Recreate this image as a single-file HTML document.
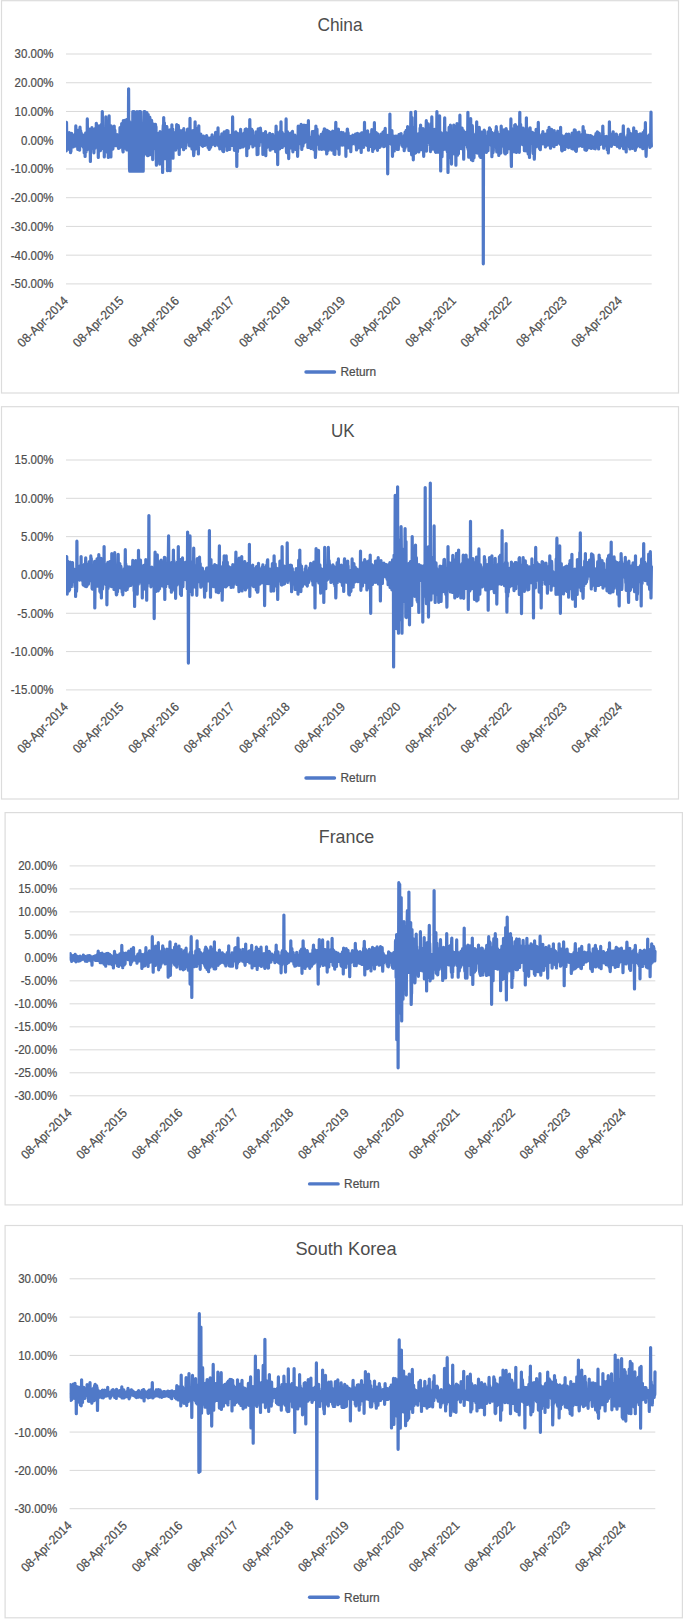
<!DOCTYPE html>
<html lang="en"><head><meta charset="utf-8"><title>Return charts</title>
<style>
html,body{margin:0;padding:0;background:#fff}
body{width:685px;height:1620px;overflow:hidden}
svg{display:block;font-family:"Liberation Sans", sans-serif}
text{stroke:#4d4d4d;stroke-width:0.22px}
</style></head><body>
<svg width="685" height="1620" viewBox="0 0 685 1620">
<rect width="685" height="1620" fill="#fff"/>
<g>
<rect x="1.5" y="0.7" width="677" height="392.3" fill="#fff" stroke="#dcdcdc" stroke-width="1.2"/>
<line x1="66.0" x2="651.7" y1="54.00" y2="54.00" stroke="#d9d9d9" stroke-width="1"/>
<text transform="translate(53.60,58.45) scale(0.9055,1)" text-anchor="end" font-size="12.7" fill="#4d4d4d">30.00%</text>
<line x1="66.0" x2="651.7" y1="82.74" y2="82.74" stroke="#d9d9d9" stroke-width="1"/>
<text transform="translate(53.60,87.19) scale(0.9055,1)" text-anchor="end" font-size="12.7" fill="#4d4d4d">20.00%</text>
<line x1="66.0" x2="651.7" y1="111.47" y2="111.47" stroke="#d9d9d9" stroke-width="1"/>
<text transform="translate(53.60,115.92) scale(0.9055,1)" text-anchor="end" font-size="12.7" fill="#4d4d4d">10.00%</text>
<line x1="66.0" x2="651.7" y1="140.21" y2="140.21" stroke="#d9d9d9" stroke-width="1"/>
<text transform="translate(53.60,144.66) scale(0.9055,1)" text-anchor="end" font-size="12.7" fill="#4d4d4d">0.00%</text>
<line x1="66.0" x2="651.7" y1="168.95" y2="168.95" stroke="#d9d9d9" stroke-width="1"/>
<text transform="translate(53.60,173.40) scale(0.9055,1)" text-anchor="end" font-size="12.7" fill="#4d4d4d">-10.00%</text>
<line x1="66.0" x2="651.7" y1="197.69" y2="197.69" stroke="#d9d9d9" stroke-width="1"/>
<text transform="translate(53.60,202.14) scale(0.9055,1)" text-anchor="end" font-size="12.7" fill="#4d4d4d">-20.00%</text>
<line x1="66.0" x2="651.7" y1="226.42" y2="226.42" stroke="#d9d9d9" stroke-width="1"/>
<text transform="translate(53.60,230.87) scale(0.9055,1)" text-anchor="end" font-size="12.7" fill="#4d4d4d">-30.00%</text>
<line x1="66.0" x2="651.7" y1="255.16" y2="255.16" stroke="#d9d9d9" stroke-width="1"/>
<text transform="translate(53.60,259.61) scale(0.9055,1)" text-anchor="end" font-size="12.7" fill="#4d4d4d">-40.00%</text>
<line x1="66.0" x2="651.7" y1="283.90" y2="283.90" stroke="#d9d9d9" stroke-width="1"/>
<text transform="translate(53.60,288.35) scale(0.9055,1)" text-anchor="end" font-size="12.7" fill="#4d4d4d">-50.00%</text>
<text transform="translate(69.00,301.60) rotate(-45) scale(0.93,1)" text-anchor="end" font-size="12.7" fill="#4d4d4d">08-Apr-2014</text>
<text transform="translate(124.40,301.60) rotate(-45) scale(0.93,1)" text-anchor="end" font-size="12.7" fill="#4d4d4d">08-Apr-2015</text>
<text transform="translate(179.80,301.60) rotate(-45) scale(0.93,1)" text-anchor="end" font-size="12.7" fill="#4d4d4d">08-Apr-2016</text>
<text transform="translate(235.20,301.60) rotate(-45) scale(0.93,1)" text-anchor="end" font-size="12.7" fill="#4d4d4d">08-Apr-2017</text>
<text transform="translate(290.60,301.60) rotate(-45) scale(0.93,1)" text-anchor="end" font-size="12.7" fill="#4d4d4d">08-Apr-2018</text>
<text transform="translate(346.00,301.60) rotate(-45) scale(0.93,1)" text-anchor="end" font-size="12.7" fill="#4d4d4d">08-Apr-2019</text>
<text transform="translate(401.40,301.60) rotate(-45) scale(0.93,1)" text-anchor="end" font-size="12.7" fill="#4d4d4d">08-Apr-2020</text>
<text transform="translate(456.80,301.60) rotate(-45) scale(0.93,1)" text-anchor="end" font-size="12.7" fill="#4d4d4d">08-Apr-2021</text>
<text transform="translate(512.20,301.60) rotate(-45) scale(0.93,1)" text-anchor="end" font-size="12.7" fill="#4d4d4d">08-Apr-2022</text>
<text transform="translate(567.60,301.60) rotate(-45) scale(0.93,1)" text-anchor="end" font-size="12.7" fill="#4d4d4d">08-Apr-2023</text>
<text transform="translate(623.00,301.60) rotate(-45) scale(0.93,1)" text-anchor="end" font-size="12.7" fill="#4d4d4d">08-Apr-2024</text>
<text transform="translate(340.00,30.60) scale(0.963,1)" text-anchor="middle" font-size="18" fill="#4d4d4d" style="stroke:none">China</text>
<line x1="306.0" x2="334.5" y1="372.0" y2="372.0" stroke="#5079c8" stroke-width="3.4" stroke-linecap="round"/>
<text transform="translate(340.50,376.35) scale(0.935,1)" font-size="12.7" fill="#4d4d4d">Return</text>
<clipPath id="clip100"><rect x="66.0" y="1.7" width="589.7" height="303.2"/></clipPath>
<polyline clip-path="url(#clip100)" points="66.3,150.8 66.5,122.4 66.7,134.8 67.0,137.1 67.2,147.9 67.4,137.1 67.6,138.5 67.8,138.5 68.1,138.4 68.3,137.3 68.5,134.8 68.7,144.8 69.0,140.0 69.2,132.5 69.4,149.6 69.6,138.2 69.8,145.3 70.1,140.4 70.3,136.5 70.5,152.6 70.7,148.1 70.9,151.6 71.2,142.1 71.4,146.0 71.6,133.3 71.8,145.5 72.0,134.6 72.3,143.8 72.5,139.2 72.7,140.0 72.9,140.2 73.1,147.0 73.4,138.1 73.6,137.5 73.8,138.4 74.0,135.1 74.3,143.4 74.5,141.4 74.7,142.7 74.9,146.1 75.1,136.5 75.4,143.2 75.6,140.7 75.8,125.9 76.0,138.3 76.2,139.4 76.5,133.1 76.7,133.5 76.9,133.2 77.1,143.8 77.3,133.8 77.6,141.2 77.8,149.5 78.0,148.1 78.2,131.9 78.4,134.2 78.7,130.2 78.9,147.2 79.1,142.6 79.3,148.3 79.6,150.2 79.8,140.3 80.0,127.2 80.2,131.1 80.4,142.9 80.7,130.8 80.9,142.2 81.1,137.6 81.3,133.1 81.5,142.5 81.8,145.6 82.0,135.0 82.2,141.5 82.4,144.6 82.6,135.6 82.9,142.0 83.1,137.3 83.3,147.1 83.5,135.1 83.7,146.3 84.0,142.9 84.2,153.0 84.4,136.2 84.6,139.9 84.9,138.6 85.1,156.4 85.3,139.7 85.5,143.8 85.7,132.8 86.0,151.9 86.2,137.6 86.4,132.5 86.6,149.4 86.8,139.4 87.1,150.0 87.3,118.9 87.5,137.6 87.7,130.0 87.9,138.9 88.2,145.1 88.4,135.8 88.6,140.2 88.8,131.3 89.1,143.2 89.3,129.0 89.5,138.9 89.7,138.5 89.9,133.9 90.2,144.8 90.4,161.5 90.6,138.1 90.8,141.0 91.0,140.0 91.3,143.5 91.5,142.5 91.7,133.7 91.9,127.5 92.1,148.5 92.4,128.9 92.6,134.9 92.8,131.4 93.0,138.8 93.2,145.7 93.5,141.9 93.7,148.1 93.9,152.8 94.1,140.8 94.4,137.9 94.6,141.7 94.8,138.2 95.0,148.3 95.2,128.7 95.5,141.2 95.7,139.8 95.9,133.2 96.1,143.6 96.3,123.3 96.6,126.4 96.8,126.9 97.0,138.7 97.2,143.6 97.4,136.5 97.7,144.4 97.9,138.5 98.1,138.3 98.3,157.5 98.5,135.7 98.8,138.6 99.0,125.8 99.2,140.9 99.4,143.3 99.7,143.2 99.9,126.7 100.1,139.9 100.3,144.0 100.5,150.7 100.8,147.4 101.0,137.0 101.2,134.2 101.4,124.3 101.6,146.4 101.9,135.5 102.1,128.3 102.3,111.5 102.5,125.5 102.7,148.3 103.0,147.6 103.2,130.6 103.4,136.1 103.6,128.9 103.8,134.5 104.1,137.7 104.3,156.9 104.5,146.2 104.7,133.8 105.0,152.1 105.2,141.7 105.4,130.9 105.6,152.0 105.8,116.9 106.1,131.0 106.3,139.5 106.5,142.1 106.7,134.9 106.9,133.9 107.2,143.1 107.4,125.2 107.6,126.5 107.8,131.7 108.0,128.8 108.3,157.5 108.5,151.1 108.7,126.7 108.9,151.3 109.1,115.8 109.4,150.4 109.6,135.6 109.8,137.2 110.0,138.6 110.3,156.6 110.5,134.6 110.7,138.3 110.9,157.0 111.1,125.9 111.4,141.7 111.6,147.3 111.8,135.2 112.0,144.4 112.2,135.8 112.5,142.8 112.7,146.9 112.9,149.1 113.1,133.3 113.3,139.3 113.6,145.0 113.8,143.1 114.0,143.2 114.2,126.1 114.5,137.1 114.7,138.9 114.9,130.2 115.1,142.6 115.3,145.7 115.6,143.1 115.8,138.7 116.0,141.3 116.2,141.8 116.4,138.9 116.7,141.7 116.9,143.7 117.1,134.5 117.3,141.4 117.5,141.7 117.8,135.7 118.0,136.4 118.2,147.3 118.4,144.8 118.6,148.5 118.9,147.1 119.1,137.1 119.3,142.9 119.5,145.4 119.8,147.6 120.0,127.6 120.2,142.5 120.4,138.7 120.6,140.7 120.9,143.4 121.1,138.3 121.3,139.8 121.5,133.2 121.7,123.5 122.0,145.1 122.2,141.1 122.4,141.2 122.6,141.1 122.8,150.1 123.1,151.9 123.3,120.7 123.5,136.7 123.7,145.5 123.9,123.7 124.2,134.6 124.4,142.3 124.6,130.2 124.8,120.4 125.1,147.1 125.3,148.2 125.5,129.2 125.7,146.0 125.9,131.1 126.2,137.5 126.4,144.8 126.6,119.5 126.8,150.0 127.0,135.5 127.3,149.3 127.5,148.6 127.7,136.4 127.9,145.1 128.1,131.0 128.4,129.8 128.6,88.8 128.8,138.8 129.0,149.1 129.2,121.1 129.5,167.6 129.7,171.2 129.9,151.8 130.1,153.7 130.4,171.2 130.6,137.4 130.8,171.2 131.0,171.2 131.2,122.7 131.5,138.7 131.7,171.2 131.9,171.2 132.1,154.1 132.3,171.2 132.6,171.2 132.8,111.5 133.0,147.5 133.2,165.0 133.4,135.9 133.7,165.4 133.9,139.1 134.1,111.5 134.3,142.3 134.6,160.6 134.8,171.2 135.0,117.3 135.2,145.6 135.4,120.7 135.7,171.2 135.9,156.9 136.1,137.0 136.3,122.0 136.5,133.2 136.8,157.1 137.0,111.5 137.2,143.2 137.4,171.2 137.6,171.2 137.9,144.6 138.1,131.3 138.3,171.2 138.5,171.2 138.7,124.4 139.0,128.5 139.2,122.0 139.4,111.5 139.6,138.0 139.9,171.2 140.1,111.5 140.3,111.5 140.5,111.5 140.7,121.0 141.0,134.4 141.2,131.1 141.4,128.6 141.6,171.2 141.8,144.2 142.1,153.4 142.3,131.4 142.5,133.5 142.7,153.0 142.9,159.1 143.2,171.2 143.4,132.7 143.6,155.9 143.8,150.3 144.0,111.5 144.3,111.5 144.5,142.4 144.7,111.5 144.9,111.5 145.2,136.3 145.4,148.5 145.6,148.4 145.8,123.7 146.0,153.8 146.3,113.0 146.5,127.5 146.7,143.1 146.9,112.6 147.1,135.7 147.4,155.4 147.6,149.2 147.8,155.7 148.0,114.9 148.2,114.6 148.5,139.1 148.7,143.0 148.9,128.0 149.1,132.1 149.3,150.3 149.6,154.8 149.8,117.2 150.0,128.1 150.2,143.8 150.5,128.6 150.7,140.6 150.9,151.2 151.1,145.3 151.3,129.4 151.6,120.4 151.8,137.7 152.0,154.3 152.2,148.9 152.4,133.4 152.7,159.6 152.9,131.1 153.1,147.6 153.3,149.2 153.5,124.1 153.8,147.2 154.0,132.9 154.2,144.6 154.4,137.9 154.7,133.5 154.9,132.2 155.1,142.9 155.3,127.3 155.5,124.3 155.8,148.1 156.0,126.7 156.2,150.5 156.4,165.2 156.6,139.2 156.9,140.1 157.1,134.6 157.3,160.8 157.5,146.8 157.7,139.2 158.0,138.4 158.2,139.8 158.4,138.8 158.6,133.4 158.8,147.5 159.1,148.5 159.3,141.2 159.5,135.3 159.7,164.1 160.0,131.7 160.2,145.7 160.4,150.5 160.6,145.0 160.8,153.8 161.1,149.2 161.3,142.3 161.5,137.3 161.7,135.2 161.9,142.2 162.2,141.9 162.4,136.1 162.6,172.4 162.8,142.3 163.0,130.4 163.3,125.2 163.5,143.1 163.7,117.5 163.9,148.7 164.1,125.8 164.4,122.8 164.6,142.0 164.8,158.7 165.0,138.3 165.3,131.8 165.5,130.9 165.7,136.5 165.9,126.3 166.1,140.0 166.4,127.3 166.6,156.0 166.8,126.6 167.0,128.7 167.2,131.1 167.5,170.7 167.7,141.9 167.9,156.6 168.1,139.4 168.3,136.8 168.6,133.9 168.8,155.7 169.0,149.6 169.2,160.9 169.4,139.4 169.7,152.7 169.9,129.9 170.1,170.7 170.3,135.1 170.6,144.3 170.8,140.5 171.0,142.6 171.2,154.4 171.4,131.6 171.7,149.8 171.9,124.8 172.1,155.8 172.3,145.1 172.5,129.2 172.8,129.3 173.0,158.2 173.2,138.3 173.4,138.7 173.6,138.1 173.9,145.2 174.1,149.8 174.3,139.0 174.5,136.2 174.8,132.9 175.0,141.2 175.2,147.1 175.4,134.5 175.6,150.1 175.9,145.3 176.1,144.9 176.3,140.5 176.5,138.8 176.7,124.6 177.0,134.2 177.2,131.0 177.4,143.1 177.6,147.7 177.8,143.1 178.1,144.7 178.3,125.7 178.5,127.7 178.7,133.8 178.9,141.1 179.2,154.4 179.4,143.6 179.6,146.9 179.8,147.6 180.1,138.0 180.3,131.6 180.5,130.8 180.7,141.4 180.9,139.3 181.2,137.8 181.4,146.6 181.6,131.3 181.8,136.5 182.0,139.3 182.3,136.1 182.5,144.2 182.7,141.8 182.9,130.1 183.1,132.0 183.4,138.4 183.6,149.7 183.8,128.7 184.0,136.7 184.2,134.3 184.5,144.7 184.7,137.6 184.9,137.9 185.1,138.8 185.4,135.3 185.6,147.9 185.8,133.2 186.0,141.5 186.2,142.2 186.5,139.5 186.7,136.1 186.9,137.7 187.1,141.9 187.3,134.9 187.6,129.1 187.8,134.8 188.0,141.0 188.2,132.3 188.4,134.5 188.7,142.3 188.9,132.3 189.1,145.3 189.3,136.3 189.5,130.1 189.8,146.0 190.0,118.4 190.2,143.9 190.4,132.6 190.7,142.7 190.9,140.2 191.1,137.5 191.3,133.5 191.5,134.6 191.8,144.4 192.0,149.0 192.2,130.8 192.4,139.5 192.6,134.1 192.9,145.3 193.1,140.2 193.3,130.7 193.5,152.6 193.7,155.7 194.0,152.0 194.2,133.8 194.4,139.5 194.6,146.3 194.8,149.3 195.1,121.8 195.3,139.7 195.5,141.0 195.7,134.2 196.0,144.9 196.2,136.6 196.4,133.6 196.6,142.7 196.8,136.8 197.1,133.6 197.3,146.7 197.5,143.9 197.7,149.5 197.9,135.2 198.2,127.9 198.4,154.0 198.6,140.0 198.8,125.8 199.0,145.1 199.3,135.8 199.5,136.7 199.7,142.7 199.9,136.0 200.2,138.6 200.4,140.6 200.6,141.4 200.8,134.1 201.0,139.5 201.3,143.5 201.5,142.4 201.7,138.8 201.9,138.4 202.1,145.6 202.4,136.8 202.6,144.8 202.8,146.3 203.0,141.5 203.2,138.7 203.5,136.1 203.7,145.2 203.9,141.9 204.1,137.1 204.3,140.4 204.6,137.3 204.8,138.5 205.0,145.4 205.2,142.6 205.5,137.4 205.7,144.1 205.9,137.7 206.1,140.6 206.3,143.0 206.6,135.5 206.8,144.1 207.0,143.5 207.2,141.9 207.4,142.0 207.7,139.0 207.9,139.5 208.1,147.5 208.3,138.1 208.5,138.0 208.8,138.1 209.0,139.0 209.2,149.5 209.4,138.3 209.6,143.7 209.9,148.5 210.1,140.1 210.3,138.5 210.5,147.4 210.8,146.6 211.0,138.8 211.2,137.5 211.4,142.3 211.6,139.4 211.9,140.2 212.1,134.9 212.3,139.2 212.5,144.3 212.7,142.2 213.0,137.6 213.2,137.4 213.4,137.2 213.6,140.8 213.8,143.4 214.1,137.5 214.3,140.8 214.5,141.6 214.7,144.4 214.9,138.6 215.2,145.7 215.4,142.6 215.6,132.3 215.8,140.7 216.1,133.8 216.3,139.1 216.5,138.1 216.7,139.3 216.9,132.3 217.2,138.4 217.4,139.0 217.6,139.6 217.8,142.6 218.0,127.9 218.3,143.2 218.5,145.7 218.7,139.5 218.9,138.9 219.1,146.3 219.4,139.3 219.6,140.3 219.8,148.9 220.0,148.3 220.3,139.2 220.5,140.2 220.7,137.7 220.9,146.2 221.1,136.5 221.4,139.8 221.6,138.5 221.8,133.9 222.0,140.4 222.2,141.4 222.5,143.2 222.7,150.6 222.9,140.9 223.1,151.5 223.3,148.4 223.6,151.7 223.8,135.0 224.0,140.9 224.2,131.8 224.4,143.1 224.7,142.1 224.9,143.6 225.1,144.5 225.3,136.3 225.6,145.9 225.8,135.7 226.0,135.1 226.2,142.1 226.4,139.4 226.7,130.5 226.9,140.1 227.1,150.3 227.3,144.5 227.5,130.5 227.8,144.7 228.0,130.9 228.2,141.8 228.4,135.5 228.6,142.3 228.9,143.3 229.1,141.8 229.3,148.9 229.5,138.0 229.7,149.5 230.0,140.6 230.2,146.2 230.4,138.9 230.6,135.4 230.9,140.1 231.1,142.0 231.3,139.2 231.5,138.8 231.7,137.6 232.0,143.3 232.2,136.5 232.4,145.5 232.6,116.9 232.8,135.1 233.1,139.6 233.3,138.3 233.5,139.2 233.7,139.5 233.9,135.5 234.2,139.9 234.4,150.3 234.6,141.4 234.8,138.9 235.0,143.9 235.3,144.4 235.5,133.0 235.7,137.1 235.9,131.8 236.2,138.7 236.4,148.5 236.6,141.8 236.8,166.4 237.0,142.7 237.3,137.1 237.5,151.6 237.7,141.1 237.9,133.7 238.1,146.0 238.4,136.8 238.6,140.1 238.8,145.8 239.0,143.4 239.2,133.8 239.5,143.0 239.7,139.9 239.9,140.6 240.1,147.7 240.4,135.8 240.6,129.3 240.8,138.0 241.0,141.0 241.2,144.0 241.5,143.9 241.7,136.5 241.9,147.0 242.1,137.9 242.3,139.4 242.6,139.1 242.8,140.2 243.0,147.0 243.2,146.0 243.4,141.1 243.7,138.0 243.9,133.2 244.1,138.4 244.3,136.5 244.5,144.2 244.8,133.9 245.0,136.5 245.2,129.4 245.4,133.2 245.7,139.8 245.9,146.1 246.1,128.8 246.3,145.2 246.5,137.8 246.8,155.7 247.0,135.0 247.2,146.6 247.4,146.2 247.6,132.8 247.9,135.4 248.1,129.5 248.3,144.4 248.5,148.2 248.7,146.0 249.0,144.7 249.2,142.3 249.4,138.4 249.6,138.5 249.8,119.5 250.1,143.4 250.3,138.6 250.5,142.1 250.7,134.3 251.0,141.6 251.2,142.7 251.4,131.4 251.6,131.5 251.8,129.4 252.1,144.2 252.3,133.4 252.5,130.5 252.7,138.4 252.9,147.0 253.2,141.2 253.4,136.5 253.6,139.5 253.8,139.6 254.0,136.6 254.3,135.9 254.5,136.5 254.7,142.6 254.9,144.6 255.1,136.5 255.4,136.8 255.6,140.4 255.8,145.5 256.0,131.9 256.3,142.8 256.5,145.5 256.7,141.8 256.9,139.4 257.1,154.7 257.4,151.8 257.6,140.4 257.8,139.8 258.0,154.3 258.2,128.8 258.5,132.0 258.7,136.4 258.9,135.9 259.1,145.7 259.3,139.6 259.6,136.3 259.8,139.4 260.0,137.5 260.2,135.5 260.4,128.1 260.7,131.6 260.9,141.7 261.1,132.5 261.3,141.5 261.6,138.9 261.8,138.5 262.0,140.2 262.2,141.0 262.4,139.3 262.7,139.1 262.9,154.5 263.1,141.1 263.3,147.7 263.5,133.5 263.8,139.4 264.0,145.6 264.2,137.8 264.4,139.4 264.6,136.9 264.9,147.1 265.1,141.9 265.3,145.6 265.5,131.5 265.8,155.7 266.0,142.1 266.2,141.0 266.4,141.0 266.6,143.7 266.9,146.1 267.1,147.4 267.3,135.4 267.5,145.6 267.7,137.9 268.0,135.3 268.2,137.0 268.4,140.6 268.6,137.6 268.8,143.9 269.1,146.9 269.3,136.7 269.5,137.2 269.7,133.4 269.9,140.2 270.2,150.2 270.4,142.5 270.6,142.7 270.8,134.5 271.1,142.6 271.3,136.7 271.5,139.5 271.7,139.4 271.9,139.4 272.2,138.1 272.4,146.7 272.6,134.3 272.8,148.8 273.0,144.0 273.3,144.1 273.5,137.3 273.7,144.7 273.9,136.3 274.1,145.7 274.4,136.3 274.6,138.6 274.8,138.0 275.0,139.1 275.2,137.1 275.5,146.1 275.7,151.7 275.9,135.7 276.1,126.1 276.4,141.3 276.6,141.9 276.8,141.1 277.0,139.1 277.2,135.0 277.5,142.0 277.7,164.6 277.9,132.8 278.1,141.4 278.3,136.0 278.6,145.6 278.8,139.5 279.0,142.3 279.2,132.6 279.4,143.0 279.7,148.8 279.9,138.6 280.1,143.5 280.3,130.9 280.5,136.9 280.8,143.0 281.0,121.8 281.2,139.7 281.4,141.7 281.7,141.1 281.9,139.4 282.1,132.3 282.3,147.5 282.5,139.4 282.8,137.4 283.0,136.4 283.2,141.0 283.4,139.2 283.6,141.6 283.9,134.4 284.1,144.0 284.3,138.8 284.5,145.6 284.7,136.8 285.0,145.8 285.2,134.0 285.4,144.5 285.6,140.8 285.9,140.6 286.1,118.9 286.3,144.4 286.5,151.7 286.7,152.5 287.0,142.2 287.2,131.6 287.4,131.6 287.6,136.7 287.8,133.3 288.1,140.1 288.3,140.9 288.5,137.5 288.7,158.6 288.9,133.8 289.2,138.1 289.4,146.5 289.6,143.0 289.8,148.3 290.0,134.9 290.3,140.3 290.5,133.3 290.7,133.2 290.9,141.0 291.2,136.4 291.4,140.3 291.6,147.9 291.8,137.5 292.0,138.9 292.3,138.8 292.5,131.4 292.7,147.4 292.9,151.8 293.1,135.8 293.4,135.1 293.6,137.9 293.8,139.8 294.0,139.3 294.2,139.4 294.5,139.7 294.7,142.6 294.9,135.2 295.1,144.4 295.3,149.3 295.6,140.0 295.8,143.0 296.0,142.8 296.2,138.5 296.5,143.6 296.7,143.2 296.9,142.6 297.1,144.5 297.3,142.5 297.6,156.3 297.8,148.2 298.0,149.0 298.2,126.2 298.4,138.3 298.7,143.1 298.9,135.7 299.1,138.6 299.3,139.3 299.5,143.2 299.8,142.4 300.0,143.7 300.2,130.9 300.4,142.3 300.6,137.0 300.9,136.4 301.1,124.4 301.3,131.5 301.5,138.4 301.8,149.5 302.0,130.6 302.2,134.7 302.4,138.8 302.6,143.9 302.9,146.1 303.1,141.4 303.3,143.9 303.5,134.9 303.7,136.4 304.0,125.0 304.2,138.9 304.4,141.1 304.6,141.8 304.8,142.3 305.1,141.5 305.3,138.1 305.5,138.7 305.7,140.3 306.0,125.3 306.2,139.1 306.4,137.1 306.6,141.4 306.8,131.4 307.1,133.3 307.3,139.5 307.5,133.3 307.7,136.1 307.9,147.4 308.2,146.8 308.4,120.7 308.6,139.2 308.8,143.7 309.0,147.5 309.3,143.2 309.5,140.5 309.7,140.8 309.9,139.4 310.1,141.4 310.4,139.1 310.6,141.7 310.8,145.6 311.0,148.6 311.3,140.8 311.5,136.8 311.7,143.0 311.9,142.7 312.1,135.9 312.4,131.6 312.6,132.5 312.8,144.8 313.0,146.2 313.2,142.6 313.5,139.3 313.7,138.1 313.9,149.7 314.1,131.4 314.3,134.4 314.6,143.5 314.8,136.7 315.0,145.6 315.2,141.1 315.4,157.5 315.7,151.5 315.9,126.1 316.1,144.1 316.3,142.6 316.6,138.5 316.8,140.9 317.0,129.2 317.2,144.2 317.4,135.1 317.7,142.0 317.9,137.9 318.1,141.0 318.3,141.7 318.5,142.9 318.8,141.6 319.0,145.2 319.2,143.5 319.4,149.2 319.6,142.5 319.9,147.3 320.1,143.0 320.3,148.0 320.5,136.3 320.7,142.2 321.0,141.8 321.2,134.4 321.4,148.8 321.6,139.5 321.9,149.4 322.1,145.6 322.3,144.8 322.5,133.9 322.7,144.4 323.0,137.0 323.2,137.4 323.4,131.7 323.6,141.7 323.8,149.0 324.1,147.7 324.3,128.8 324.5,135.1 324.7,129.0 324.9,129.2 325.2,137.6 325.4,140.0 325.6,136.5 325.8,149.8 326.0,142.5 326.3,140.1 326.5,134.5 326.7,153.9 326.9,153.4 327.2,130.4 327.4,135.2 327.6,143.0 327.8,143.5 328.0,131.0 328.3,150.3 328.5,145.3 328.7,133.3 328.9,134.1 329.1,131.7 329.4,137.7 329.6,133.4 329.8,148.7 330.0,147.9 330.2,147.9 330.5,146.1 330.7,145.9 330.9,135.8 331.1,135.6 331.4,147.4 331.6,150.1 331.8,134.4 332.0,132.0 332.2,149.9 332.5,138.6 332.7,131.2 332.9,138.6 333.1,132.3 333.3,139.8 333.6,139.3 333.8,143.4 334.0,153.9 334.2,145.1 334.4,149.8 334.7,134.8 334.9,154.5 335.1,141.6 335.3,140.0 335.5,136.9 335.8,122.4 336.0,133.5 336.2,138.1 336.4,139.1 336.7,139.0 336.9,133.1 337.1,145.3 337.3,143.0 337.5,139.9 337.8,143.9 338.0,139.2 338.2,149.2 338.4,129.0 338.6,138.1 338.9,139.5 339.1,154.3 339.3,134.8 339.5,134.1 339.7,141.7 340.0,140.4 340.2,145.0 340.4,138.4 340.6,139.7 340.8,132.6 341.1,136.7 341.3,132.3 341.5,141.3 341.7,139.0 342.0,141.5 342.2,140.1 342.4,145.1 342.6,140.9 342.8,144.5 343.1,132.5 343.3,137.4 343.5,139.0 343.7,143.3 343.9,134.5 344.2,139.6 344.4,137.9 344.6,143.6 344.8,139.2 345.0,145.5 345.3,145.5 345.5,145.1 345.7,135.4 345.9,156.3 346.1,133.5 346.4,148.8 346.6,138.0 346.8,145.3 347.0,138.0 347.3,129.0 347.5,129.3 347.7,147.1 347.9,134.0 348.1,132.7 348.4,141.4 348.6,143.1 348.8,146.0 349.0,139.0 349.2,147.9 349.5,141.6 349.7,139.8 349.9,144.5 350.1,147.4 350.3,136.3 350.6,141.7 350.8,151.6 351.0,142.1 351.2,137.8 351.5,144.5 351.7,137.1 351.9,139.0 352.1,137.9 352.3,142.5 352.6,143.9 352.8,135.2 353.0,139.1 353.2,138.1 353.4,137.0 353.7,138.3 353.9,137.9 354.1,138.2 354.3,139.9 354.5,143.2 354.8,135.4 355.0,138.7 355.2,141.5 355.4,136.5 355.6,134.0 355.9,145.3 356.1,139.4 356.3,135.7 356.5,150.0 356.8,140.1 357.0,140.5 357.2,143.6 357.4,133.4 357.6,136.5 357.9,140.5 358.1,147.9 358.3,139.6 358.5,145.4 358.7,138.4 359.0,142.1 359.2,139.0 359.4,134.1 359.6,136.4 359.8,141.6 360.1,140.7 360.3,146.2 360.5,134.5 360.7,147.8 360.9,144.8 361.2,152.5 361.4,139.6 361.6,132.9 361.8,143.8 362.1,143.3 362.3,143.4 362.5,139.4 362.7,138.0 362.9,132.6 363.2,134.7 363.4,139.0 363.6,147.3 363.8,132.8 364.0,137.0 364.3,145.2 364.5,122.4 364.7,139.3 364.9,133.1 365.1,137.4 365.4,142.4 365.6,138.1 365.8,132.9 366.0,138.2 366.2,141.4 366.5,142.4 366.7,133.1 366.9,133.5 367.1,145.4 367.4,136.0 367.6,130.8 367.8,133.9 368.0,142.5 368.2,140.5 368.5,150.2 368.7,141.4 368.9,141.0 369.1,137.1 369.3,141.7 369.6,143.5 369.8,134.9 370.0,137.0 370.2,142.9 370.4,146.3 370.7,145.0 370.9,140.6 371.1,140.3 371.3,140.6 371.6,135.0 371.8,129.7 372.0,134.8 372.2,138.2 372.4,138.5 372.7,151.4 372.9,134.2 373.1,141.7 373.3,135.0 373.5,147.1 373.8,141.8 374.0,148.8 374.2,142.0 374.4,122.7 374.6,144.5 374.9,142.8 375.1,142.9 375.3,139.0 375.5,145.3 375.7,142.7 376.0,146.8 376.2,132.6 376.4,143.8 376.6,141.6 376.9,148.3 377.1,140.1 377.3,142.5 377.5,150.3 377.7,133.8 378.0,142.6 378.2,142.2 378.4,136.8 378.6,146.1 378.8,141.1 379.1,145.2 379.3,143.2 379.5,142.4 379.7,147.3 379.9,143.1 380.2,139.3 380.4,146.4 380.6,139.7 380.8,142.7 381.0,134.0 381.3,141.9 381.5,139.1 381.7,140.0 381.9,142.6 382.2,134.8 382.4,138.7 382.6,138.9 382.8,136.9 383.0,132.1 383.3,145.4 383.5,132.0 383.7,146.7 383.9,141.0 384.1,135.0 384.4,131.0 384.6,145.1 384.8,131.1 385.0,135.1 385.2,128.4 385.5,145.9 385.7,136.0 385.9,142.0 386.1,141.7 386.3,140.1 386.6,142.7 386.8,137.9 387.0,139.7 387.2,145.9 387.5,135.3 387.7,173.8 387.9,147.4 388.1,141.2 388.3,140.0 388.6,141.2 388.8,141.2 389.0,135.0 389.2,142.8 389.4,142.3 389.7,142.7 389.9,114.1 390.1,143.4 390.3,139.6 390.5,135.0 390.8,139.4 391.0,139.3 391.2,142.1 391.4,142.1 391.7,144.8 391.9,130.5 392.1,140.9 392.3,143.4 392.5,156.3 392.8,141.3 393.0,135.8 393.2,138.7 393.4,147.6 393.6,143.8 393.9,146.3 394.1,141.5 394.3,150.9 394.5,136.3 394.7,139.3 395.0,139.7 395.2,139.4 395.4,138.2 395.6,145.0 395.8,139.9 396.1,136.2 396.3,136.6 396.5,145.6 396.7,142.5 397.0,141.7 397.2,149.5 397.4,144.3 397.6,140.4 397.8,138.2 398.1,141.4 398.3,149.4 398.5,141.5 398.7,143.8 398.9,134.5 399.2,135.3 399.4,142.1 399.6,134.4 399.8,141.4 400.0,139.1 400.3,135.5 400.5,137.9 400.7,140.9 400.9,139.4 401.1,133.6 401.4,140.9 401.6,138.2 401.8,145.3 402.0,137.6 402.3,142.8 402.5,137.2 402.7,146.5 402.9,138.1 403.1,139.9 403.4,139.0 403.6,138.2 403.8,136.6 404.0,145.2 404.2,150.6 404.5,140.6 404.7,134.6 404.9,148.4 405.1,132.0 405.3,147.0 405.6,138.7 405.8,139.6 406.0,139.2 406.2,130.3 406.4,146.0 406.7,144.8 406.9,142.5 407.1,137.6 407.3,144.7 407.6,126.7 407.8,139.3 408.0,140.2 408.2,141.5 408.4,131.2 408.7,127.9 408.9,150.5 409.1,135.9 409.3,148.6 409.5,137.0 409.8,138.6 410.0,137.8 410.2,140.6 410.4,142.8 410.6,133.0 410.9,112.3 411.1,123.0 411.3,130.0 411.5,152.6 411.7,154.9 412.0,117.6 412.2,141.0 412.4,150.1 412.6,127.1 412.9,138.3 413.1,133.1 413.3,159.8 413.5,138.6 413.7,133.2 414.0,132.5 414.2,153.7 414.4,140.7 414.6,136.5 414.8,134.8 415.1,142.7 415.3,140.7 415.5,111.5 415.7,152.8 415.9,144.4 416.2,138.2 416.4,140.7 416.6,135.9 416.8,143.7 417.1,138.5 417.3,141.7 417.5,138.6 417.7,147.2 417.9,141.7 418.2,141.0 418.4,139.2 418.6,133.6 418.8,151.9 419.0,137.2 419.3,145.4 419.5,139.8 419.7,141.7 419.9,140.3 420.1,128.1 420.4,141.3 420.6,125.1 420.8,145.3 421.0,139.5 421.2,142.9 421.5,149.6 421.7,137.2 421.9,146.6 422.1,134.1 422.4,148.2 422.6,138.5 422.8,138.4 423.0,128.7 423.2,137.1 423.5,146.7 423.7,156.3 423.9,141.4 424.1,133.4 424.3,137.0 424.6,145.9 424.8,139.3 425.0,136.0 425.2,142.4 425.4,139.7 425.7,141.1 425.9,139.4 426.1,130.5 426.3,120.7 426.5,151.1 426.8,129.4 427.0,142.9 427.2,127.6 427.4,123.4 427.7,142.7 427.9,141.3 428.1,129.6 428.3,130.1 428.5,137.1 428.8,133.6 429.0,142.7 429.2,136.4 429.4,143.0 429.6,132.7 429.9,145.0 430.1,140.3 430.3,137.7 430.5,151.6 430.7,123.9 431.0,150.0 431.2,142.0 431.4,142.4 431.6,141.2 431.8,116.9 432.1,133.3 432.3,136.7 432.5,138.2 432.7,136.8 433.0,130.5 433.2,143.3 433.4,146.2 433.6,131.8 433.8,149.2 434.1,143.4 434.3,148.3 434.5,129.4 434.7,140.9 434.9,130.5 435.2,134.1 435.4,151.8 435.6,141.0 435.8,149.2 436.0,152.3 436.3,140.1 436.5,147.1 436.7,141.2 436.9,111.5 437.2,125.9 437.4,144.6 437.6,147.2 437.8,142.0 438.0,152.2 438.3,139.0 438.5,135.4 438.7,145.4 438.9,152.1 439.1,148.7 439.4,134.7 439.6,115.8 439.8,141.4 440.0,150.7 440.2,150.6 440.5,136.3 440.7,171.0 440.9,132.5 441.1,139.0 441.3,135.2 441.6,146.3 441.8,152.5 442.0,156.7 442.2,147.2 442.5,134.4 442.7,138.5 442.9,137.7 443.1,146.9 443.3,144.5 443.6,135.1 443.8,149.4 444.0,149.1 444.2,131.9 444.4,136.6 444.7,117.8 444.9,143.4 445.1,149.1 445.3,142.0 445.5,138.9 445.8,134.2 446.0,132.7 446.2,143.8 446.4,137.7 446.6,146.0 446.9,144.5 447.1,143.6 447.3,151.8 447.5,150.9 447.8,133.5 448.0,172.4 448.2,132.8 448.4,144.0 448.6,137.5 448.9,149.0 449.1,127.4 449.3,135.3 449.5,153.9 449.7,140.1 450.0,132.2 450.2,157.4 450.4,125.2 450.6,143.4 450.8,140.6 451.1,158.1 451.3,144.0 451.5,164.1 451.7,140.0 451.9,146.2 452.2,149.9 452.4,145.8 452.6,130.6 452.8,141.6 453.1,147.7 453.3,129.9 453.5,140.4 453.7,125.2 453.9,125.8 454.2,138.0 454.4,153.9 454.6,148.4 454.8,135.6 455.0,136.7 455.3,141.9 455.5,136.7 455.7,140.0 455.9,165.2 456.1,136.2 456.4,142.5 456.6,140.1 456.8,146.1 457.0,123.5 457.3,138.7 457.5,155.1 457.7,142.7 457.9,125.9 458.1,145.7 458.4,153.7 458.6,139.0 458.8,136.6 459.0,136.7 459.2,145.2 459.5,141.8 459.7,142.0 459.9,115.2 460.1,141.0 460.3,135.8 460.6,127.5 460.8,137.6 461.0,137.7 461.2,138.2 461.4,148.6 461.7,129.1 461.9,144.4 462.1,128.0 462.3,142.8 462.6,131.4 462.8,142.7 463.0,134.7 463.2,141.5 463.4,130.7 463.7,159.2 463.9,139.8 464.1,140.4 464.3,141.8 464.5,140.2 464.8,139.1 465.0,137.1 465.2,135.6 465.4,141.4 465.6,139.0 465.9,140.8 466.1,144.0 466.3,132.0 466.5,144.5 466.7,141.2 467.0,141.1 467.2,141.8 467.4,147.3 467.6,140.5 467.9,112.3 468.1,149.1 468.3,149.8 468.5,131.8 468.7,157.2 469.0,136.6 469.2,148.5 469.4,149.7 469.6,152.7 469.8,135.5 470.1,148.5 470.3,139.6 470.5,143.5 470.7,118.7 470.9,145.2 471.2,130.5 471.4,159.8 471.6,126.9 471.8,153.0 472.0,135.5 472.3,125.7 472.5,132.0 472.7,157.1 472.9,160.7 473.2,152.4 473.4,152.1 473.6,134.6 473.8,138.2 474.0,157.8 474.3,138.0 474.5,137.4 474.7,136.3 474.9,143.9 475.1,148.6 475.4,149.8 475.6,138.7 475.8,152.4 476.0,149.3 476.2,133.5 476.5,133.2 476.7,121.8 476.9,146.6 477.1,132.0 477.3,153.1 477.6,149.0 477.8,142.5 478.0,136.7 478.2,152.1 478.5,133.3 478.7,143.3 478.9,143.0 479.1,146.6 479.3,127.4 479.6,149.1 479.8,156.3 480.0,136.7 480.2,133.1 480.4,138.3 480.7,157.4 480.9,135.5 481.1,145.8 481.3,152.3 481.5,136.0 481.8,132.0 482.0,153.6 482.2,141.4 482.4,150.2 482.7,139.7 482.9,141.8 483.1,133.4 483.3,263.8 483.5,151.7 483.8,136.0 484.0,138.0 484.2,130.0 484.4,149.3 484.6,140.2 484.9,131.3 485.1,141.8 485.3,135.8 485.5,138.3 485.7,137.5 486.0,146.2 486.2,150.0 486.4,152.5 486.6,147.1 486.8,138.7 487.1,136.3 487.3,144.3 487.5,139.5 487.7,137.6 488.0,150.7 488.2,142.2 488.4,131.5 488.6,136.6 488.8,140.0 489.1,137.6 489.3,140.9 489.5,127.8 489.7,135.8 489.9,142.0 490.2,129.2 490.4,129.5 490.6,137.5 490.8,136.3 491.0,144.9 491.3,145.5 491.5,135.5 491.7,132.4 491.9,156.7 492.1,138.5 492.4,146.0 492.6,148.4 492.8,152.3 493.0,152.5 493.3,150.3 493.5,139.7 493.7,138.7 493.9,136.4 494.1,143.9 494.4,145.2 494.6,141.3 494.8,132.8 495.0,141.9 495.2,144.6 495.5,146.2 495.7,139.2 495.9,130.1 496.1,143.3 496.3,126.7 496.6,147.8 496.8,151.9 497.0,144.5 497.2,131.7 497.4,145.1 497.7,146.6 497.9,141.0 498.1,134.2 498.3,138.2 498.6,139.0 498.8,155.5 499.0,142.8 499.2,139.4 499.4,138.5 499.7,138.3 499.9,153.5 500.1,137.4 500.3,148.6 500.5,134.4 500.8,153.0 501.0,136.5 501.2,126.1 501.4,131.7 501.6,140.4 501.9,146.3 502.1,136.8 502.3,142.0 502.5,144.0 502.8,130.6 503.0,134.5 503.2,138.2 503.4,139.0 503.6,136.6 503.9,129.9 504.1,130.7 504.3,142.6 504.5,148.6 504.7,153.2 505.0,149.6 505.2,139.3 505.4,154.0 505.6,141.3 505.8,143.2 506.1,128.5 506.3,140.0 506.5,135.2 506.7,130.6 506.9,152.6 507.2,131.3 507.4,138.4 507.6,136.1 507.8,141.7 508.1,134.7 508.3,141.5 508.5,138.8 508.7,132.8 508.9,132.1 509.2,148.6 509.4,144.4 509.6,140.1 509.8,142.4 510.0,139.8 510.3,134.2 510.5,135.6 510.7,136.0 510.9,118.9 511.1,153.3 511.4,166.4 511.6,128.4 511.8,149.8 512.0,150.9 512.2,143.3 512.5,147.1 512.7,142.4 512.9,135.8 513.1,139.8 513.4,140.1 513.6,147.5 513.8,150.5 514.0,133.4 514.2,151.8 514.5,147.8 514.7,125.1 514.9,140.3 515.1,148.7 515.3,124.6 515.6,143.2 515.8,139.3 516.0,126.7 516.2,144.9 516.4,152.5 516.7,139.6 516.9,126.8 517.1,136.6 517.3,136.5 517.5,144.2 517.8,137.8 518.0,127.7 518.2,129.5 518.4,140.8 518.7,130.7 518.9,142.0 519.1,129.2 519.3,152.3 519.5,138.9 519.8,112.3 520.0,142.8 520.2,124.8 520.4,141.8 520.6,124.4 520.9,134.8 521.1,127.3 521.3,143.0 521.5,142.8 521.7,140.5 522.0,139.5 522.2,139.8 522.4,136.2 522.6,144.6 522.9,134.3 523.1,128.1 523.3,144.0 523.5,145.0 523.7,134.0 524.0,138.8 524.2,133.5 524.4,150.7 524.6,144.7 524.8,135.8 525.1,148.4 525.3,136.6 525.5,139.0 525.7,150.4 525.9,143.9 526.2,151.0 526.4,117.8 526.6,146.5 526.8,127.4 527.0,140.6 527.3,138.2 527.5,144.4 527.7,143.6 527.9,140.0 528.2,154.0 528.4,153.6 528.6,149.7 528.8,130.0 529.0,135.2 529.3,151.8 529.5,157.5 529.7,135.5 529.9,143.1 530.1,127.9 530.4,136.6 530.6,142.0 530.8,137.6 531.0,133.4 531.2,137.8 531.5,143.3 531.7,134.4 531.9,134.4 532.1,138.7 532.3,133.5 532.6,132.5 532.8,134.0 533.0,151.5 533.2,153.6 533.5,138.5 533.7,133.3 533.9,140.3 534.1,149.1 534.3,159.2 534.6,150.3 534.8,148.1 535.0,140.1 535.2,136.8 535.4,136.3 535.7,142.0 535.9,140.2 536.1,129.3 536.3,146.6 536.5,138.8 536.8,137.8 537.0,137.3 537.2,139.8 537.4,142.2 537.6,135.7 537.9,141.4 538.1,139.9 538.3,122.4 538.5,138.6 538.8,140.8 539.0,141.7 539.2,135.7 539.4,148.5 539.6,143.4 539.9,140.0 540.1,139.0 540.3,149.6 540.5,142.3 540.7,138.4 541.0,143.4 541.2,142.5 541.4,144.5 541.6,135.4 541.8,134.7 542.1,134.3 542.3,142.8 542.5,139.8 542.7,136.8 542.9,131.7 543.2,143.5 543.4,134.3 543.6,137.6 543.8,135.1 544.1,135.9 544.3,142.2 544.5,138.3 544.7,141.8 544.9,145.0 545.2,139.0 545.4,146.9 545.6,134.0 545.8,137.4 546.0,142.2 546.3,138.0 546.5,141.8 546.7,139.2 546.9,144.8 547.1,134.0 547.4,145.1 547.6,143.5 547.8,130.3 548.0,135.4 548.3,143.1 548.5,135.1 548.7,144.8 548.9,140.5 549.1,127.3 549.4,142.7 549.6,140.0 549.8,136.0 550.0,133.8 550.2,141.1 550.5,148.2 550.7,138.9 550.9,139.4 551.1,133.0 551.3,137.7 551.6,129.4 551.8,132.2 552.0,141.1 552.2,136.8 552.4,139.8 552.7,131.8 552.9,145.7 553.1,140.9 553.3,136.0 553.6,144.9 553.8,133.0 554.0,146.7 554.2,130.5 554.4,136.8 554.7,140.8 554.9,140.0 555.1,144.3 555.3,133.1 555.5,134.1 555.8,143.0 556.0,137.6 556.2,140.3 556.4,140.0 556.6,144.5 556.9,134.9 557.1,136.1 557.3,143.3 557.5,139.6 557.7,131.2 558.0,139.7 558.2,140.5 558.4,137.1 558.6,136.2 558.9,140.3 559.1,139.6 559.3,136.0 559.5,141.3 559.7,141.6 560.0,139.9 560.2,144.2 560.4,142.9 560.6,127.3 560.8,142.8 561.1,138.5 561.3,141.8 561.5,140.6 561.7,150.4 561.9,150.8 562.2,150.8 562.4,135.8 562.6,142.8 562.8,139.8 563.0,138.2 563.3,137.9 563.5,144.0 563.7,149.6 563.9,145.1 564.2,142.1 564.4,143.6 564.6,141.6 564.8,149.4 565.0,143.9 565.3,145.1 565.5,135.6 565.7,143.2 565.9,145.0 566.1,138.9 566.4,134.2 566.6,136.3 566.8,136.9 567.0,138.0 567.2,140.3 567.5,141.3 567.7,146.6 567.9,139.2 568.1,135.2 568.4,135.4 568.6,147.6 568.8,134.2 569.0,141.5 569.2,138.7 569.5,138.4 569.7,144.4 569.9,141.3 570.1,138.8 570.3,143.0 570.6,141.7 570.8,138.7 571.0,144.1 571.2,144.9 571.4,142.9 571.7,148.4 571.9,145.7 572.1,133.2 572.3,138.7 572.5,136.5 572.8,149.0 573.0,137.5 573.2,141.6 573.4,135.3 573.7,143.5 573.9,138.8 574.1,137.7 574.3,129.8 574.5,137.0 574.8,146.1 575.0,138.9 575.2,130.2 575.4,145.3 575.6,150.7 575.9,144.7 576.1,136.9 576.3,151.5 576.5,148.3 576.7,132.7 577.0,142.7 577.2,142.1 577.4,139.1 577.6,139.4 577.8,143.4 578.1,141.6 578.3,146.1 578.5,137.5 578.7,139.6 579.0,132.0 579.2,145.2 579.4,144.4 579.6,145.9 579.8,143.0 580.1,138.5 580.3,136.9 580.5,142.0 580.7,140.8 580.9,142.1 581.2,134.9 581.4,143.7 581.6,143.4 581.8,140.9 582.0,140.2 582.3,146.5 582.5,143.2 582.7,141.9 582.9,139.2 583.1,126.7 583.4,145.3 583.6,133.2 583.8,135.6 584.0,131.1 584.3,130.7 584.5,136.7 584.7,134.7 584.9,149.8 585.1,147.7 585.4,142.5 585.6,136.0 585.8,140.0 586.0,145.3 586.2,150.3 586.5,135.2 586.7,149.8 586.9,140.0 587.1,140.4 587.3,143.2 587.6,140.1 587.8,139.8 588.0,135.4 588.2,147.5 588.5,142.9 588.7,147.7 588.9,136.6 589.1,137.9 589.3,139.4 589.6,139.9 589.8,142.4 590.0,138.3 590.2,135.6 590.4,136.5 590.7,140.4 590.9,136.0 591.1,140.7 591.3,148.4 591.5,136.0 591.8,142.5 592.0,142.9 592.2,138.5 592.4,140.5 592.6,141.3 592.9,140.6 593.1,138.0 593.3,140.1 593.5,140.9 593.8,146.7 594.0,137.1 594.2,148.4 594.4,145.6 594.6,138.3 594.9,143.3 595.1,138.2 595.3,148.8 595.5,141.5 595.7,136.1 596.0,133.6 596.2,142.0 596.4,139.4 596.6,138.6 596.8,133.6 597.1,143.4 597.3,131.9 597.5,144.2 597.7,138.1 597.9,132.4 598.2,147.0 598.4,136.2 598.6,148.9 598.8,136.0 599.1,139.4 599.3,133.3 599.5,139.1 599.7,138.5 599.9,141.4 600.2,136.9 600.4,143.0 600.6,144.5 600.8,140.4 601.0,138.5 601.3,138.4 601.5,140.4 601.7,141.2 601.9,143.7 602.1,143.5 602.4,140.5 602.6,136.8 602.8,126.1 603.0,134.0 603.2,135.9 603.5,141.8 603.7,148.1 603.9,141.6 604.1,144.2 604.4,143.5 604.6,138.4 604.8,142.5 605.0,141.7 605.2,139.8 605.5,139.2 605.7,139.5 605.9,136.6 606.1,145.6 606.3,136.4 606.6,141.8 606.8,145.4 607.0,137.8 607.2,149.6 607.4,139.7 607.7,149.8 607.9,137.9 608.1,143.7 608.3,152.9 608.6,145.5 608.8,136.5 609.0,141.2 609.2,140.8 609.4,121.8 609.7,143.4 609.9,141.9 610.1,133.7 610.3,136.7 610.5,137.1 610.8,144.7 611.0,139.7 611.2,137.7 611.4,146.3 611.6,137.9 611.9,136.4 612.1,139.2 612.3,139.8 612.5,137.8 612.7,144.2 613.0,134.7 613.2,131.9 613.4,140.6 613.6,138.8 613.9,141.5 614.1,141.8 614.3,142.4 614.5,144.3 614.7,136.3 615.0,141.9 615.2,140.9 615.4,139.8 615.6,144.5 615.8,135.9 616.1,136.3 616.3,134.0 616.5,144.4 616.7,139.2 616.9,135.0 617.2,146.3 617.4,142.5 617.6,146.0 617.8,140.1 618.0,139.4 618.3,139.8 618.5,142.5 618.7,139.2 618.9,145.4 619.2,137.5 619.4,140.4 619.6,148.0 619.8,140.9 620.0,138.8 620.3,145.5 620.5,134.3 620.7,142.1 620.9,145.2 621.1,137.0 621.4,136.0 621.6,137.4 621.8,139.4 622.0,140.9 622.2,133.8 622.5,136.6 622.7,146.3 622.9,134.7 623.1,134.4 623.3,125.8 623.6,148.7 623.8,135.4 624.0,140.7 624.2,144.4 624.5,143.7 624.7,137.3 624.9,142.2 625.1,147.5 625.3,139.0 625.6,141.4 625.8,139.9 626.0,139.8 626.2,152.0 626.4,140.2 626.7,140.8 626.9,138.5 627.1,138.4 627.3,138.5 627.5,139.8 627.8,134.7 628.0,139.5 628.2,129.0 628.4,141.9 628.6,141.9 628.9,130.7 629.1,138.4 629.3,140.8 629.5,147.2 629.8,138.3 630.0,148.9 630.2,144.4 630.4,141.8 630.6,133.5 630.9,134.9 631.1,138.5 631.3,136.6 631.5,141.4 631.7,136.1 632.0,140.5 632.2,137.7 632.4,137.8 632.6,148.5 632.8,147.5 633.1,147.0 633.3,147.1 633.5,142.6 633.7,127.9 634.0,136.3 634.2,135.0 634.4,143.6 634.6,136.4 634.8,135.9 635.1,138.2 635.3,150.5 635.5,147.6 635.7,146.4 635.9,138.0 636.2,131.3 636.4,147.3 636.6,144.3 636.8,140.9 637.0,138.3 637.3,146.2 637.5,135.4 637.7,138.4 637.9,134.7 638.1,145.4 638.4,136.1 638.6,144.5 638.8,136.8 639.0,138.0 639.3,137.0 639.5,136.9 639.7,137.5 639.9,141.4 640.1,133.9 640.4,146.9 640.6,134.9 640.8,139.5 641.0,141.7 641.2,144.7 641.5,142.1 641.7,141.9 641.9,145.2 642.1,139.1 642.3,146.8 642.6,144.5 642.8,148.7 643.0,132.7 643.2,140.2 643.4,137.5 643.7,139.5 643.9,139.3 644.1,140.8 644.3,145.5 644.6,130.4 644.8,135.7 645.0,146.0 645.2,137.3 645.4,122.7 645.7,147.9 645.9,149.8 646.1,156.3 646.3,149.4 646.5,144.9 646.8,141.0 647.0,144.9 647.2,141.3 647.4,142.5 647.6,136.3 647.9,140.6 648.1,136.7 648.3,137.0 648.5,136.8 648.7,144.6 649.0,142.1 649.2,134.8 649.4,136.0 649.6,145.2 649.9,147.5 650.1,139.8 650.3,143.2 650.5,137.9 650.7,132.4 651.0,112.0 651.2,141.7 651.4,146.2" fill="none" stroke="#5079c8" stroke-width="3.2" stroke-linejoin="round" stroke-linecap="round"/>
</g>
<g>
<rect x="1.5" y="406.7" width="677" height="392.3" fill="#fff" stroke="#dcdcdc" stroke-width="1.2"/>
<line x1="66.0" x2="651.7" y1="460.00" y2="460.00" stroke="#d9d9d9" stroke-width="1"/>
<text transform="translate(53.60,464.45) scale(0.9055,1)" text-anchor="end" font-size="12.7" fill="#4d4d4d">15.00%</text>
<line x1="66.0" x2="651.7" y1="498.32" y2="498.32" stroke="#d9d9d9" stroke-width="1"/>
<text transform="translate(53.60,502.77) scale(0.9055,1)" text-anchor="end" font-size="12.7" fill="#4d4d4d">10.00%</text>
<line x1="66.0" x2="651.7" y1="536.63" y2="536.63" stroke="#d9d9d9" stroke-width="1"/>
<text transform="translate(53.60,541.08) scale(0.9055,1)" text-anchor="end" font-size="12.7" fill="#4d4d4d">5.00%</text>
<line x1="66.0" x2="651.7" y1="574.95" y2="574.95" stroke="#d9d9d9" stroke-width="1"/>
<text transform="translate(53.60,579.40) scale(0.9055,1)" text-anchor="end" font-size="12.7" fill="#4d4d4d">0.00%</text>
<line x1="66.0" x2="651.7" y1="613.27" y2="613.27" stroke="#d9d9d9" stroke-width="1"/>
<text transform="translate(53.60,617.72) scale(0.9055,1)" text-anchor="end" font-size="12.7" fill="#4d4d4d">-5.00%</text>
<line x1="66.0" x2="651.7" y1="651.58" y2="651.58" stroke="#d9d9d9" stroke-width="1"/>
<text transform="translate(53.60,656.03) scale(0.9055,1)" text-anchor="end" font-size="12.7" fill="#4d4d4d">-10.00%</text>
<line x1="66.0" x2="651.7" y1="689.90" y2="689.90" stroke="#d9d9d9" stroke-width="1"/>
<text transform="translate(53.60,694.35) scale(0.9055,1)" text-anchor="end" font-size="12.7" fill="#4d4d4d">-15.00%</text>
<text transform="translate(69.00,707.60) rotate(-45) scale(0.93,1)" text-anchor="end" font-size="12.7" fill="#4d4d4d">08-Apr-2014</text>
<text transform="translate(124.40,707.60) rotate(-45) scale(0.93,1)" text-anchor="end" font-size="12.7" fill="#4d4d4d">08-Apr-2015</text>
<text transform="translate(179.80,707.60) rotate(-45) scale(0.93,1)" text-anchor="end" font-size="12.7" fill="#4d4d4d">08-Apr-2016</text>
<text transform="translate(235.20,707.60) rotate(-45) scale(0.93,1)" text-anchor="end" font-size="12.7" fill="#4d4d4d">08-Apr-2017</text>
<text transform="translate(290.60,707.60) rotate(-45) scale(0.93,1)" text-anchor="end" font-size="12.7" fill="#4d4d4d">08-Apr-2018</text>
<text transform="translate(346.00,707.60) rotate(-45) scale(0.93,1)" text-anchor="end" font-size="12.7" fill="#4d4d4d">08-Apr-2019</text>
<text transform="translate(401.40,707.60) rotate(-45) scale(0.93,1)" text-anchor="end" font-size="12.7" fill="#4d4d4d">08-Apr-2020</text>
<text transform="translate(456.80,707.60) rotate(-45) scale(0.93,1)" text-anchor="end" font-size="12.7" fill="#4d4d4d">08-Apr-2021</text>
<text transform="translate(512.20,707.60) rotate(-45) scale(0.93,1)" text-anchor="end" font-size="12.7" fill="#4d4d4d">08-Apr-2022</text>
<text transform="translate(567.60,707.60) rotate(-45) scale(0.93,1)" text-anchor="end" font-size="12.7" fill="#4d4d4d">08-Apr-2023</text>
<text transform="translate(623.00,707.60) rotate(-45) scale(0.93,1)" text-anchor="end" font-size="12.7" fill="#4d4d4d">08-Apr-2024</text>
<text transform="translate(342.70,436.60) scale(0.945,1)" text-anchor="middle" font-size="18" fill="#4d4d4d" style="stroke:none">UK</text>
<line x1="306.0" x2="334.5" y1="778.0" y2="778.0" stroke="#5079c8" stroke-width="3.4" stroke-linecap="round"/>
<text transform="translate(340.50,782.35) scale(0.935,1)" font-size="12.7" fill="#4d4d4d">Return</text>
<clipPath id="clip101"><rect x="66.0" y="407.7" width="589.7" height="303.2"/></clipPath>
<polyline clip-path="url(#clip101)" points="66.3,579.8 66.5,584.4 66.7,556.6 67.0,568.7 67.2,594.1 67.4,571.7 67.6,561.1 67.8,566.3 68.1,569.9 68.3,570.8 68.5,583.7 68.7,570.7 69.0,591.0 69.2,578.2 69.4,579.1 69.6,589.7 69.8,576.0 70.1,562.1 70.3,578.0 70.5,585.2 70.7,575.7 70.9,570.7 71.2,574.1 71.4,575.0 71.6,586.4 71.8,572.5 72.0,571.9 72.3,564.9 72.5,562.5 72.7,568.9 72.9,581.8 73.1,581.1 73.4,580.1 73.6,573.0 73.8,579.2 74.0,569.0 74.3,574.0 74.5,573.7 74.7,572.4 74.9,573.8 75.1,587.0 75.4,569.5 75.6,596.4 75.8,569.7 76.0,582.1 76.2,590.7 76.5,591.3 76.7,587.2 76.9,541.2 77.1,568.4 77.3,565.8 77.6,567.0 77.8,572.8 78.0,573.7 78.2,576.3 78.4,576.2 78.7,579.2 78.9,572.4 79.1,573.3 79.3,577.1 79.6,580.2 79.8,572.0 80.0,565.8 80.2,574.4 80.4,573.0 80.7,579.4 80.9,576.8 81.1,556.6 81.3,576.8 81.5,578.7 81.8,573.4 82.0,569.1 82.2,580.5 82.4,565.3 82.6,577.2 82.9,577.0 83.1,584.4 83.3,585.0 83.5,569.7 83.7,582.7 84.0,570.3 84.2,574.6 84.4,573.2 84.6,564.0 84.9,575.5 85.1,586.1 85.3,586.0 85.5,564.4 85.7,557.8 86.0,575.7 86.2,580.8 86.4,586.6 86.6,569.3 86.8,586.4 87.1,582.8 87.3,573.6 87.5,574.0 87.7,576.2 87.9,564.0 88.2,582.7 88.4,584.1 88.6,578.8 88.8,574.3 89.1,578.6 89.3,561.5 89.5,580.7 89.7,569.9 89.9,578.9 90.2,571.8 90.4,577.6 90.6,577.5 90.8,555.9 91.0,577.5 91.3,558.4 91.5,580.7 91.7,578.6 91.9,568.7 92.1,588.5 92.4,589.1 92.6,574.8 92.8,571.7 93.0,570.5 93.2,577.5 93.5,585.9 93.7,567.0 93.9,570.7 94.1,585.2 94.4,574.2 94.6,561.4 94.8,607.9 95.0,588.9 95.2,580.0 95.5,579.3 95.7,573.1 95.9,570.5 96.1,585.4 96.3,582.0 96.6,570.4 96.8,571.7 97.0,558.9 97.2,586.2 97.4,581.3 97.7,566.5 97.9,580.6 98.1,570.9 98.3,575.4 98.5,582.0 98.8,554.7 99.0,575.2 99.2,580.8 99.4,576.8 99.7,571.3 99.9,591.5 100.1,584.3 100.3,588.9 100.5,592.4 100.8,562.6 101.0,558.3 101.2,561.7 101.4,597.9 101.6,570.5 101.9,567.6 102.1,583.5 102.3,567.4 102.5,589.2 102.7,586.9 103.0,583.0 103.2,581.2 103.4,582.7 103.6,567.1 103.8,581.4 104.1,546.6 104.3,578.1 104.5,564.3 104.7,579.6 105.0,572.4 105.2,566.8 105.4,583.2 105.6,580.9 105.8,577.3 106.1,584.6 106.3,564.7 106.5,579.2 106.7,565.4 106.9,604.8 107.2,574.8 107.4,563.6 107.6,579.1 107.8,562.4 108.0,588.4 108.3,581.4 108.5,563.7 108.7,585.5 108.9,570.0 109.1,577.7 109.4,578.6 109.6,579.6 109.8,561.5 110.0,586.0 110.3,569.0 110.5,571.8 110.7,578.3 110.9,575.6 111.1,568.3 111.4,579.5 111.6,586.6 111.8,553.5 112.0,581.8 112.2,578.6 112.5,574.3 112.7,565.6 112.9,556.0 113.1,571.1 113.3,573.7 113.6,566.4 113.8,572.0 114.0,589.5 114.2,579.8 114.5,583.2 114.7,552.7 114.9,562.5 115.1,571.5 115.3,581.9 115.6,567.4 115.8,585.8 116.0,572.3 116.2,592.1 116.4,594.9 116.7,594.4 116.9,574.7 117.1,583.4 117.3,569.3 117.5,591.8 117.8,569.9 118.0,583.8 118.2,554.3 118.4,569.0 118.6,577.7 118.9,574.4 119.1,573.4 119.3,571.4 119.5,577.0 119.8,563.6 120.0,578.7 120.2,587.8 120.4,572.6 120.6,576.1 120.9,566.4 121.1,568.1 121.3,573.3 121.5,573.5 121.7,573.2 122.0,584.4 122.2,592.5 122.4,586.5 122.6,576.2 122.8,594.8 123.1,580.0 123.3,585.5 123.5,575.8 123.7,582.2 123.9,574.6 124.2,576.8 124.4,568.5 124.6,577.7 124.8,577.0 125.1,574.8 125.3,549.7 125.5,583.9 125.7,563.6 125.9,590.3 126.2,574.2 126.4,565.8 126.6,576.1 126.8,576.7 127.0,577.4 127.3,589.4 127.5,567.3 127.7,576.9 127.9,575.9 128.1,578.2 128.4,580.3 128.6,586.2 128.8,574.1 129.0,566.8 129.2,570.0 129.5,577.1 129.7,582.8 129.9,574.8 130.1,572.4 130.4,576.3 130.6,569.0 130.8,585.5 131.0,567.2 131.2,573.7 131.5,580.9 131.7,577.8 131.9,571.7 132.1,567.6 132.3,574.3 132.6,569.4 132.8,560.3 133.0,581.8 133.2,581.8 133.4,574.0 133.7,581.8 133.9,573.8 134.1,590.9 134.3,573.6 134.6,606.4 134.8,564.4 135.0,583.3 135.2,577.1 135.4,566.8 135.7,560.7 135.9,584.2 136.1,584.0 136.3,566.4 136.5,579.2 136.8,587.4 137.0,567.2 137.2,594.1 137.4,583.1 137.6,564.7 137.9,581.2 138.1,565.6 138.3,584.2 138.5,550.4 138.7,569.9 139.0,560.0 139.2,576.7 139.4,577.6 139.6,575.7 139.9,567.5 140.1,581.7 140.3,576.3 140.5,560.2 140.7,567.1 141.0,567.4 141.2,579.0 141.4,566.5 141.6,582.1 141.8,584.0 142.1,580.8 142.3,597.9 142.5,573.9 142.7,581.5 142.9,577.6 143.2,572.2 143.4,567.3 143.6,589.3 143.8,565.3 144.0,567.7 144.3,582.0 144.5,578.8 144.7,570.4 144.9,577.4 145.2,573.7 145.4,583.5 145.6,587.8 145.8,559.5 146.0,573.1 146.3,572.1 146.5,567.8 146.7,600.2 146.9,561.6 147.1,586.8 147.4,576.3 147.6,574.2 147.8,567.9 148.0,582.8 148.2,571.6 148.5,572.8 148.7,560.1 148.9,515.6 149.1,574.0 149.3,571.2 149.6,568.1 149.8,575.0 150.0,579.8 150.2,570.8 150.5,573.0 150.7,582.3 150.9,586.8 151.1,572.3 151.3,580.9 151.6,571.5 151.8,567.0 152.0,574.0 152.2,574.0 152.4,574.4 152.7,568.9 152.9,568.8 153.1,574.5 153.3,570.5 153.5,574.6 153.8,579.6 154.0,568.2 154.2,618.6 154.4,580.3 154.7,583.3 154.9,565.3 155.1,552.0 155.3,583.5 155.5,577.3 155.8,567.7 156.0,591.5 156.2,567.4 156.4,569.8 156.6,587.0 156.9,585.5 157.1,576.5 157.3,554.8 157.5,577.0 157.7,562.9 158.0,565.0 158.2,590.8 158.4,575.0 158.6,564.7 158.8,580.3 159.1,561.9 159.3,585.6 159.5,588.8 159.7,578.9 160.0,569.9 160.2,577.9 160.4,568.6 160.6,585.2 160.8,578.8 161.1,560.1 161.3,585.8 161.5,571.2 161.7,580.5 161.9,578.9 162.2,576.4 162.4,581.3 162.6,565.0 162.8,568.9 163.0,562.8 163.3,573.4 163.5,583.3 163.7,568.8 163.9,587.1 164.1,582.7 164.4,557.3 164.6,562.5 164.8,599.5 165.0,557.6 165.3,578.9 165.5,568.6 165.7,586.7 165.9,579.5 166.1,574.1 166.4,563.6 166.6,580.8 166.8,566.7 167.0,574.9 167.2,583.7 167.5,583.4 167.7,578.6 167.9,564.1 168.1,572.2 168.3,559.8 168.6,535.9 168.8,564.9 169.0,573.6 169.2,583.8 169.4,571.8 169.7,582.0 169.9,587.3 170.1,580.7 170.3,577.5 170.6,573.1 170.8,568.7 171.0,570.4 171.2,563.3 171.4,592.2 171.7,577.1 171.9,562.3 172.1,579.0 172.3,590.5 172.5,583.1 172.8,583.7 173.0,578.6 173.2,563.6 173.4,550.0 173.6,580.2 173.9,560.7 174.1,571.5 174.3,570.9 174.5,578.2 174.8,563.8 175.0,583.8 175.2,564.6 175.4,573.5 175.6,598.3 175.9,578.8 176.1,566.0 176.3,571.3 176.5,578.1 176.7,573.3 177.0,585.0 177.2,562.0 177.4,562.6 177.6,566.2 177.8,572.9 178.1,571.8 178.3,546.6 178.5,579.1 178.7,577.5 178.9,576.1 179.2,567.3 179.4,579.5 179.6,583.2 179.8,559.3 180.1,578.4 180.3,582.4 180.5,594.2 180.7,591.5 180.9,577.5 181.2,572.1 181.4,595.5 181.6,574.9 181.8,570.5 182.0,581.0 182.3,574.0 182.5,557.9 182.7,581.3 182.9,586.6 183.1,577.3 183.4,580.0 183.6,575.1 183.8,570.4 184.0,569.5 184.2,572.8 184.5,564.1 184.7,571.3 184.9,562.5 185.1,569.8 185.4,570.7 185.6,578.0 185.8,574.7 186.0,579.8 186.2,577.8 186.5,573.9 186.7,561.5 186.9,577.8 187.1,567.8 187.3,588.7 187.6,532.0 187.8,563.8 188.0,572.3 188.2,591.2 188.4,663.1 188.7,577.4 188.9,587.7 189.1,592.2 189.3,585.2 189.5,586.3 189.8,567.3 190.0,535.9 190.2,566.7 190.4,560.8 190.7,590.6 190.9,577.3 191.1,570.7 191.3,579.8 191.5,579.4 191.8,581.0 192.0,573.5 192.2,594.9 192.4,566.8 192.6,572.4 192.9,573.6 193.1,575.0 193.3,579.6 193.5,573.8 193.7,548.1 194.0,569.8 194.2,581.9 194.4,586.8 194.6,565.7 194.8,572.3 195.1,571.0 195.3,586.2 195.5,565.5 195.7,565.7 196.0,578.4 196.2,567.6 196.4,588.0 196.6,575.8 196.8,595.3 197.1,578.0 197.3,558.7 197.5,567.8 197.7,559.6 197.9,568.7 198.2,571.9 198.4,571.9 198.6,577.8 198.8,565.5 199.0,581.7 199.3,573.8 199.5,557.2 199.7,568.7 199.9,579.6 200.2,563.6 200.4,570.4 200.6,577.5 200.8,587.2 201.0,576.0 201.3,578.1 201.5,573.6 201.7,569.1 201.9,570.3 202.1,580.3 202.4,568.2 202.6,570.2 202.8,586.0 203.0,571.7 203.2,575.2 203.5,571.4 203.7,583.2 203.9,577.3 204.1,576.7 204.3,585.5 204.6,597.2 204.8,577.3 205.0,573.2 205.2,583.1 205.5,586.8 205.7,585.5 205.9,590.7 206.1,583.1 206.3,572.7 206.6,568.0 206.8,569.8 207.0,569.4 207.2,569.4 207.4,568.0 207.7,573.7 207.9,569.6 208.1,571.0 208.3,580.9 208.5,573.6 208.8,574.2 209.0,572.0 209.2,576.9 209.4,530.5 209.6,576.6 209.9,569.5 210.1,571.2 210.3,562.8 210.5,597.2 210.8,563.8 211.0,559.6 211.2,578.0 211.4,573.7 211.6,581.9 211.9,583.6 212.1,584.1 212.3,574.5 212.5,573.2 212.7,578.5 213.0,570.7 213.2,572.8 213.4,566.2 213.6,586.7 213.8,582.0 214.1,579.6 214.3,579.9 214.5,578.6 214.7,564.5 214.9,577.6 215.2,570.4 215.4,585.8 215.6,580.8 215.8,569.3 216.1,568.5 216.3,591.9 216.5,565.5 216.7,572.2 216.9,583.6 217.2,571.7 217.4,581.1 217.6,588.6 217.8,573.6 218.0,569.3 218.3,567.9 218.5,592.7 218.7,585.9 218.9,577.0 219.1,567.5 219.4,545.8 219.6,577.5 219.8,582.0 220.0,570.5 220.3,578.3 220.5,571.5 220.7,566.7 220.9,570.5 221.1,585.4 221.4,588.0 221.6,591.2 221.8,571.9 222.0,570.6 222.2,600.2 222.5,581.2 222.7,585.7 222.9,576.7 223.1,583.9 223.3,583.5 223.6,562.1 223.8,565.7 224.0,575.0 224.2,555.8 224.4,581.8 224.7,572.1 224.9,586.5 225.1,584.2 225.3,567.9 225.6,586.9 225.8,578.7 226.0,582.8 226.2,555.8 226.4,575.3 226.7,575.0 226.9,586.0 227.1,562.0 227.3,562.3 227.5,585.0 227.8,572.4 228.0,574.5 228.2,580.8 228.4,584.4 228.6,575.5 228.9,576.4 229.1,566.8 229.3,574.5 229.5,580.4 229.7,579.4 230.0,575.8 230.2,569.0 230.4,585.0 230.6,574.2 230.9,569.5 231.1,587.4 231.3,567.6 231.5,580.2 231.7,576.1 232.0,579.9 232.2,573.0 232.4,572.0 232.6,571.8 232.8,564.6 233.1,587.1 233.3,579.4 233.5,584.7 233.7,576.7 233.9,579.0 234.2,576.4 234.4,575.3 234.6,577.3 234.8,571.9 235.0,581.3 235.3,577.7 235.5,575.1 235.7,564.2 235.9,552.0 236.2,581.8 236.4,570.2 236.6,574.7 236.8,584.5 237.0,567.0 237.3,573.6 237.5,577.6 237.7,577.7 237.9,574.6 238.1,578.1 238.4,572.7 238.6,572.3 238.8,586.5 239.0,591.6 239.2,558.1 239.5,581.2 239.7,560.3 239.9,574.0 240.1,586.3 240.4,573.5 240.6,579.1 240.8,581.4 241.0,575.2 241.2,580.5 241.5,576.3 241.7,556.6 241.9,572.3 242.1,591.0 242.3,574.8 242.6,574.8 242.8,580.5 243.0,583.3 243.2,578.9 243.4,574.2 243.7,581.9 243.9,577.7 244.1,575.6 244.3,585.3 244.5,564.3 244.8,561.6 245.0,573.9 245.2,585.9 245.4,589.8 245.7,588.6 245.9,566.0 246.1,574.2 246.3,580.6 246.5,588.0 246.8,577.3 247.0,570.4 247.2,573.6 247.4,583.6 247.6,563.6 247.9,571.8 248.1,584.4 248.3,573.3 248.5,573.4 248.7,572.1 249.0,573.8 249.2,583.0 249.4,544.3 249.6,579.8 249.8,596.4 250.1,575.6 250.3,572.9 250.5,574.4 250.7,577.1 251.0,567.6 251.2,577.2 251.4,577.4 251.6,572.0 251.8,571.6 252.1,567.4 252.3,585.0 252.5,579.2 252.7,565.0 252.9,572.8 253.2,572.6 253.4,586.4 253.6,586.5 253.8,581.7 254.0,573.8 254.3,569.7 254.5,568.7 254.7,585.7 254.9,576.0 255.1,575.0 255.4,579.1 255.6,579.2 255.8,585.7 256.0,579.2 256.3,589.9 256.5,566.6 256.7,574.3 256.9,568.5 257.1,584.8 257.4,592.2 257.6,566.8 257.8,592.1 258.0,589.2 258.2,569.5 258.5,563.3 258.7,582.6 258.9,577.9 259.1,578.4 259.3,570.5 259.6,584.2 259.8,570.9 260.0,569.8 260.2,576.5 260.4,574.9 260.7,568.8 260.9,574.0 261.1,580.1 261.3,570.9 261.6,570.0 261.8,582.0 262.0,582.8 262.2,567.1 262.4,567.9 262.7,567.0 262.9,564.8 263.1,579.2 263.3,582.0 263.5,567.5 263.8,567.3 264.0,573.8 264.2,568.1 264.4,580.1 264.6,605.6 264.9,575.5 265.1,571.6 265.3,570.3 265.5,575.5 265.8,571.2 266.0,567.5 266.2,572.2 266.4,578.2 266.6,565.1 266.9,583.4 267.1,573.7 267.3,561.8 267.5,560.5 267.7,559.8 268.0,577.4 268.2,583.6 268.4,578.0 268.6,575.5 268.8,574.2 269.1,582.7 269.3,579.2 269.5,573.9 269.7,574.7 269.9,569.0 270.2,572.2 270.4,571.8 270.6,580.6 270.8,574.4 271.1,591.1 271.3,578.9 271.5,588.1 271.7,573.7 271.9,570.4 272.2,574.0 272.4,563.6 272.6,580.0 272.8,575.8 273.0,580.8 273.3,578.7 273.5,568.4 273.7,591.0 273.9,569.4 274.1,555.8 274.4,572.7 274.6,578.1 274.8,573.5 275.0,577.9 275.2,563.8 275.5,582.5 275.7,581.4 275.9,574.7 276.1,585.8 276.4,568.2 276.6,577.4 276.8,570.9 277.0,573.8 277.2,587.6 277.5,574.6 277.7,599.5 277.9,582.9 278.1,581.2 278.3,580.6 278.6,568.5 278.8,580.0 279.0,578.2 279.2,575.3 279.4,573.9 279.7,577.4 279.9,561.2 280.1,561.2 280.3,580.9 280.5,562.2 280.8,571.5 281.0,570.5 281.2,570.1 281.4,584.8 281.7,585.0 281.9,572.0 282.1,546.6 282.3,564.5 282.5,578.6 282.8,569.6 283.0,581.7 283.2,568.5 283.4,569.0 283.6,584.1 283.9,573.4 284.1,574.5 284.3,566.0 284.5,583.7 284.7,576.6 285.0,568.1 285.2,576.3 285.4,577.4 285.6,580.3 285.9,572.5 286.1,576.0 286.3,580.3 286.5,574.7 286.7,577.8 287.0,573.9 287.2,542.8 287.4,566.1 287.6,572.2 287.8,582.4 288.1,576.8 288.3,577.5 288.5,566.4 288.7,578.6 288.9,565.6 289.2,575.5 289.4,572.0 289.6,577.1 289.8,568.9 290.0,578.5 290.3,565.0 290.5,572.6 290.7,569.7 290.9,571.3 291.2,583.9 291.4,565.3 291.6,591.7 291.8,574.8 292.0,570.0 292.3,568.5 292.5,581.5 292.7,579.9 292.9,577.6 293.1,584.0 293.4,577.6 293.6,582.7 293.8,572.6 294.0,577.3 294.2,582.4 294.5,582.2 294.7,574.7 294.9,583.7 295.1,589.5 295.3,586.8 295.6,573.9 295.8,589.4 296.0,575.1 296.2,568.6 296.5,581.2 296.7,578.5 296.9,588.8 297.1,585.7 297.3,582.3 297.6,572.7 297.8,581.0 298.0,594.1 298.2,582.2 298.4,588.6 298.7,560.2 298.9,582.1 299.1,566.2 299.3,588.3 299.5,583.9 299.8,550.0 300.0,577.9 300.2,563.8 300.4,570.0 300.6,566.4 300.9,591.6 301.1,574.4 301.3,579.9 301.5,566.1 301.8,580.0 302.0,575.7 302.2,581.7 302.4,586.3 302.6,572.4 302.9,578.7 303.1,573.5 303.3,583.7 303.5,576.6 303.7,582.8 304.0,580.1 304.2,574.9 304.4,580.1 304.6,572.7 304.8,583.6 305.1,578.4 305.3,568.5 305.5,580.1 305.7,584.2 306.0,566.0 306.2,576.9 306.4,582.9 306.6,584.1 306.8,572.0 307.1,584.1 307.3,586.1 307.5,571.0 307.7,574.5 307.9,571.1 308.2,580.2 308.4,573.2 308.6,582.4 308.8,578.0 309.0,574.9 309.3,574.4 309.5,567.9 309.7,569.6 309.9,578.6 310.1,577.7 310.4,568.8 310.6,563.4 310.8,570.9 311.0,577.1 311.3,573.5 311.5,568.8 311.7,568.6 311.9,577.6 312.1,580.9 312.4,574.5 312.6,580.6 312.8,574.9 313.0,585.0 313.2,571.5 313.5,569.8 313.7,562.2 313.9,566.1 314.1,573.8 314.3,584.9 314.6,572.0 314.8,581.0 315.0,607.9 315.2,576.9 315.4,582.0 315.7,569.0 315.9,570.0 316.1,548.5 316.3,577.6 316.6,576.4 316.8,574.0 317.0,579.5 317.2,575.6 317.4,571.8 317.7,580.7 317.9,575.9 318.1,565.6 318.3,574.5 318.5,550.4 318.8,583.0 319.0,581.4 319.2,579.4 319.4,574.4 319.6,582.8 319.9,564.9 320.1,577.8 320.3,571.8 320.5,585.9 320.7,593.1 321.0,572.4 321.2,570.3 321.4,568.8 321.6,576.5 321.9,574.1 322.1,581.5 322.3,585.6 322.5,574.9 322.7,571.6 323.0,572.1 323.2,569.8 323.4,569.4 323.6,570.7 323.8,602.5 324.1,573.7 324.3,577.1 324.5,580.4 324.7,547.4 324.9,564.6 325.2,571.9 325.4,565.7 325.6,571.4 325.8,588.7 326.0,568.9 326.3,580.9 326.5,574.9 326.7,576.4 326.9,574.4 327.2,565.0 327.4,566.6 327.6,579.4 327.8,570.7 328.0,577.2 328.3,547.4 328.5,557.6 328.7,575.7 328.9,560.8 329.1,560.6 329.4,565.4 329.6,564.4 329.8,573.7 330.0,571.5 330.2,573.5 330.5,573.0 330.7,573.4 330.9,582.5 331.1,574.3 331.4,569.6 331.6,578.5 331.8,575.7 332.0,581.5 332.2,572.1 332.5,573.3 332.7,568.5 332.9,564.9 333.1,577.7 333.3,577.3 333.6,568.7 333.8,576.6 334.0,566.6 334.2,583.7 334.4,575.8 334.7,581.5 334.9,586.0 335.1,572.6 335.3,584.5 335.5,580.1 335.8,597.9 336.0,590.4 336.2,569.2 336.4,572.2 336.7,573.2 336.9,577.3 337.1,562.7 337.3,572.2 337.5,582.4 337.8,571.8 338.0,566.4 338.2,575.8 338.4,558.9 338.6,572.5 338.9,571.2 339.1,572.6 339.3,577.7 339.5,571.3 339.7,576.5 340.0,576.9 340.2,567.8 340.4,577.4 340.6,581.6 340.8,570.9 341.1,581.5 341.3,565.1 341.5,574.0 341.7,566.1 342.0,574.8 342.2,580.5 342.4,585.4 342.6,582.3 342.8,568.3 343.1,580.0 343.3,568.6 343.5,566.1 343.7,591.4 343.9,579.1 344.2,576.2 344.4,560.1 344.6,558.8 344.8,579.0 345.0,568.7 345.3,572.2 345.5,580.8 345.7,567.8 345.9,565.6 346.1,582.1 346.4,571.0 346.6,580.1 346.8,566.9 347.0,565.9 347.3,577.1 347.5,576.0 347.7,561.0 347.9,576.1 348.1,565.7 348.4,583.6 348.6,582.6 348.8,594.1 349.0,573.5 349.2,576.2 349.5,594.9 349.7,573.8 349.9,581.9 350.1,576.7 350.3,570.5 350.6,578.9 350.8,591.4 351.0,590.2 351.2,580.0 351.5,587.7 351.7,570.8 351.9,581.8 352.1,558.9 352.3,579.3 352.6,583.1 352.8,563.8 353.0,582.0 353.2,586.9 353.4,566.4 353.7,582.0 353.9,563.5 354.1,570.0 354.3,578.7 354.5,575.1 354.8,581.6 355.0,581.9 355.2,567.1 355.4,577.6 355.6,576.6 355.9,579.1 356.1,574.8 356.3,578.5 356.5,575.2 356.8,575.2 357.0,569.2 357.2,579.2 357.4,576.0 357.6,574.4 357.9,581.6 358.1,572.2 358.3,576.1 358.5,579.4 358.7,580.2 359.0,575.6 359.2,574.2 359.4,573.3 359.6,571.9 359.8,577.0 360.1,568.2 360.3,574.4 360.5,551.2 360.7,577.1 360.9,590.3 361.2,574.5 361.4,579.4 361.6,577.5 361.8,573.2 362.1,585.5 362.3,573.1 362.5,585.9 362.7,573.2 362.9,580.2 363.2,582.3 363.4,578.2 363.6,564.1 363.8,562.4 364.0,577.2 364.3,563.9 364.5,572.3 364.7,559.7 364.9,573.7 365.1,566.4 365.4,582.4 365.6,561.3 365.8,566.8 366.0,566.3 366.2,566.1 366.5,576.9 366.7,572.1 366.9,589.9 367.1,582.9 367.4,586.1 367.6,564.8 367.8,567.3 368.0,569.5 368.2,572.2 368.5,561.0 368.7,567.4 368.9,579.2 369.1,565.5 369.3,566.7 369.6,570.4 369.8,588.1 370.0,581.2 370.2,555.0 370.4,576.3 370.7,613.3 370.9,573.6 371.1,578.9 371.3,572.8 371.6,572.5 371.8,564.5 372.0,583.8 372.2,565.1 372.4,584.4 372.7,565.6 372.9,570.5 373.1,571.7 373.3,573.5 373.5,578.8 373.8,572.2 374.0,571.1 374.2,566.9 374.4,571.8 374.6,570.9 374.9,580.3 375.1,582.4 375.3,572.8 375.5,561.0 375.7,575.3 376.0,578.5 376.2,582.1 376.4,571.0 376.6,580.3 376.9,578.9 377.1,572.8 377.3,569.2 377.5,560.5 377.7,562.9 378.0,568.0 378.2,557.7 378.4,583.9 378.6,576.4 378.8,566.0 379.1,580.4 379.3,575.2 379.5,561.5 379.7,567.6 379.9,576.7 380.2,577.7 380.4,601.0 380.6,577.4 380.8,570.4 381.0,560.7 381.3,577.4 381.5,579.6 381.7,565.2 381.9,572.1 382.2,579.0 382.4,583.5 382.6,566.0 382.8,565.4 383.0,576.0 383.3,571.0 383.5,572.9 383.7,570.9 383.9,563.2 384.1,571.0 384.4,575.1 384.6,571.9 384.8,573.0 385.0,568.8 385.2,575.5 385.5,576.8 385.7,564.7 385.9,569.4 386.1,568.6 386.3,564.7 386.6,574.1 386.8,575.3 387.0,571.8 387.2,579.4 387.5,579.4 387.7,580.4 387.9,570.4 388.1,584.7 388.3,574.1 388.6,575.3 388.8,564.7 389.0,576.8 389.2,566.9 389.4,567.2 389.7,567.9 389.9,562.6 390.1,587.4 390.3,571.6 390.5,577.1 390.8,577.0 391.0,567.7 391.2,578.2 391.4,579.2 391.7,566.3 391.9,589.8 392.1,563.7 392.3,587.3 392.5,559.9 392.8,584.1 393.0,566.9 393.2,569.3 393.4,571.8 393.6,666.9 393.9,573.4 394.1,555.0 394.3,561.9 394.5,611.8 394.7,611.5 395.0,545.2 395.2,495.3 395.4,571.2 395.6,585.2 395.8,584.9 396.1,587.6 396.3,530.3 396.5,628.6 396.7,587.3 397.0,554.6 397.2,568.1 397.4,539.8 397.6,486.8 397.8,612.7 398.1,542.7 398.3,539.6 398.5,633.2 398.7,550.4 398.9,620.4 399.2,609.6 399.4,586.0 399.6,570.2 399.8,590.9 400.0,559.6 400.3,607.8 400.5,589.9 400.7,590.9 400.9,579.2 401.1,526.7 401.4,553.5 401.6,591.4 401.8,589.5 402.0,633.2 402.3,599.1 402.5,555.4 402.7,553.8 402.9,549.3 403.1,598.0 403.4,601.7 403.6,590.3 403.8,596.3 404.0,580.6 404.2,572.2 404.5,581.0 404.7,595.5 404.9,554.7 405.1,528.6 405.3,560.1 405.6,564.6 405.8,617.1 406.0,541.6 406.2,595.8 406.4,617.6 406.7,582.6 406.9,577.9 407.1,584.5 407.3,582.0 407.6,580.5 407.8,569.4 408.0,588.1 408.2,596.5 408.4,578.2 408.7,563.5 408.9,580.9 409.1,609.5 409.3,576.9 409.5,624.8 409.8,567.6 410.0,588.1 410.2,576.5 410.4,561.7 410.6,573.1 410.9,576.9 411.1,581.1 411.3,593.3 411.5,566.7 411.7,605.5 412.0,588.4 412.2,536.6 412.4,566.8 412.6,549.6 412.9,595.4 413.1,564.7 413.3,575.3 413.5,552.7 413.7,590.3 414.0,583.5 414.2,565.8 414.4,574.0 414.6,569.7 414.8,596.3 415.1,578.9 415.3,586.3 415.5,545.1 415.7,571.6 415.9,570.5 416.2,580.2 416.4,557.7 416.6,572.7 416.8,570.6 417.1,600.4 417.3,566.3 417.5,566.2 417.7,601.9 417.9,593.3 418.2,569.8 418.4,577.8 418.6,588.0 418.8,612.5 419.0,564.7 419.3,574.8 419.5,580.7 419.7,571.3 419.9,578.5 420.1,580.7 420.4,572.2 420.6,566.2 420.8,565.8 421.0,573.0 421.2,578.1 421.5,574.1 421.7,571.8 421.9,567.8 422.1,576.6 422.4,574.7 422.6,570.5 422.8,622.1 423.0,574.7 423.2,571.0 423.5,565.8 423.7,571.7 423.9,581.4 424.1,588.6 424.3,584.7 424.6,595.3 424.8,596.1 425.0,592.6 425.2,487.6 425.4,568.0 425.7,583.7 425.9,581.5 426.1,574.0 426.3,595.6 426.5,603.7 426.8,588.5 427.0,592.7 427.2,563.8 427.4,563.8 427.7,576.3 427.9,571.3 428.1,552.0 428.3,546.8 428.5,617.1 428.8,557.5 429.0,549.3 429.2,591.9 429.4,596.8 429.6,586.1 429.9,568.8 430.1,590.6 430.3,483.0 430.5,575.3 430.7,576.8 431.0,600.0 431.2,580.3 431.4,557.7 431.6,563.7 431.8,575.3 432.1,578.9 432.3,557.7 432.5,559.2 432.7,593.0 433.0,586.7 433.2,584.7 433.4,567.8 433.6,575.5 433.8,580.5 434.1,525.9 434.3,567.7 434.5,583.5 434.7,575.0 434.9,576.1 435.2,602.5 435.4,589.0 435.6,575.6 435.8,572.8 436.0,562.9 436.3,575.1 436.5,569.3 436.7,568.6 436.9,594.2 437.2,581.6 437.4,581.7 437.6,574.3 437.8,589.0 438.0,570.8 438.3,580.4 438.5,573.6 438.7,602.3 438.9,573.3 439.1,573.7 439.4,599.4 439.6,579.7 439.8,572.5 440.0,566.1 440.2,584.6 440.5,575.7 440.7,589.8 440.9,571.3 441.1,601.5 441.3,588.0 441.6,575.2 441.8,577.0 442.0,581.8 442.2,581.4 442.5,584.2 442.7,566.1 442.9,576.5 443.1,591.6 443.3,571.9 443.6,571.4 443.8,564.1 444.0,559.6 444.2,576.1 444.4,559.4 444.7,572.1 444.9,568.3 445.1,581.6 445.3,575.8 445.5,579.9 445.8,594.3 446.0,579.1 446.2,592.3 446.4,573.3 446.6,592.0 446.9,607.1 447.1,591.0 447.3,583.8 447.5,577.6 447.8,571.6 448.0,546.6 448.2,576.0 448.4,567.5 448.6,576.2 448.9,572.4 449.1,575.8 449.3,568.0 449.5,569.1 449.7,562.9 450.0,576.2 450.2,577.7 450.4,591.9 450.6,588.3 450.8,587.0 451.1,565.2 451.3,579.5 451.5,584.7 451.7,578.2 451.9,583.6 452.2,589.4 452.4,592.5 452.6,563.8 452.8,555.4 453.1,577.4 453.3,571.9 453.5,564.1 453.7,578.5 453.9,572.3 454.2,582.9 454.4,585.4 454.6,582.4 454.8,597.9 455.0,577.8 455.3,594.7 455.5,570.7 455.7,559.5 455.9,589.0 456.1,568.0 456.4,553.3 456.6,580.0 456.8,574.4 457.0,585.1 457.3,595.9 457.5,596.3 457.7,567.4 457.9,571.7 458.1,579.5 458.4,563.6 458.6,550.0 458.8,574.2 459.0,568.7 459.2,586.4 459.5,592.4 459.7,584.1 459.9,592.8 460.1,573.9 460.3,573.2 460.6,584.8 460.8,597.9 461.0,583.2 461.2,591.4 461.4,580.5 461.7,573.4 461.9,564.1 462.1,563.7 462.3,587.3 462.6,573.9 462.8,580.0 463.0,573.1 463.2,555.2 463.4,566.9 463.7,598.3 463.9,580.5 464.1,584.0 464.3,579.0 464.5,572.1 464.8,567.6 465.0,571.3 465.2,576.7 465.4,575.3 465.6,565.4 465.9,555.1 466.1,555.4 466.3,583.8 466.5,588.5 466.7,565.3 467.0,566.6 467.2,564.5 467.4,559.5 467.6,575.8 467.9,565.6 468.1,581.9 468.3,609.4 468.5,575.7 468.7,576.0 469.0,585.0 469.2,560.6 469.4,565.2 469.6,568.3 469.8,590.9 470.1,584.5 470.3,566.0 470.5,521.3 470.7,573.6 470.9,572.6 471.2,579.7 471.4,568.0 471.6,588.8 471.8,564.9 472.0,564.0 472.3,571.3 472.5,568.0 472.7,575.8 472.9,558.5 473.2,579.2 473.4,583.5 473.6,571.7 473.8,581.9 474.0,579.9 474.3,562.5 474.5,599.4 474.7,568.1 474.9,589.5 475.1,573.4 475.4,570.3 475.6,571.9 475.8,596.2 476.0,574.5 476.2,568.4 476.5,557.1 476.7,601.0 476.9,588.1 477.1,584.2 477.3,586.8 477.6,566.2 477.8,569.7 478.0,600.0 478.2,584.4 478.5,565.7 478.7,589.8 478.9,548.9 479.1,580.5 479.3,573.1 479.6,582.4 479.8,594.1 480.0,587.1 480.2,571.7 480.4,564.7 480.7,576.9 480.9,571.9 481.1,571.0 481.3,586.1 481.5,585.3 481.8,568.8 482.0,570.6 482.2,582.0 482.4,587.0 482.7,579.7 482.9,579.1 483.1,571.5 483.3,578.2 483.5,576.3 483.8,566.5 484.0,570.6 484.2,581.8 484.4,556.6 484.6,570.7 484.9,559.4 485.1,583.3 485.3,573.7 485.5,580.3 485.7,589.9 486.0,589.0 486.2,573.3 486.4,567.8 486.6,581.1 486.8,577.4 487.1,564.6 487.3,576.6 487.5,579.9 487.7,571.0 488.0,580.6 488.2,610.2 488.4,580.1 488.6,574.8 488.8,578.1 489.1,580.9 489.3,573.8 489.5,557.5 489.7,567.1 489.9,575.3 490.2,562.2 490.4,588.8 490.6,574.1 490.8,582.0 491.0,586.2 491.3,580.3 491.5,576.5 491.7,584.5 491.9,555.8 492.1,588.4 492.4,572.2 492.6,572.2 492.8,565.6 493.0,570.5 493.3,580.2 493.5,582.4 493.7,570.3 493.9,569.9 494.1,590.9 494.4,592.6 494.6,565.7 494.8,570.1 495.0,590.9 495.2,558.3 495.5,572.1 495.7,579.8 495.9,578.1 496.1,568.8 496.3,576.9 496.6,577.8 496.8,604.1 497.0,589.9 497.2,572.9 497.4,573.1 497.7,567.6 497.9,572.5 498.1,569.2 498.3,567.5 498.6,564.0 498.8,584.0 499.0,577.6 499.2,576.2 499.4,556.5 499.7,560.7 499.9,567.7 500.1,566.0 500.3,573.2 500.5,555.2 500.8,575.7 501.0,564.8 501.2,570.4 501.4,584.3 501.6,565.4 501.9,569.5 502.1,530.5 502.3,580.6 502.5,567.2 502.8,578.2 503.0,581.9 503.2,565.2 503.4,574.8 503.6,572.3 503.9,569.2 504.1,564.0 504.3,581.9 504.5,585.7 504.7,565.5 505.0,577.2 505.2,572.7 505.4,567.8 505.6,562.0 505.8,581.7 506.1,543.5 506.3,592.3 506.5,572.0 506.7,574.7 506.9,612.1 507.2,562.9 507.4,590.2 507.6,596.4 507.8,587.5 508.1,568.0 508.3,592.1 508.5,586.3 508.7,570.2 508.9,586.3 509.2,582.3 509.4,587.1 509.6,569.6 509.8,585.3 510.0,568.2 510.3,584.4 510.5,573.3 510.7,585.3 510.9,569.2 511.1,585.8 511.4,562.1 511.6,572.5 511.8,583.3 512.0,581.4 512.2,576.2 512.5,574.4 512.7,581.0 512.9,564.1 513.1,576.3 513.4,581.5 513.6,574.9 513.8,569.9 514.0,590.6 514.2,583.4 514.5,570.1 514.7,573.4 514.9,574.5 515.1,565.0 515.3,562.7 515.6,585.2 515.8,588.7 516.0,569.3 516.2,562.7 516.4,576.6 516.7,569.7 516.9,578.2 517.1,569.4 517.3,580.8 517.5,573.7 517.8,572.1 518.0,576.7 518.2,574.6 518.4,574.2 518.7,564.8 518.9,584.6 519.1,558.3 519.3,594.5 519.5,557.7 519.8,570.3 520.0,565.7 520.2,564.8 520.4,572.0 520.6,568.2 520.9,571.8 521.1,574.4 521.3,568.2 521.5,613.6 521.7,586.3 522.0,572.2 522.2,582.9 522.4,573.1 522.6,573.6 522.9,574.9 523.1,557.6 523.3,560.0 523.5,565.3 523.7,586.9 524.0,562.0 524.2,580.4 524.4,591.3 524.6,572.8 524.8,576.8 525.1,578.5 525.3,560.8 525.5,577.4 525.7,584.9 525.9,567.4 526.2,586.0 526.4,567.1 526.6,586.7 526.8,570.0 527.0,565.7 527.3,569.5 527.5,581.6 527.7,590.0 527.9,578.4 528.2,587.9 528.4,568.4 528.6,570.2 528.8,589.5 529.0,578.3 529.3,570.8 529.5,566.8 529.7,581.4 529.9,574.0 530.1,580.2 530.4,576.4 530.6,567.7 530.8,582.6 531.0,574.4 531.2,566.6 531.5,582.6 531.7,579.6 531.9,558.9 532.1,574.4 532.3,566.4 532.6,569.8 532.8,565.1 533.0,567.6 533.2,574.0 533.5,617.9 533.7,565.9 533.9,582.7 534.1,580.1 534.3,578.3 534.6,577.0 534.8,582.3 535.0,575.2 535.2,565.7 535.4,587.8 535.7,547.4 535.9,581.1 536.1,574.2 536.3,571.8 536.5,572.6 536.8,575.5 537.0,562.7 537.2,569.4 537.4,574.0 537.6,570.5 537.9,572.7 538.1,576.7 538.3,572.7 538.5,579.0 538.8,579.2 539.0,564.6 539.2,592.1 539.4,580.6 539.6,581.7 539.9,570.8 540.1,585.2 540.3,573.1 540.5,572.1 540.7,569.6 541.0,568.1 541.2,607.9 541.4,579.8 541.6,574.6 541.8,585.0 542.1,561.5 542.3,579.7 542.5,576.1 542.7,576.8 542.9,562.2 543.2,577.5 543.4,575.9 543.6,567.2 543.8,572.6 544.1,579.5 544.3,568.6 544.5,577.4 544.7,569.9 544.9,566.4 545.2,581.8 545.4,584.2 545.6,579.5 545.8,570.2 546.0,563.0 546.3,570.4 546.5,569.8 546.7,578.2 546.9,574.4 547.1,572.6 547.4,593.2 547.6,578.9 547.8,579.8 548.0,574.0 548.3,566.6 548.5,573.1 548.7,567.0 548.9,568.6 549.1,568.0 549.4,578.6 549.6,575.9 549.8,555.8 550.0,578.4 550.2,569.3 550.5,584.1 550.7,563.4 550.9,574.3 551.1,590.2 551.3,561.8 551.6,561.5 551.8,565.2 552.0,584.1 552.2,586.1 552.4,577.0 552.7,583.6 552.9,571.5 553.1,582.6 553.3,578.4 553.6,572.5 553.8,575.5 554.0,582.2 554.2,573.0 554.4,578.4 554.7,572.7 554.9,573.3 555.1,573.7 555.3,586.0 555.5,582.6 555.8,572.4 556.0,594.3 556.2,558.9 556.4,572.7 556.6,571.8 556.9,538.2 557.1,580.1 557.3,581.0 557.5,594.1 557.7,588.6 558.0,557.3 558.2,588.8 558.4,573.5 558.6,562.4 558.9,581.3 559.1,571.5 559.3,578.1 559.5,580.1 559.7,545.8 560.0,579.2 560.2,593.7 560.4,613.3 560.6,577.9 560.8,571.1 561.1,583.5 561.3,563.5 561.5,590.6 561.7,581.6 561.9,575.8 562.2,579.6 562.4,583.1 562.6,568.8 562.8,589.8 563.0,583.3 563.3,579.4 563.5,593.9 563.7,576.9 563.9,574.3 564.2,573.7 564.4,567.4 564.6,582.4 564.8,569.5 565.0,573.9 565.3,579.6 565.5,583.9 565.7,566.6 565.9,590.5 566.1,569.3 566.4,575.1 566.6,566.2 566.8,585.2 567.0,591.5 567.2,573.1 567.5,569.6 567.7,566.9 567.9,575.4 568.1,578.0 568.4,578.7 568.6,597.2 568.8,590.6 569.0,577.1 569.2,573.8 569.5,563.8 569.7,578.8 569.9,582.6 570.1,560.5 570.3,573.0 570.6,565.4 570.8,580.3 571.0,588.6 571.2,580.1 571.4,570.9 571.7,568.5 571.9,554.3 572.1,587.6 572.3,576.1 572.5,599.1 572.8,593.8 573.0,584.0 573.2,578.6 573.4,569.7 573.7,573.0 573.9,569.7 574.1,585.4 574.3,574.9 574.5,581.3 574.8,569.2 575.0,577.6 575.2,574.6 575.4,606.4 575.6,575.9 575.9,584.8 576.1,583.5 576.3,586.9 576.5,585.1 576.7,583.1 577.0,570.3 577.2,594.4 577.4,559.5 577.6,579.7 577.8,576.4 578.1,587.2 578.3,583.5 578.5,581.7 578.7,585.3 579.0,562.2 579.2,577.6 579.4,575.7 579.6,578.0 579.8,552.4 580.1,579.3 580.3,532.8 580.5,559.5 580.7,587.9 580.9,586.5 581.2,590.8 581.4,572.5 581.6,571.7 581.8,567.8 582.0,587.7 582.3,574.4 582.5,581.6 582.7,570.0 582.9,596.4 583.1,598.3 583.4,583.3 583.6,567.4 583.8,585.9 584.0,572.6 584.3,581.4 584.5,581.0 584.7,561.3 584.9,560.6 585.1,583.3 585.4,553.5 585.6,583.5 585.8,569.1 586.0,571.2 586.2,572.0 586.5,581.9 586.7,574.2 586.9,578.2 587.1,579.5 587.3,574.9 587.6,569.9 587.8,566.1 588.0,570.9 588.2,562.3 588.5,572.6 588.7,575.9 588.9,569.3 589.1,572.9 589.3,573.5 589.6,560.1 589.8,565.8 590.0,573.3 590.2,576.5 590.4,571.3 590.7,570.3 590.9,576.4 591.1,582.0 591.3,588.9 591.5,553.9 591.8,573.7 592.0,575.5 592.2,565.6 592.4,558.2 592.6,585.2 592.9,554.8 593.1,557.4 593.3,560.2 593.5,576.4 593.8,575.0 594.0,569.4 594.2,572.5 594.4,574.2 594.6,568.5 594.9,570.1 595.1,581.4 595.3,590.4 595.5,575.3 595.7,574.8 596.0,585.9 596.2,583.4 596.4,585.9 596.6,576.4 596.8,585.0 597.1,570.5 597.3,576.2 597.5,573.7 597.7,561.7 597.9,573.2 598.2,582.4 598.4,561.8 598.6,575.3 598.8,585.4 599.1,555.0 599.3,576.3 599.5,578.0 599.7,558.2 599.9,581.9 600.2,568.8 600.4,569.9 600.6,584.5 600.8,569.7 601.0,576.6 601.3,576.6 601.5,574.8 601.7,565.2 601.9,570.6 602.1,560.7 602.4,576.1 602.6,581.7 602.8,570.3 603.0,588.1 603.2,565.5 603.5,564.5 603.7,563.5 603.9,569.5 604.1,575.8 604.4,569.9 604.6,582.7 604.8,572.5 605.0,573.7 605.2,571.1 605.5,586.0 605.7,570.9 605.9,577.0 606.1,582.7 606.3,580.9 606.6,572.8 606.8,570.7 607.0,590.8 607.2,580.1 607.4,560.2 607.7,558.7 607.9,569.8 608.1,576.4 608.3,582.2 608.6,555.6 608.8,575.3 609.0,565.4 609.2,592.6 609.4,582.8 609.7,554.8 609.9,564.7 610.1,572.1 610.3,593.0 610.5,569.4 610.8,569.0 611.0,562.7 611.2,542.0 611.4,589.1 611.6,574.0 611.9,574.8 612.1,579.3 612.3,583.0 612.5,589.5 612.7,575.3 613.0,591.8 613.2,580.9 613.4,568.2 613.6,586.8 613.9,578.2 614.1,556.9 614.3,588.2 614.5,580.7 614.7,573.2 615.0,560.9 615.2,566.9 615.4,561.9 615.6,567.1 615.8,582.2 616.1,580.1 616.3,575.6 616.5,573.1 616.7,563.4 616.9,579.0 617.2,570.3 617.4,562.7 617.6,594.2 617.8,570.6 618.0,574.1 618.3,577.8 618.5,578.3 618.7,586.4 618.9,587.8 619.2,606.0 619.4,583.7 619.6,564.8 619.8,588.0 620.0,586.5 620.3,562.0 620.5,576.1 620.7,562.8 620.9,584.4 621.1,553.5 621.4,561.8 621.6,568.1 621.8,589.4 622.0,585.1 622.2,564.8 622.5,573.5 622.7,564.3 622.9,573.8 623.1,574.9 623.3,571.1 623.6,564.6 623.8,574.7 624.0,576.6 624.2,576.5 624.5,577.0 624.7,571.8 624.9,562.0 625.1,569.2 625.3,557.3 625.6,577.5 625.8,582.9 626.0,575.2 626.2,590.3 626.4,567.7 626.7,573.3 626.9,578.6 627.1,575.5 627.3,575.3 627.5,572.7 627.8,573.7 628.0,562.4 628.2,565.0 628.4,596.8 628.6,602.5 628.9,561.2 629.1,581.5 629.3,572.4 629.5,579.2 629.8,590.7 630.0,565.8 630.2,569.2 630.4,590.0 630.6,577.3 630.9,571.2 631.1,570.2 631.3,586.7 631.5,568.5 631.7,573.5 632.0,586.8 632.2,577.3 632.4,568.0 632.6,565.1 632.8,576.6 633.1,562.9 633.3,574.9 633.5,571.9 633.7,568.3 634.0,586.3 634.2,574.2 634.4,587.8 634.6,591.7 634.8,582.2 635.1,583.6 635.3,575.9 635.5,555.8 635.7,576.0 635.9,584.2 636.2,571.7 636.4,587.3 636.6,575.4 636.8,599.5 637.0,576.4 637.3,594.4 637.5,593.1 637.7,567.5 637.9,569.7 638.1,575.3 638.4,568.7 638.6,572.8 638.8,572.2 639.0,581.7 639.3,569.5 639.5,567.6 639.7,567.1 639.9,573.7 640.1,572.3 640.4,565.6 640.6,578.8 640.8,565.3 641.0,584.5 641.2,606.0 641.5,560.4 641.7,559.1 641.9,569.3 642.1,583.4 642.3,572.4 642.6,573.1 642.8,575.3 643.0,574.8 643.2,567.4 643.4,572.2 643.7,543.5 643.9,569.4 644.1,577.6 644.3,570.0 644.6,575.6 644.8,562.1 645.0,578.2 645.2,580.7 645.4,573.9 645.7,570.8 645.9,577.5 646.1,577.3 646.3,572.2 646.5,574.6 646.8,576.7 647.0,564.3 647.2,572.5 647.4,565.2 647.6,569.1 647.9,584.1 648.1,576.1 648.3,562.6 648.5,571.2 648.7,554.1 649.0,573.9 649.2,576.8 649.4,584.5 649.6,589.3 649.9,582.9 650.1,559.8 650.3,551.6 650.5,560.6 650.7,567.4 651.0,597.9 651.2,581.8 651.4,566.6" fill="none" stroke="#5079c8" stroke-width="3.2" stroke-linejoin="round" stroke-linecap="round"/>
</g>
<g>
<rect x="5.1" y="812.6" width="677.3" height="392.3" fill="#fff" stroke="#dcdcdc" stroke-width="1.2"/>
<line x1="69.6" x2="655.3000000000001" y1="865.90" y2="865.90" stroke="#d9d9d9" stroke-width="1"/>
<text transform="translate(57.20,870.35) scale(0.9055,1)" text-anchor="end" font-size="12.7" fill="#4d4d4d">20.00%</text>
<line x1="69.6" x2="655.3000000000001" y1="888.89" y2="888.89" stroke="#d9d9d9" stroke-width="1"/>
<text transform="translate(57.20,893.34) scale(0.9055,1)" text-anchor="end" font-size="12.7" fill="#4d4d4d">15.00%</text>
<line x1="69.6" x2="655.3000000000001" y1="911.88" y2="911.88" stroke="#d9d9d9" stroke-width="1"/>
<text transform="translate(57.20,916.33) scale(0.9055,1)" text-anchor="end" font-size="12.7" fill="#4d4d4d">10.00%</text>
<line x1="69.6" x2="655.3000000000001" y1="934.87" y2="934.87" stroke="#d9d9d9" stroke-width="1"/>
<text transform="translate(57.20,939.32) scale(0.9055,1)" text-anchor="end" font-size="12.7" fill="#4d4d4d">5.00%</text>
<line x1="69.6" x2="655.3000000000001" y1="957.86" y2="957.86" stroke="#d9d9d9" stroke-width="1"/>
<text transform="translate(57.20,962.31) scale(0.9055,1)" text-anchor="end" font-size="12.7" fill="#4d4d4d">0.00%</text>
<line x1="69.6" x2="655.3000000000001" y1="980.85" y2="980.85" stroke="#d9d9d9" stroke-width="1"/>
<text transform="translate(57.20,985.30) scale(0.9055,1)" text-anchor="end" font-size="12.7" fill="#4d4d4d">-5.00%</text>
<line x1="69.6" x2="655.3000000000001" y1="1003.84" y2="1003.84" stroke="#d9d9d9" stroke-width="1"/>
<text transform="translate(57.20,1008.29) scale(0.9055,1)" text-anchor="end" font-size="12.7" fill="#4d4d4d">-10.00%</text>
<line x1="69.6" x2="655.3000000000001" y1="1026.83" y2="1026.83" stroke="#d9d9d9" stroke-width="1"/>
<text transform="translate(57.20,1031.28) scale(0.9055,1)" text-anchor="end" font-size="12.7" fill="#4d4d4d">-15.00%</text>
<line x1="69.6" x2="655.3000000000001" y1="1049.82" y2="1049.82" stroke="#d9d9d9" stroke-width="1"/>
<text transform="translate(57.20,1054.27) scale(0.9055,1)" text-anchor="end" font-size="12.7" fill="#4d4d4d">-20.00%</text>
<line x1="69.6" x2="655.3000000000001" y1="1072.81" y2="1072.81" stroke="#d9d9d9" stroke-width="1"/>
<text transform="translate(57.20,1077.26) scale(0.9055,1)" text-anchor="end" font-size="12.7" fill="#4d4d4d">-25.00%</text>
<line x1="69.6" x2="655.3000000000001" y1="1095.80" y2="1095.80" stroke="#d9d9d9" stroke-width="1"/>
<text transform="translate(57.20,1100.25) scale(0.9055,1)" text-anchor="end" font-size="12.7" fill="#4d4d4d">-30.00%</text>
<text transform="translate(72.60,1113.50) rotate(-45) scale(0.93,1)" text-anchor="end" font-size="12.7" fill="#4d4d4d">08-Apr-2014</text>
<text transform="translate(128.00,1113.50) rotate(-45) scale(0.93,1)" text-anchor="end" font-size="12.7" fill="#4d4d4d">08-Apr-2015</text>
<text transform="translate(183.40,1113.50) rotate(-45) scale(0.93,1)" text-anchor="end" font-size="12.7" fill="#4d4d4d">08-Apr-2016</text>
<text transform="translate(238.80,1113.50) rotate(-45) scale(0.93,1)" text-anchor="end" font-size="12.7" fill="#4d4d4d">08-Apr-2017</text>
<text transform="translate(294.20,1113.50) rotate(-45) scale(0.93,1)" text-anchor="end" font-size="12.7" fill="#4d4d4d">08-Apr-2018</text>
<text transform="translate(349.60,1113.50) rotate(-45) scale(0.93,1)" text-anchor="end" font-size="12.7" fill="#4d4d4d">08-Apr-2019</text>
<text transform="translate(405.00,1113.50) rotate(-45) scale(0.93,1)" text-anchor="end" font-size="12.7" fill="#4d4d4d">08-Apr-2020</text>
<text transform="translate(460.40,1113.50) rotate(-45) scale(0.93,1)" text-anchor="end" font-size="12.7" fill="#4d4d4d">08-Apr-2021</text>
<text transform="translate(515.80,1113.50) rotate(-45) scale(0.93,1)" text-anchor="end" font-size="12.7" fill="#4d4d4d">08-Apr-2022</text>
<text transform="translate(571.20,1113.50) rotate(-45) scale(0.93,1)" text-anchor="end" font-size="12.7" fill="#4d4d4d">08-Apr-2023</text>
<text transform="translate(626.60,1113.50) rotate(-45) scale(0.93,1)" text-anchor="end" font-size="12.7" fill="#4d4d4d">08-Apr-2024</text>
<text transform="translate(346.50,842.50) scale(0.992,1)" text-anchor="middle" font-size="18" fill="#4d4d4d" style="stroke:none">France</text>
<line x1="309.6" x2="338.1" y1="1183.9" y2="1183.9" stroke="#5079c8" stroke-width="3.4" stroke-linecap="round"/>
<text transform="translate(344.10,1188.25) scale(0.935,1)" font-size="12.7" fill="#4d4d4d">Return</text>
<clipPath id="clip102"><rect x="69.6" y="813.6" width="589.7" height="303.2"/></clipPath>
<polyline clip-path="url(#clip102)" points="69.9,957.3 70.1,956.3 70.3,953.7 70.6,959.5 70.8,958.8 71.0,956.6 71.2,957.9 71.4,956.0 71.7,961.4 71.9,955.8 72.1,955.9 72.3,960.6 72.6,958.3 72.8,958.7 73.0,958.3 73.2,955.7 73.4,958.4 73.7,959.0 73.9,956.7 74.1,955.8 74.3,958.5 74.5,957.2 74.8,960.6 75.0,955.5 75.2,954.4 75.4,956.4 75.6,957.8 75.9,961.8 76.1,958.4 76.3,961.1 76.5,956.8 76.7,956.1 77.0,956.2 77.2,957.6 77.4,957.1 77.6,959.0 77.9,957.5 78.1,957.5 78.3,957.8 78.5,961.2 78.7,957.4 79.0,957.1 79.2,959.3 79.4,957.0 79.6,956.3 79.8,960.9 80.1,956.2 80.3,958.9 80.5,960.3 80.7,957.7 80.9,959.6 81.2,958.9 81.4,959.8 81.6,959.0 81.8,959.4 82.0,958.5 82.3,958.9 82.5,959.2 82.7,956.8 82.9,957.9 83.2,957.3 83.4,955.2 83.6,956.7 83.8,957.9 84.0,959.4 84.3,956.4 84.5,957.1 84.7,956.3 84.9,958.2 85.1,958.8 85.4,961.2 85.6,957.1 85.8,960.7 86.0,958.8 86.2,956.9 86.5,957.8 86.7,958.2 86.9,957.0 87.1,961.5 87.3,957.9 87.6,955.9 87.8,956.3 88.0,960.2 88.2,956.8 88.5,957.4 88.7,959.4 88.9,960.2 89.1,958.2 89.3,955.5 89.6,957.0 89.8,959.5 90.0,957.8 90.2,955.9 90.4,958.1 90.7,958.9 90.9,957.4 91.1,961.2 91.3,957.6 91.5,960.9 91.8,958.2 92.0,965.2 92.2,958.2 92.4,959.1 92.7,958.4 92.9,956.9 93.1,959.2 93.3,958.8 93.5,957.5 93.8,956.7 94.0,958.0 94.2,958.9 94.4,957.0 94.6,958.8 94.9,956.1 95.1,956.4 95.3,955.8 95.5,960.4 95.7,959.1 96.0,958.6 96.2,960.5 96.4,959.0 96.6,956.2 96.8,960.5 97.1,958.8 97.3,954.6 97.5,957.2 97.7,956.7 98.0,958.0 98.2,951.0 98.4,959.5 98.6,957.3 98.8,960.5 99.1,957.9 99.3,959.9 99.5,958.4 99.7,953.9 99.9,956.3 100.2,962.6 100.4,958.6 100.6,953.6 100.8,953.6 101.0,961.8 101.3,956.6 101.5,958.0 101.7,962.7 101.9,957.0 102.1,953.2 102.4,960.2 102.6,958.9 102.8,955.6 103.0,959.2 103.3,959.3 103.5,957.3 103.7,963.3 103.9,957.0 104.1,964.2 104.4,957.8 104.6,956.2 104.8,954.3 105.0,962.2 105.2,957.3 105.5,957.3 105.7,966.1 105.9,958.5 106.1,957.3 106.3,956.5 106.6,953.7 106.8,957.6 107.0,958.2 107.2,958.3 107.4,958.0 107.7,956.5 107.9,953.3 108.1,961.5 108.3,957.9 108.6,963.5 108.8,963.7 109.0,957.5 109.2,963.8 109.4,957.0 109.7,954.4 109.9,961.3 110.1,960.7 110.3,958.0 110.5,960.0 110.8,958.2 111.0,960.6 111.2,955.7 111.4,957.3 111.6,958.4 111.9,964.6 112.1,961.2 112.3,957.9 112.5,957.0 112.7,960.7 113.0,957.1 113.2,956.7 113.4,968.0 113.6,956.7 113.9,959.0 114.1,963.2 114.3,958.3 114.5,951.4 114.7,957.0 115.0,958.0 115.2,955.4 115.4,955.8 115.6,957.4 115.8,962.0 116.1,961.9 116.3,962.0 116.5,955.2 116.7,956.8 116.9,963.7 117.2,956.7 117.4,965.7 117.6,957.7 117.8,956.2 118.1,959.1 118.3,955.9 118.5,955.5 118.7,966.5 118.9,959.0 119.2,956.7 119.4,961.1 119.6,964.8 119.8,953.9 120.0,957.6 120.3,960.4 120.5,961.0 120.7,958.4 120.9,954.5 121.1,959.1 121.4,956.6 121.6,957.3 121.8,945.4 122.0,958.5 122.2,965.7 122.5,964.3 122.7,967.7 122.9,955.7 123.1,952.9 123.4,956.2 123.6,963.1 123.8,958.3 124.0,961.0 124.2,965.0 124.5,963.1 124.7,961.0 124.9,956.3 125.1,963.8 125.3,953.7 125.6,958.3 125.8,953.2 126.0,954.2 126.2,957.5 126.4,957.8 126.7,957.1 126.9,957.2 127.1,956.2 127.3,953.9 127.5,956.3 127.8,953.2 128.0,954.8 128.2,959.7 128.4,956.2 128.7,951.0 128.9,954.8 129.1,959.1 129.3,954.2 129.5,959.7 129.8,958.6 130.0,955.0 130.2,957.3 130.4,962.1 130.6,964.6 130.9,960.8 131.1,961.6 131.3,949.1 131.5,961.9 131.7,962.0 132.0,953.6 132.2,961.0 132.4,959.3 132.6,956.6 132.8,958.0 133.1,956.8 133.3,950.6 133.5,947.7 133.7,957.1 134.0,956.2 134.2,959.3 134.4,959.8 134.6,959.2 134.8,957.2 135.1,959.0 135.3,957.2 135.5,959.0 135.7,960.5 135.9,959.2 136.2,959.3 136.4,960.5 136.6,960.3 136.8,956.7 137.0,963.1 137.3,955.6 137.5,960.2 137.7,958.7 137.9,954.1 138.2,955.0 138.4,961.1 138.6,957.2 138.8,953.6 139.0,960.1 139.3,959.1 139.5,953.5 139.7,960.8 139.9,950.7 140.1,960.9 140.4,959.6 140.6,959.8 140.8,960.0 141.0,954.2 141.2,956.4 141.5,957.8 141.7,957.6 141.9,968.5 142.1,963.2 142.3,955.2 142.6,966.6 142.8,954.5 143.0,960.0 143.2,965.5 143.5,955.5 143.7,955.2 143.9,963.2 144.1,962.5 144.3,964.0 144.6,962.2 144.8,965.9 145.0,961.9 145.2,953.3 145.4,960.9 145.7,957.0 145.9,947.7 146.1,957.8 146.3,960.6 146.5,960.6 146.8,960.3 147.0,957.1 147.2,959.5 147.4,956.0 147.6,953.4 147.9,956.8 148.1,966.5 148.3,957.1 148.5,959.9 148.8,961.1 149.0,962.6 149.2,959.7 149.4,950.9 149.6,951.1 149.9,951.3 150.1,962.2 150.3,957.6 150.5,953.9 150.7,960.5 151.0,955.5 151.2,953.1 151.4,951.0 151.6,956.3 151.8,956.9 152.1,958.8 152.3,936.7 152.5,957.8 152.7,958.5 152.9,955.7 153.2,972.1 153.4,959.3 153.6,949.3 153.8,960.2 154.1,954.6 154.3,955.3 154.5,961.8 154.7,958.6 154.9,957.0 155.2,961.5 155.4,965.5 155.6,946.1 155.8,961.9 156.0,960.2 156.3,959.8 156.5,958.6 156.7,953.6 156.9,954.0 157.1,961.3 157.4,956.6 157.6,954.8 157.8,959.1 158.0,952.5 158.3,942.7 158.5,954.4 158.7,969.8 158.9,952.2 159.1,958.9 159.4,962.6 159.6,962.2 159.8,961.9 160.0,956.0 160.2,967.4 160.5,964.4 160.7,952.0 160.9,951.6 161.1,964.2 161.3,956.9 161.6,956.1 161.8,958.7 162.0,960.1 162.2,950.2 162.4,958.8 162.7,945.9 162.9,951.1 163.1,962.2 163.3,961.8 163.6,948.5 163.8,961.9 164.0,952.7 164.2,952.8 164.4,957.1 164.7,959.7 164.9,957.8 165.1,963.9 165.3,957.2 165.5,959.0 165.8,961.6 166.0,960.2 166.2,953.2 166.4,957.4 166.6,958.9 166.9,949.1 167.1,957.5 167.3,954.5 167.5,962.7 167.7,963.6 168.0,956.3 168.2,977.2 168.4,966.6 168.6,955.8 168.9,955.0 169.1,957.4 169.3,953.1 169.5,962.0 169.7,954.4 170.0,941.8 170.2,958.6 170.4,975.3 170.6,956.7 170.8,966.5 171.1,956.0 171.3,955.3 171.5,950.0 171.7,962.3 171.9,954.8 172.2,961.6 172.4,955.1 172.6,959.9 172.8,960.8 173.0,959.5 173.3,951.1 173.5,951.3 173.7,957.5 173.9,957.2 174.2,955.5 174.4,964.3 174.6,947.1 174.8,962.7 175.0,965.1 175.3,959.0 175.5,965.3 175.7,944.1 175.9,954.5 176.1,960.5 176.4,957.2 176.6,961.9 176.8,967.1 177.0,964.3 177.2,950.0 177.5,958.3 177.7,963.5 177.9,961.6 178.1,960.8 178.4,952.4 178.6,957.0 178.8,946.8 179.0,946.1 179.2,953.6 179.5,954.4 179.7,950.7 179.9,960.5 180.1,959.6 180.3,968.9 180.6,954.4 180.8,964.1 181.0,956.5 181.2,949.6 181.4,966.9 181.7,960.9 181.9,963.6 182.1,963.4 182.3,954.5 182.5,963.8 182.8,956.4 183.0,957.5 183.2,969.8 183.4,967.6 183.7,966.5 183.9,951.8 184.1,969.2 184.3,957.0 184.5,950.5 184.8,968.9 185.0,965.8 185.2,952.5 185.4,966.8 185.6,953.8 185.9,952.5 186.1,948.2 186.3,958.5 186.5,958.3 186.7,960.9 187.0,954.6 187.2,955.2 187.4,958.2 187.6,957.1 187.8,965.3 188.1,964.4 188.3,970.1 188.5,963.8 188.7,955.1 189.0,957.2 189.2,963.0 189.4,961.7 189.6,961.5 189.8,953.7 190.1,984.1 190.3,952.4 190.5,955.6 190.7,971.8 190.9,955.2 191.2,936.7 191.4,961.7 191.6,951.3 191.8,997.4 192.0,960.4 192.3,957.3 192.5,956.3 192.7,958.8 192.9,955.5 193.1,960.2 193.4,956.6 193.6,958.6 193.8,958.0 194.0,962.7 194.3,958.8 194.5,966.7 194.7,966.4 194.9,959.1 195.1,955.8 195.4,962.9 195.6,956.7 195.8,950.9 196.0,955.1 196.2,954.1 196.5,959.0 196.7,966.3 196.9,960.5 197.1,940.8 197.3,963.9 197.6,957.3 197.8,961.2 198.0,953.4 198.2,957.6 198.4,956.7 198.7,955.7 198.9,958.5 199.1,949.5 199.3,963.1 199.6,963.0 199.8,958.7 200.0,957.5 200.2,969.3 200.4,952.4 200.7,960.0 200.9,953.6 201.1,962.7 201.3,961.9 201.5,956.4 201.8,960.7 202.0,961.6 202.2,956.6 202.4,954.1 202.6,959.0 202.9,955.6 203.1,961.7 203.3,955.6 203.5,962.6 203.8,956.1 204.0,963.8 204.2,956.8 204.4,952.7 204.6,957.6 204.9,965.7 205.1,949.3 205.3,961.7 205.5,967.3 205.7,947.1 206.0,962.8 206.2,954.3 206.4,956.9 206.6,948.7 206.8,949.1 207.1,969.4 207.3,955.6 207.5,967.3 207.7,959.4 207.9,960.4 208.2,960.2 208.4,968.6 208.6,971.7 208.8,954.1 209.1,954.6 209.3,950.9 209.5,959.9 209.7,964.8 209.9,957.9 210.2,967.1 210.4,959.9 210.6,964.8 210.8,946.8 211.0,965.3 211.3,964.9 211.5,957.0 211.7,965.0 211.9,962.7 212.1,958.3 212.4,959.7 212.6,950.5 212.8,958.5 213.0,949.0 213.2,954.4 213.5,966.9 213.7,960.5 213.9,950.4 214.1,968.8 214.4,941.8 214.6,969.0 214.8,959.9 215.0,952.9 215.2,952.2 215.5,960.5 215.7,968.8 215.9,957.6 216.1,960.1 216.3,955.5 216.6,957.6 216.8,953.2 217.0,962.5 217.2,958.6 217.4,959.6 217.7,961.7 217.9,956.3 218.1,965.3 218.3,963.1 218.5,961.5 218.8,958.1 219.0,954.4 219.2,956.2 219.4,950.0 219.7,957.8 219.9,963.3 220.1,957.0 220.3,957.6 220.5,957.6 220.8,954.6 221.0,962.6 221.2,962.0 221.4,958.4 221.6,955.0 221.9,961.2 222.1,953.7 222.3,952.9 222.5,959.3 222.7,960.0 223.0,958.3 223.2,962.5 223.4,954.1 223.6,957.6 223.9,955.9 224.1,960.7 224.3,957.6 224.5,958.8 224.7,954.9 225.0,964.1 225.2,955.7 225.4,957.8 225.6,958.2 225.8,966.0 226.1,958.8 226.3,960.0 226.5,954.9 226.7,960.3 226.9,960.9 227.2,952.7 227.4,956.8 227.6,960.1 227.8,957.1 228.0,955.6 228.3,958.8 228.5,958.4 228.7,945.9 228.9,958.3 229.2,965.8 229.4,956.3 229.6,955.3 229.8,955.8 230.0,955.4 230.3,966.1 230.5,962.6 230.7,957.7 230.9,957.4 231.1,958.4 231.4,966.1 231.6,962.7 231.8,960.8 232.0,955.1 232.2,952.9 232.5,966.2 232.7,958.0 232.9,962.2 233.1,955.7 233.3,957.5 233.6,957.0 233.8,957.9 234.0,960.1 234.2,960.5 234.5,959.3 234.7,953.3 234.9,948.0 235.1,951.7 235.3,959.3 235.6,947.5 235.8,956.1 236.0,958.1 236.2,958.0 236.4,964.5 236.7,968.0 236.9,962.9 237.1,959.6 237.3,957.6 237.5,963.7 237.8,959.0 238.0,938.1 238.2,950.9 238.4,959.9 238.6,961.6 238.9,954.1 239.1,958.0 239.3,961.3 239.5,949.5 239.8,959.8 240.0,956.1 240.2,959.2 240.4,954.1 240.6,953.8 240.9,959.5 241.1,959.7 241.3,952.5 241.5,957.0 241.7,954.4 242.0,956.7 242.2,953.5 242.4,955.2 242.6,961.2 242.8,949.3 243.1,958.1 243.3,957.2 243.5,956.2 243.7,951.0 244.0,962.0 244.2,957.5 244.4,958.4 244.6,959.1 244.8,963.2 245.1,965.3 245.3,961.0 245.5,951.0 245.7,944.1 245.9,959.6 246.2,958.8 246.4,951.8 246.6,958.6 246.8,959.3 247.0,954.9 247.3,951.9 247.5,956.1 247.7,957.1 247.9,961.4 248.1,961.4 248.4,957.9 248.6,959.7 248.8,960.0 249.0,957.0 249.3,954.9 249.5,950.9 249.7,963.0 249.9,957.3 250.1,951.2 250.4,962.1 250.6,955.3 250.8,962.7 251.0,951.7 251.2,960.5 251.5,955.0 251.7,945.4 251.9,959.7 252.1,968.0 252.3,961.3 252.6,957.4 252.8,955.6 253.0,954.8 253.2,961.8 253.4,953.1 253.7,956.3 253.9,958.1 254.1,961.3 254.3,963.0 254.6,965.6 254.8,960.7 255.0,958.5 255.2,951.4 255.4,954.4 255.7,962.0 255.9,954.2 256.1,961.9 256.3,947.2 256.5,947.8 256.8,955.8 257.0,960.2 257.2,969.4 257.4,955.7 257.6,955.2 257.9,956.4 258.1,961.5 258.3,953.7 258.5,949.4 258.7,956.1 259.0,960.0 259.2,960.2 259.4,952.8 259.6,951.1 259.9,959.5 260.1,965.5 260.3,955.2 260.5,959.6 260.7,956.8 261.0,947.1 261.2,952.8 261.4,966.4 261.6,962.3 261.8,957.6 262.1,964.8 262.3,964.7 262.5,959.6 262.7,960.0 262.9,959.4 263.2,956.7 263.4,960.9 263.6,959.0 263.8,958.8 264.0,953.7 264.3,965.5 264.5,956.1 264.7,967.6 264.9,968.5 265.2,956.8 265.4,956.8 265.6,957.1 265.8,959.2 266.0,958.3 266.3,962.4 266.5,946.8 266.7,952.5 266.9,964.2 267.1,959.7 267.4,962.4 267.6,966.8 267.8,960.6 268.0,959.7 268.2,968.1 268.5,968.0 268.7,959.0 268.9,960.1 269.1,951.4 269.4,960.7 269.6,952.0 269.8,959.7 270.0,961.3 270.2,957.0 270.5,958.8 270.7,958.3 270.9,962.2 271.1,956.2 271.3,958.4 271.6,957.3 271.8,957.0 272.0,954.2 272.2,958.1 272.4,958.2 272.7,955.7 272.9,955.2 273.1,957.1 273.3,958.6 273.5,959.0 273.8,959.7 274.0,960.3 274.2,955.3 274.4,960.3 274.7,956.4 274.9,962.6 275.1,955.6 275.3,958.5 275.5,952.1 275.8,954.7 276.0,955.7 276.2,945.0 276.4,960.4 276.6,959.6 276.9,958.9 277.1,961.3 277.3,955.3 277.5,955.1 277.7,958.8 278.0,951.8 278.2,957.9 278.4,962.5 278.6,958.7 278.8,957.6 279.1,959.6 279.3,956.7 279.5,963.3 279.7,958.9 280.0,958.6 280.2,956.2 280.4,959.4 280.6,959.7 280.8,958.2 281.1,972.8 281.3,959.3 281.5,959.2 281.7,965.4 281.9,952.0 282.2,964.3 282.4,950.7 282.6,958.9 282.8,951.0 283.0,959.4 283.3,955.3 283.5,957.1 283.7,958.6 283.9,915.1 284.1,959.1 284.4,961.7 284.6,953.2 284.8,960.6 285.0,953.5 285.3,958.6 285.5,972.1 285.7,951.9 285.9,953.1 286.1,959.7 286.4,960.5 286.6,960.7 286.8,953.9 287.0,963.7 287.2,960.2 287.5,955.4 287.7,953.9 287.9,961.4 288.1,960.9 288.3,962.4 288.6,955.2 288.8,962.4 289.0,959.2 289.2,956.3 289.5,955.4 289.7,954.6 289.9,960.9 290.1,957.4 290.3,956.5 290.6,954.6 290.8,940.8 291.0,953.8 291.2,960.6 291.4,956.6 291.7,960.9 291.9,948.7 292.1,958.3 292.3,958.2 292.5,955.3 292.8,959.6 293.0,952.5 293.2,952.6 293.4,956.1 293.6,957.5 293.9,964.1 294.1,959.5 294.3,955.8 294.5,957.0 294.8,966.1 295.0,956.4 295.2,955.7 295.4,961.5 295.6,962.4 295.9,957.8 296.1,963.0 296.3,963.5 296.5,965.6 296.7,952.3 297.0,958.3 297.2,961.7 297.4,963.6 297.6,955.2 297.8,960.2 298.1,959.9 298.3,959.2 298.5,960.6 298.7,957.1 298.9,955.1 299.2,965.4 299.4,963.1 299.6,956.8 299.8,961.5 300.1,958.4 300.3,950.9 300.5,955.6 300.7,952.2 300.9,951.7 301.2,951.9 301.4,956.6 301.6,949.0 301.8,959.3 302.0,973.3 302.3,954.0 302.5,960.3 302.7,957.3 302.9,959.7 303.1,940.8 303.4,956.1 303.6,954.6 303.8,959.5 304.0,963.4 304.2,952.0 304.5,948.9 304.7,962.5 304.9,964.8 305.1,968.5 305.4,952.0 305.6,966.7 305.8,956.9 306.0,956.9 306.2,961.9 306.5,959.6 306.7,961.3 306.9,954.0 307.1,950.6 307.3,951.1 307.6,965.9 307.8,964.6 308.0,960.6 308.2,956.4 308.4,954.9 308.7,965.4 308.9,957.7 309.1,954.0 309.3,958.2 309.6,959.2 309.8,968.3 310.0,954.6 310.2,956.9 310.4,960.1 310.7,960.3 310.9,955.7 311.1,954.1 311.3,959.3 311.5,966.1 311.8,956.0 312.0,963.3 312.2,959.2 312.4,960.0 312.6,964.2 312.9,949.9 313.1,963.2 313.3,949.6 313.5,945.0 313.7,959.3 314.0,958.1 314.2,955.8 314.4,963.1 314.6,949.7 314.9,958.6 315.1,950.5 315.3,953.9 315.5,957.8 315.7,960.6 316.0,955.7 316.2,955.5 316.4,961.2 316.6,958.1 316.8,953.1 317.1,950.5 317.3,958.0 317.5,958.4 317.7,962.2 317.9,964.4 318.2,984.1 318.4,957.0 318.6,958.9 318.8,954.8 319.0,955.5 319.3,939.5 319.5,966.5 319.7,957.5 319.9,961.0 320.2,954.4 320.4,963.5 320.6,955.1 320.8,955.3 321.0,962.2 321.3,950.4 321.5,961.4 321.7,957.5 321.9,960.3 322.1,960.1 322.4,962.7 322.6,939.9 322.8,956.2 323.0,965.4 323.2,958.6 323.5,957.9 323.7,957.6 323.9,957.9 324.1,949.3 324.3,957.8 324.6,958.4 324.8,961.5 325.0,949.6 325.2,949.7 325.5,964.2 325.7,965.1 325.9,965.1 326.1,953.0 326.3,956.9 326.6,955.2 326.8,963.8 327.0,958.2 327.2,972.1 327.4,955.3 327.7,961.8 327.9,941.8 328.1,959.3 328.3,954.4 328.5,951.3 328.8,966.9 329.0,954.6 329.2,952.1 329.4,956.3 329.6,960.9 329.9,954.7 330.1,958.1 330.3,950.0 330.5,961.5 330.8,950.0 331.0,957.8 331.2,960.4 331.4,951.7 331.6,957.6 331.9,953.0 332.1,938.3 332.3,959.7 332.5,959.0 332.7,949.2 333.0,965.3 333.2,955.3 333.4,950.9 333.6,953.8 333.8,950.5 334.1,964.2 334.3,953.3 334.5,952.1 334.7,969.1 335.0,956.1 335.2,960.6 335.4,961.6 335.6,955.5 335.8,956.6 336.1,952.4 336.3,955.8 336.5,966.4 336.7,960.7 336.9,956.1 337.2,954.5 337.4,960.1 337.6,955.7 337.8,960.0 338.0,953.2 338.3,956.8 338.5,956.0 338.7,961.5 338.9,957.6 339.1,957.0 339.4,959.7 339.6,959.5 339.8,955.5 340.0,959.6 340.3,957.2 340.5,962.1 340.7,954.3 340.9,964.1 341.1,965.7 341.4,958.1 341.6,963.2 341.8,966.4 342.0,956.5 342.2,960.1 342.5,951.8 342.7,957.8 342.9,951.8 343.1,962.5 343.3,974.0 343.6,948.0 343.8,955.4 344.0,961.6 344.2,960.1 344.4,959.7 344.7,956.0 344.9,966.6 345.1,954.4 345.3,956.3 345.6,960.0 345.8,953.4 346.0,967.3 346.2,948.5 346.4,957.1 346.7,952.4 346.9,961.7 347.1,955.5 347.3,957.9 347.5,951.7 347.8,963.2 348.0,950.3 348.2,956.5 348.4,952.8 348.6,957.2 348.9,957.5 349.1,957.5 349.3,954.1 349.5,954.9 349.7,976.7 350.0,959.9 350.2,955.7 350.4,963.1 350.6,955.8 350.9,960.5 351.1,953.7 351.3,955.5 351.5,955.1 351.7,958.5 352.0,952.3 352.2,958.7 352.4,950.7 352.6,962.0 352.8,956.4 353.1,959.8 353.3,952.5 353.5,954.9 353.7,954.9 353.9,962.2 354.2,957.7 354.4,965.6 354.6,963.5 354.8,952.1 355.1,964.5 355.3,943.4 355.5,953.0 355.7,954.1 355.9,949.7 356.2,965.7 356.4,952.5 356.6,950.8 356.8,962.2 357.0,957.8 357.3,958.9 357.5,961.1 357.7,955.5 357.9,961.1 358.1,956.6 358.4,955.5 358.6,963.0 358.8,960.3 359.0,958.5 359.2,952.0 359.5,958.0 359.7,956.9 359.9,963.3 360.1,951.5 360.4,956.8 360.6,954.6 360.8,952.3 361.0,955.8 361.2,961.2 361.5,962.2 361.7,954.2 361.9,964.4 362.1,954.9 362.3,953.3 362.6,959.4 362.8,959.2 363.0,954.0 363.2,953.8 363.4,955.3 363.7,948.1 363.9,958.8 364.1,948.4 364.3,941.3 364.5,955.3 364.8,974.9 365.0,949.4 365.2,958.4 365.4,949.2 365.7,964.3 365.9,955.2 366.1,968.3 366.3,968.4 366.5,968.4 366.8,958.4 367.0,953.9 367.2,951.1 367.4,960.8 367.6,968.7 367.9,968.0 368.1,955.7 368.3,959.8 368.5,960.6 368.7,951.1 369.0,952.6 369.2,949.4 369.4,950.4 369.6,951.1 369.8,957.3 370.1,961.0 370.3,962.5 370.5,958.9 370.7,956.3 371.0,971.0 371.2,959.7 371.4,956.1 371.6,950.0 371.8,959.5 372.1,959.1 372.3,959.1 372.5,947.4 372.7,963.5 372.9,951.9 373.2,964.1 373.4,959.0 373.6,950.7 373.8,959.4 374.0,957.6 374.3,963.6 374.5,969.0 374.7,948.5 374.9,959.4 375.2,955.8 375.4,960.6 375.6,957.9 375.8,956.6 376.0,954.1 376.3,964.5 376.5,961.0 376.7,955.3 376.9,958.9 377.1,946.8 377.4,960.4 377.6,955.4 377.8,958.6 378.0,962.4 378.2,960.3 378.5,954.4 378.7,949.7 378.9,960.5 379.1,965.1 379.3,953.1 379.6,948.3 379.8,960.2 380.0,958.2 380.2,958.2 380.5,946.6 380.7,964.7 380.9,950.1 381.1,956.2 381.3,956.9 381.6,958.1 381.8,952.0 382.0,950.3 382.2,947.7 382.4,958.7 382.7,971.2 382.9,963.4 383.1,953.3 383.3,953.8 383.5,957.3 383.8,962.8 384.0,961.9 384.2,960.1 384.4,955.6 384.6,957.4 384.9,957.6 385.1,955.8 385.3,957.7 385.5,958.3 385.8,957.6 386.0,957.2 386.2,959.4 386.4,961.1 386.6,959.1 386.9,957.1 387.1,964.5 387.3,959.6 387.5,961.1 387.7,966.3 388.0,955.0 388.2,960.5 388.4,966.8 388.6,951.9 388.8,955.6 389.1,965.4 389.3,954.2 389.5,955.3 389.7,958.1 389.9,953.5 390.2,960.7 390.4,953.4 390.6,960.5 390.8,957.6 391.1,958.8 391.3,957.8 391.5,958.8 391.7,962.1 391.9,957.4 392.2,960.1 392.4,957.1 392.6,967.6 392.8,953.6 393.0,968.2 393.3,968.3 393.5,963.3 393.7,952.6 393.9,958.2 394.1,959.3 394.4,956.3 394.6,962.4 394.8,958.3 395.0,953.6 395.3,958.9 395.5,941.3 395.7,940.3 395.9,957.5 396.1,977.4 396.4,971.7 396.6,934.6 396.8,1039.7 397.0,978.2 397.2,987.9 397.5,986.2 397.7,959.1 397.9,940.2 398.1,1067.8 398.3,952.0 398.6,946.8 398.8,882.7 399.0,957.8 399.2,931.2 399.4,961.2 399.7,884.3 399.9,975.1 400.1,974.2 400.3,1013.0 400.6,960.0 400.8,974.1 401.0,928.4 401.2,897.6 401.4,958.8 401.7,1020.9 401.9,976.7 402.1,990.2 402.3,965.1 402.5,978.0 402.8,962.0 403.0,999.2 403.2,969.4 403.4,960.5 403.6,928.0 403.9,921.5 404.1,960.3 404.3,926.2 404.5,947.4 404.7,958.3 405.0,966.1 405.2,979.0 405.4,974.4 405.6,945.2 405.9,968.6 406.1,943.4 406.3,995.1 406.5,951.4 406.7,940.0 407.0,959.7 407.2,918.7 407.4,910.5 407.6,935.2 407.8,951.2 408.1,953.1 408.3,969.3 408.5,950.1 408.7,972.4 408.9,892.1 409.2,955.0 409.4,947.3 409.6,962.0 409.8,957.0 410.0,956.4 410.3,968.8 410.5,958.5 410.7,922.5 410.9,977.2 411.2,1004.5 411.4,994.1 411.6,993.2 411.8,956.5 412.0,929.6 412.3,970.7 412.5,963.1 412.7,963.0 412.9,945.2 413.1,978.4 413.4,960.3 413.6,960.6 413.8,939.0 414.0,957.0 414.2,967.9 414.5,977.3 414.7,978.5 414.9,983.0 415.1,979.0 415.3,967.3 415.6,959.9 415.8,970.2 416.0,952.9 416.2,934.2 416.5,957.8 416.7,946.6 416.9,964.6 417.1,956.0 417.3,950.4 417.6,964.5 417.8,961.9 418.0,958.2 418.2,958.6 418.4,976.3 418.7,956.8 418.9,951.9 419.1,964.6 419.3,970.6 419.5,958.5 419.8,953.7 420.0,970.5 420.2,956.4 420.4,931.7 420.7,961.2 420.9,961.6 421.1,954.3 421.3,955.1 421.5,953.6 421.8,964.6 422.0,956.7 422.2,955.4 422.4,957.4 422.6,970.9 422.9,948.8 423.1,949.9 423.3,958.9 423.5,948.1 423.7,968.3 424.0,958.3 424.2,937.6 424.4,979.0 424.6,959.0 424.8,966.3 425.1,960.7 425.3,951.5 425.5,947.4 425.7,956.3 426.0,953.9 426.2,948.8 426.4,955.8 426.6,991.0 426.8,952.9 427.1,957.1 427.3,942.6 427.5,963.0 427.7,949.6 427.9,949.5 428.2,961.2 428.4,945.3 428.6,946.1 428.8,943.5 429.0,942.9 429.3,925.4 429.5,977.7 429.7,943.4 429.9,949.4 430.1,980.9 430.4,978.1 430.6,967.8 430.8,963.1 431.0,965.1 431.3,966.7 431.5,965.6 431.7,957.0 431.9,954.5 432.1,966.7 432.4,954.6 432.6,973.6 432.8,978.2 433.0,958.2 433.2,966.4 433.5,969.0 433.7,962.4 433.9,951.7 434.1,890.5 434.3,959.2 434.6,960.0 434.8,946.6 435.0,955.3 435.2,964.1 435.4,969.2 435.7,966.4 435.9,932.6 436.1,963.6 436.3,973.3 436.6,947.2 436.8,943.1 437.0,959.5 437.2,969.1 437.4,953.3 437.7,974.9 437.9,971.4 438.1,963.4 438.3,952.9 438.5,949.3 438.8,957.8 439.0,948.6 439.2,969.3 439.4,967.5 439.6,961.6 439.9,948.4 440.1,958.5 440.3,945.6 440.5,939.7 440.8,954.0 441.0,949.8 441.2,963.5 441.4,949.6 441.6,958.4 441.9,964.8 442.1,953.2 442.3,962.7 442.5,951.7 442.7,980.4 443.0,957.7 443.2,950.2 443.4,978.5 443.6,947.3 443.8,962.0 444.1,949.7 444.3,961.2 444.5,952.2 444.7,952.1 444.9,953.5 445.2,972.2 445.4,951.1 445.6,977.9 445.8,954.3 446.1,955.1 446.3,961.2 446.5,958.0 446.7,933.5 446.9,946.1 447.2,959.1 447.4,948.1 447.6,946.2 447.8,950.7 448.0,948.3 448.3,963.8 448.5,964.7 448.7,953.2 448.9,965.0 449.1,950.7 449.4,959.7 449.6,947.6 449.8,955.6 450.0,955.2 450.2,945.7 450.5,949.5 450.7,951.7 450.9,949.5 451.1,964.3 451.4,972.3 451.6,942.1 451.8,938.1 452.0,957.8 452.2,977.2 452.5,951.3 452.7,972.2 452.9,957.8 453.1,953.2 453.3,952.3 453.6,952.5 453.8,960.5 454.0,955.6 454.2,965.2 454.4,954.8 454.7,952.5 454.9,957.8 455.1,953.4 455.3,956.3 455.5,959.5 455.8,956.4 456.0,958.2 456.2,958.8 456.4,959.2 456.7,939.9 456.9,962.8 457.1,957.5 457.3,951.8 457.5,965.9 457.8,959.4 458.0,954.3 458.2,977.2 458.4,957.8 458.6,962.5 458.9,961.6 459.1,963.8 459.3,971.0 459.5,952.8 459.7,959.5 460.0,962.8 460.2,967.6 460.4,962.7 460.6,961.0 460.9,966.3 461.1,951.1 461.3,959.6 461.5,965.2 461.7,961.2 462.0,960.3 462.2,953.9 462.4,961.3 462.6,948.7 462.8,963.8 463.1,952.6 463.3,962.6 463.5,961.4 463.7,951.0 463.9,954.1 464.2,928.0 464.4,952.5 464.6,964.0 464.8,971.1 465.0,946.4 465.3,958.5 465.5,978.1 465.7,957.2 465.9,962.5 466.2,949.5 466.4,958.1 466.6,946.8 466.8,951.7 467.0,978.1 467.3,947.4 467.5,954.9 467.7,954.3 467.9,945.0 468.1,962.7 468.4,958.2 468.6,964.8 468.8,947.3 469.0,950.7 469.2,949.6 469.5,964.3 469.7,965.5 469.9,955.0 470.1,945.8 470.3,952.2 470.6,957.7 470.8,957.5 471.0,974.7 471.2,949.2 471.5,960.8 471.7,962.9 471.9,959.3 472.1,966.1 472.3,938.1 472.6,964.3 472.8,984.5 473.0,964.2 473.2,962.7 473.4,950.3 473.7,952.2 473.9,958.0 474.1,956.9 474.3,950.2 474.5,972.1 474.8,948.7 475.0,953.2 475.2,962.6 475.4,965.8 475.6,970.5 475.9,968.0 476.1,961.3 476.3,952.5 476.5,954.9 476.8,957.9 477.0,952.7 477.2,961.3 477.4,953.4 477.6,958.4 477.9,949.1 478.1,962.8 478.3,961.3 478.5,945.1 478.7,959.4 479.0,951.8 479.2,954.7 479.4,951.2 479.6,972.0 479.8,972.2 480.1,974.4 480.3,959.2 480.5,975.4 480.7,954.4 480.9,971.2 481.2,968.0 481.4,956.1 481.6,948.1 481.8,956.0 482.1,961.4 482.3,948.3 482.5,960.6 482.7,962.5 482.9,974.9 483.2,962.5 483.4,954.7 483.6,964.9 483.8,957.0 484.0,965.6 484.3,953.9 484.5,967.9 484.7,957.3 484.9,951.0 485.1,970.8 485.4,963.8 485.6,968.6 485.8,960.3 486.0,949.3 486.3,966.5 486.5,975.5 486.7,945.3 486.9,961.3 487.1,960.1 487.4,956.6 487.6,950.5 487.8,971.8 488.0,955.8 488.2,957.8 488.5,948.9 488.7,936.7 488.9,968.8 489.1,974.7 489.3,948.9 489.6,960.0 489.8,941.9 490.0,971.3 490.2,942.8 490.4,968.7 490.7,957.5 490.9,947.4 491.1,963.2 491.3,953.0 491.6,1004.3 491.8,973.7 492.0,974.1 492.2,959.4 492.4,962.7 492.7,955.7 492.9,952.1 493.1,980.7 493.3,948.3 493.5,952.1 493.8,938.5 494.0,950.6 494.2,945.1 494.4,965.4 494.6,967.4 494.9,953.4 495.1,954.0 495.3,933.7 495.5,968.5 495.7,967.7 496.0,962.4 496.2,940.2 496.4,948.6 496.6,939.1 496.9,965.9 497.1,963.7 497.3,959.0 497.5,948.7 497.7,969.2 498.0,957.2 498.2,957.8 498.4,960.3 498.6,959.9 498.8,955.0 499.1,953.6 499.3,964.5 499.5,951.0 499.7,951.0 499.9,954.2 500.2,962.8 500.4,950.0 500.6,990.7 500.8,961.0 501.0,949.6 501.3,951.0 501.5,952.9 501.7,954.3 501.9,946.0 502.2,954.2 502.4,949.6 502.6,977.2 502.8,979.3 503.0,958.8 503.3,960.3 503.5,938.3 503.7,952.9 503.9,961.8 504.1,951.5 504.4,944.8 504.6,963.1 504.8,959.9 505.0,964.5 505.2,978.4 505.5,963.3 505.7,927.5 505.9,964.0 506.1,965.8 506.4,999.9 506.6,947.6 506.8,961.0 507.0,973.4 507.2,917.2 507.5,948.3 507.7,941.8 507.9,956.2 508.1,959.0 508.3,947.8 508.6,948.9 508.8,959.0 509.0,951.0 509.2,947.6 509.4,941.9 509.7,954.4 509.9,952.7 510.1,971.0 510.3,961.7 510.5,933.5 510.8,967.3 511.0,971.2 511.2,940.2 511.4,937.6 511.7,953.4 511.9,987.5 512.1,962.6 512.3,946.3 512.5,958.9 512.8,977.9 513.0,961.6 513.2,969.9 513.4,958.5 513.6,959.4 513.9,948.4 514.1,948.9 514.3,960.9 514.5,956.1 514.7,959.6 515.0,941.5 515.2,950.1 515.4,955.0 515.6,957.0 515.8,964.3 516.1,963.1 516.3,969.6 516.5,939.6 516.7,939.0 517.0,943.8 517.2,961.9 517.4,969.7 517.6,943.5 517.8,953.8 518.1,958.8 518.3,960.1 518.5,945.2 518.7,958.5 518.9,949.2 519.2,939.0 519.4,954.8 519.6,967.5 519.8,954.5 520.0,950.7 520.3,945.8 520.5,961.2 520.7,956.2 520.9,949.9 521.1,960.0 521.4,955.1 521.6,960.3 521.8,962.5 522.0,949.9 522.3,960.0 522.5,959.5 522.7,955.2 522.9,958.1 523.1,940.4 523.4,950.1 523.6,951.4 523.8,960.6 524.0,953.8 524.2,970.8 524.5,969.8 524.7,949.8 524.9,951.9 525.1,955.4 525.3,985.0 525.6,954.7 525.8,959.6 526.0,950.2 526.2,946.0 526.5,962.4 526.7,947.4 526.9,938.3 527.1,959.1 527.3,961.3 527.6,949.8 527.8,959.8 528.0,954.7 528.2,957.1 528.4,973.5 528.7,976.3 528.9,946.1 529.1,962.7 529.3,950.7 529.5,960.7 529.8,950.9 530.0,958.1 530.2,953.6 530.4,953.7 530.6,947.9 530.9,946.1 531.1,943.9 531.3,968.2 531.5,950.0 531.8,968.6 532.0,961.4 532.2,962.3 532.4,951.1 532.6,945.0 532.9,956.7 533.1,944.9 533.3,956.1 533.5,951.6 533.7,964.1 534.0,955.6 534.2,959.6 534.4,974.0 534.6,940.8 534.8,953.6 535.1,975.3 535.3,956.9 535.5,955.7 535.7,952.0 535.9,961.3 536.2,950.4 536.4,953.4 536.6,946.4 536.8,958.3 537.1,968.7 537.3,954.6 537.5,956.8 537.7,971.6 537.9,967.2 538.2,953.8 538.4,956.6 538.6,952.4 538.8,947.0 539.0,961.2 539.3,969.2 539.5,971.9 539.7,955.7 539.9,950.4 540.1,936.2 540.4,957.5 540.6,969.0 540.8,975.2 541.0,969.8 541.2,953.5 541.5,953.8 541.7,962.2 541.9,953.1 542.1,947.5 542.4,948.4 542.6,951.1 542.8,944.3 543.0,961.1 543.2,955.9 543.5,950.9 543.7,970.3 543.9,968.3 544.1,956.9 544.3,948.9 544.6,952.5 544.8,956.8 545.0,953.4 545.2,961.3 545.4,962.6 545.7,962.9 545.9,947.4 546.1,957.5 546.3,955.5 546.5,965.4 546.8,961.0 547.0,963.4 547.2,956.2 547.4,955.3 547.7,978.1 547.9,956.8 548.1,957.4 548.3,963.3 548.5,960.1 548.8,955.0 549.0,945.9 549.2,959.8 549.4,962.4 549.6,951.8 549.9,957.4 550.1,949.6 550.3,959.7 550.5,950.1 550.7,953.2 551.0,961.2 551.2,953.6 551.4,956.4 551.6,956.3 551.9,949.1 552.1,968.1 552.3,965.7 552.5,957.9 552.7,964.1 553.0,958.2 553.2,962.1 553.4,943.8 553.6,962.8 553.8,954.8 554.1,953.3 554.3,956.8 554.5,950.4 554.7,961.5 554.9,961.9 555.2,958.2 555.4,964.8 555.6,951.3 555.8,960.2 556.0,958.4 556.3,964.0 556.5,967.9 556.7,954.3 556.9,959.4 557.2,962.4 557.4,953.8 557.6,956.9 557.8,955.5 558.0,960.7 558.3,954.4 558.5,958.3 558.7,957.2 558.9,956.6 559.1,943.8 559.4,957.9 559.6,955.4 559.8,960.4 560.0,953.0 560.2,948.8 560.5,966.1 560.7,955.2 560.9,965.7 561.1,956.5 561.3,957.3 561.6,949.2 561.8,954.3 562.0,952.2 562.2,949.0 562.5,954.7 562.7,958.7 562.9,949.0 563.1,964.2 563.3,961.0 563.6,941.8 563.8,950.2 564.0,950.5 564.2,985.7 564.4,958.0 564.7,959.2 564.9,952.1 565.1,959.1 565.3,956.2 565.5,959.3 565.8,958.2 566.0,966.4 566.2,953.2 566.4,960.3 566.6,949.6 566.9,952.7 567.1,949.2 567.3,952.8 567.5,958.4 567.8,959.8 568.0,961.9 568.2,959.0 568.4,955.7 568.6,953.9 568.9,956.1 569.1,955.7 569.3,962.5 569.5,961.7 569.7,958.8 570.0,958.1 570.2,956.6 570.4,956.3 570.6,956.8 570.8,957.6 571.1,954.6 571.3,973.5 571.5,966.4 571.7,970.5 572.0,956.0 572.2,970.3 572.4,956.4 572.6,954.5 572.8,956.6 573.1,960.3 573.3,957.3 573.5,954.4 573.7,960.7 573.9,952.7 574.2,960.3 574.4,964.9 574.6,968.9 574.8,963.1 575.0,952.6 575.3,943.6 575.5,955.3 575.7,951.9 575.9,967.9 576.1,961.4 576.4,959.2 576.6,956.1 576.8,953.7 577.0,964.9 577.3,955.5 577.5,963.9 577.7,956.1 577.9,966.5 578.1,962.6 578.4,955.1 578.6,958.4 578.8,957.3 579.0,961.1 579.2,948.8 579.5,960.1 579.7,962.3 579.9,956.2 580.1,949.0 580.3,960.7 580.6,959.6 580.8,968.3 581.0,961.2 581.2,954.1 581.4,968.6 581.7,946.4 581.9,954.2 582.1,964.5 582.3,959.7 582.6,956.3 582.8,957.6 583.0,956.1 583.2,958.2 583.4,964.4 583.7,956.9 583.9,955.3 584.1,957.2 584.3,956.7 584.5,952.2 584.8,956.2 585.0,959.6 585.2,953.6 585.4,952.8 585.6,954.4 585.9,962.0 586.1,961.9 586.3,955.4 586.5,961.4 586.7,954.3 587.0,960.1 587.2,952.5 587.4,959.7 587.6,959.5 587.9,960.8 588.1,959.2 588.3,960.0 588.5,956.9 588.7,956.9 589.0,944.8 589.2,954.3 589.4,954.3 589.6,952.4 589.8,953.3 590.1,953.6 590.3,961.5 590.5,958.6 590.7,968.8 590.9,958.7 591.2,958.5 591.4,955.4 591.6,959.7 591.8,961.5 592.1,958.7 592.3,971.4 592.5,962.8 592.7,967.1 592.9,959.6 593.2,948.9 593.4,954.8 593.6,963.5 593.8,951.4 594.0,959.9 594.3,960.2 594.5,957.5 594.7,953.2 594.9,963.9 595.1,950.7 595.4,945.4 595.6,967.0 595.8,958.0 596.0,952.9 596.2,948.7 596.5,953.3 596.7,961.2 596.9,965.2 597.1,965.4 597.4,951.1 597.6,965.8 597.8,956.2 598.0,956.3 598.2,951.6 598.5,960.2 598.7,957.7 598.9,963.2 599.1,967.2 599.3,961.8 599.6,965.1 599.8,951.6 600.0,954.3 600.2,966.6 600.4,959.8 600.7,946.4 600.9,962.7 601.1,968.7 601.3,959.6 601.5,958.9 601.8,960.4 602.0,955.6 602.2,958.5 602.4,958.4 602.7,961.3 602.9,956.4 603.1,952.3 603.3,954.5 603.5,951.5 603.8,958.1 604.0,958.8 604.2,963.0 604.4,953.1 604.6,959.7 604.9,953.5 605.1,960.7 605.3,954.4 605.5,961.8 605.7,959.6 606.0,961.2 606.2,964.6 606.4,961.8 606.6,962.3 606.8,952.6 607.1,961.0 607.3,960.7 607.5,959.3 607.7,955.5 608.0,965.2 608.2,955.5 608.4,959.7 608.6,949.3 608.8,959.6 609.1,959.9 609.3,967.1 609.5,942.9 609.7,964.1 609.9,968.0 610.2,971.6 610.4,968.2 610.6,957.4 610.8,965.1 611.0,953.3 611.3,952.3 611.5,962.4 611.7,961.5 611.9,954.2 612.2,951.1 612.4,954.9 612.6,954.0 612.8,964.7 613.0,963.8 613.3,958.8 613.5,961.0 613.7,959.9 613.9,955.7 614.1,960.9 614.4,954.9 614.6,950.7 614.8,957.3 615.0,963.1 615.2,967.3 615.5,961.4 615.7,955.5 615.9,959.0 616.1,948.1 616.3,947.3 616.6,964.1 616.8,949.4 617.0,965.1 617.2,966.5 617.5,961.0 617.7,957.5 617.9,959.0 618.1,960.2 618.3,966.4 618.6,948.8 618.8,950.0 619.0,963.1 619.2,955.0 619.4,958.4 619.7,960.0 619.9,952.7 620.1,961.9 620.3,959.8 620.5,951.4 620.8,954.2 621.0,961.2 621.2,953.8 621.4,948.2 621.6,960.5 621.9,959.1 622.1,952.2 622.3,957.9 622.5,953.6 622.8,961.1 623.0,972.6 623.2,958.9 623.4,960.2 623.6,952.7 623.9,960.7 624.1,951.0 624.3,956.5 624.5,963.1 624.7,960.8 625.0,961.8 625.2,959.3 625.4,955.5 625.6,956.7 625.8,952.1 626.1,963.9 626.3,952.9 626.5,956.4 626.7,950.4 626.9,942.0 627.2,948.5 627.4,959.8 627.6,949.5 627.8,958.6 628.1,952.5 628.3,955.0 628.5,962.8 628.7,952.1 628.9,953.9 629.2,962.9 629.4,964.0 629.6,968.9 629.8,948.3 630.0,961.9 630.3,956.3 630.5,970.5 630.7,955.4 630.9,952.2 631.1,952.1 631.4,956.6 631.6,960.3 631.8,957.4 632.0,959.8 632.2,962.0 632.5,962.0 632.7,956.8 632.9,951.0 633.1,956.5 633.4,954.7 633.6,956.9 633.8,963.4 634.0,949.9 634.2,961.6 634.5,988.9 634.7,960.1 634.9,963.1 635.1,956.6 635.3,945.4 635.6,952.2 635.8,958.2 636.0,960.4 636.2,956.0 636.4,953.8 636.7,962.4 636.9,955.9 637.1,961.1 637.3,957.1 637.6,960.9 637.8,963.0 638.0,958.4 638.2,955.7 638.4,963.9 638.7,960.2 638.9,963.6 639.1,964.0 639.3,966.0 639.5,963.3 639.8,952.5 640.0,978.8 640.2,950.4 640.4,961.4 640.6,955.0 640.9,958.8 641.1,954.8 641.3,960.1 641.5,951.9 641.7,952.0 642.0,965.5 642.2,951.3 642.4,951.7 642.6,966.4 642.9,957.1 643.1,964.2 643.3,958.6 643.5,955.9 643.7,957.4 644.0,959.7 644.2,957.5 644.4,950.1 644.6,962.2 644.8,961.7 645.1,954.2 645.3,954.9 645.5,956.8 645.7,952.8 645.9,958.3 646.2,964.9 646.4,967.1 646.6,955.8 646.8,957.3 647.0,965.0 647.3,958.6 647.5,954.7 647.7,939.0 647.9,968.0 648.2,966.5 648.4,957.8 648.6,957.1 648.8,949.4 649.0,958.2 649.3,960.2 649.5,957.5 649.7,959.3 649.9,952.1 650.1,976.7 650.4,953.4 650.6,952.0 650.8,964.5 651.0,951.6 651.2,956.9 651.5,958.5 651.7,943.8 651.9,958.8 652.1,957.0 652.3,962.3 652.6,951.3 652.8,958.7 653.0,960.7 653.2,951.8 653.5,946.5 653.7,957.4 653.9,948.1 654.1,954.5 654.3,960.2 654.6,952.5 654.8,960.9 655.0,951.3" fill="none" stroke="#5079c8" stroke-width="3.2" stroke-linejoin="round" stroke-linecap="round"/>
</g>
<g>
<rect x="5.1" y="1225.5" width="677.3" height="392.3" fill="#fff" stroke="#dcdcdc" stroke-width="1.2"/>
<line x1="69.6" x2="655.3000000000001" y1="1278.80" y2="1278.80" stroke="#d9d9d9" stroke-width="1"/>
<text transform="translate(57.20,1283.25) scale(0.9055,1)" text-anchor="end" font-size="12.7" fill="#4d4d4d">30.00%</text>
<line x1="69.6" x2="655.3000000000001" y1="1317.12" y2="1317.12" stroke="#d9d9d9" stroke-width="1"/>
<text transform="translate(57.20,1321.57) scale(0.9055,1)" text-anchor="end" font-size="12.7" fill="#4d4d4d">20.00%</text>
<line x1="69.6" x2="655.3000000000001" y1="1355.43" y2="1355.43" stroke="#d9d9d9" stroke-width="1"/>
<text transform="translate(57.20,1359.88) scale(0.9055,1)" text-anchor="end" font-size="12.7" fill="#4d4d4d">10.00%</text>
<line x1="69.6" x2="655.3000000000001" y1="1393.75" y2="1393.75" stroke="#d9d9d9" stroke-width="1"/>
<text transform="translate(57.20,1398.20) scale(0.9055,1)" text-anchor="end" font-size="12.7" fill="#4d4d4d">0.00%</text>
<line x1="69.6" x2="655.3000000000001" y1="1432.07" y2="1432.07" stroke="#d9d9d9" stroke-width="1"/>
<text transform="translate(57.20,1436.52) scale(0.9055,1)" text-anchor="end" font-size="12.7" fill="#4d4d4d">-10.00%</text>
<line x1="69.6" x2="655.3000000000001" y1="1470.38" y2="1470.38" stroke="#d9d9d9" stroke-width="1"/>
<text transform="translate(57.20,1474.83) scale(0.9055,1)" text-anchor="end" font-size="12.7" fill="#4d4d4d">-20.00%</text>
<line x1="69.6" x2="655.3000000000001" y1="1508.70" y2="1508.70" stroke="#d9d9d9" stroke-width="1"/>
<text transform="translate(57.20,1513.15) scale(0.9055,1)" text-anchor="end" font-size="12.7" fill="#4d4d4d">-30.00%</text>
<text transform="translate(72.60,1526.40) rotate(-45) scale(0.93,1)" text-anchor="end" font-size="12.7" fill="#4d4d4d">08-Apr-2014</text>
<text transform="translate(128.00,1526.40) rotate(-45) scale(0.93,1)" text-anchor="end" font-size="12.7" fill="#4d4d4d">08-Apr-2015</text>
<text transform="translate(183.40,1526.40) rotate(-45) scale(0.93,1)" text-anchor="end" font-size="12.7" fill="#4d4d4d">08-Apr-2016</text>
<text transform="translate(238.80,1526.40) rotate(-45) scale(0.93,1)" text-anchor="end" font-size="12.7" fill="#4d4d4d">08-Apr-2017</text>
<text transform="translate(294.20,1526.40) rotate(-45) scale(0.93,1)" text-anchor="end" font-size="12.7" fill="#4d4d4d">08-Apr-2018</text>
<text transform="translate(349.60,1526.40) rotate(-45) scale(0.93,1)" text-anchor="end" font-size="12.7" fill="#4d4d4d">08-Apr-2019</text>
<text transform="translate(405.00,1526.40) rotate(-45) scale(0.93,1)" text-anchor="end" font-size="12.7" fill="#4d4d4d">08-Apr-2020</text>
<text transform="translate(460.40,1526.40) rotate(-45) scale(0.93,1)" text-anchor="end" font-size="12.7" fill="#4d4d4d">08-Apr-2021</text>
<text transform="translate(515.80,1526.40) rotate(-45) scale(0.93,1)" text-anchor="end" font-size="12.7" fill="#4d4d4d">08-Apr-2022</text>
<text transform="translate(571.20,1526.40) rotate(-45) scale(0.93,1)" text-anchor="end" font-size="12.7" fill="#4d4d4d">08-Apr-2023</text>
<text transform="translate(626.60,1526.40) rotate(-45) scale(0.93,1)" text-anchor="end" font-size="12.7" fill="#4d4d4d">08-Apr-2024</text>
<text transform="translate(346.00,1255.20) scale(1.01,1)" text-anchor="middle" font-size="18" fill="#4d4d4d" style="stroke:none">South Korea</text>
<line x1="309.6" x2="338.1" y1="1597.2" y2="1597.2" stroke="#5079c8" stroke-width="3.4" stroke-linecap="round"/>
<text transform="translate(344.10,1601.55) scale(0.935,1)" font-size="12.7" fill="#4d4d4d">Return</text>
<clipPath id="clip103"><rect x="69.6" y="1226.5" width="589.7" height="303.2"/></clipPath>
<polyline clip-path="url(#clip103)" points="69.9,1389.1 70.1,1396.8 70.3,1384.7 70.6,1397.8 70.8,1390.2 71.0,1400.4 71.2,1396.8 71.4,1396.3 71.7,1399.8 71.9,1389.2 72.1,1398.5 72.3,1397.4 72.6,1395.2 72.8,1389.2 73.0,1396.1 73.2,1384.0 73.4,1393.8 73.7,1394.9 73.9,1390.5 74.1,1394.3 74.3,1398.2 74.5,1395.9 74.8,1392.6 75.0,1383.3 75.2,1392.2 75.4,1391.3 75.6,1399.0 75.9,1394.8 76.1,1393.9 76.3,1413.7 76.5,1386.3 76.7,1393.2 77.0,1391.3 77.2,1394.2 77.4,1398.7 77.6,1393.7 77.9,1396.1 78.1,1392.5 78.3,1390.6 78.5,1394.8 78.7,1387.2 79.0,1399.7 79.2,1393.7 79.4,1392.4 79.6,1402.6 79.8,1390.2 80.1,1389.9 80.3,1404.9 80.5,1394.1 80.7,1390.4 80.9,1389.9 81.2,1405.8 81.4,1392.0 81.6,1379.8 81.8,1392.3 82.0,1390.2 82.3,1392.5 82.5,1402.5 82.7,1387.8 82.9,1392.6 83.2,1390.0 83.4,1395.6 83.6,1394.8 83.8,1387.4 84.0,1394.3 84.3,1395.0 84.5,1394.8 84.7,1389.8 84.9,1398.5 85.1,1394.7 85.4,1396.3 85.6,1389.6 85.8,1390.3 86.0,1393.3 86.2,1392.6 86.5,1394.3 86.7,1394.8 86.9,1394.1 87.1,1384.5 87.3,1394.4 87.6,1394.7 87.8,1392.3 88.0,1387.1 88.2,1391.6 88.5,1401.2 88.7,1393.4 88.9,1393.6 89.1,1401.4 89.3,1397.5 89.6,1391.1 89.8,1395.5 90.0,1382.5 90.2,1391.4 90.4,1395.8 90.7,1394.1 90.9,1398.1 91.1,1397.0 91.3,1389.2 91.5,1394.1 91.8,1403.2 92.0,1402.3 92.2,1390.7 92.4,1401.3 92.7,1395.7 92.9,1388.8 93.1,1394.9 93.3,1395.2 93.5,1395.8 93.8,1387.9 94.0,1397.5 94.2,1400.6 94.4,1393.2 94.6,1385.7 94.9,1391.6 95.1,1384.3 95.3,1385.5 95.5,1399.0 95.7,1393.0 96.0,1394.0 96.2,1393.4 96.4,1386.3 96.6,1385.7 96.8,1389.6 97.1,1387.7 97.3,1395.7 97.5,1410.4 97.7,1397.7 98.0,1394.8 98.2,1397.8 98.4,1390.6 98.6,1394.8 98.8,1391.8 99.1,1397.5 99.3,1393.1 99.5,1392.1 99.7,1393.5 99.9,1393.4 100.2,1393.5 100.4,1393.7 100.6,1394.5 100.8,1396.0 101.0,1391.4 101.3,1393.5 101.5,1393.3 101.7,1392.6 101.9,1397.6 102.1,1397.6 102.4,1397.4 102.6,1390.1 102.8,1394.3 103.0,1391.9 103.3,1398.0 103.5,1394.4 103.7,1393.4 103.9,1394.6 104.1,1391.7 104.4,1394.1 104.6,1393.7 104.8,1391.1 105.0,1390.2 105.2,1392.7 105.5,1394.6 105.7,1394.2 105.9,1390.8 106.1,1396.1 106.3,1395.9 106.6,1395.8 106.8,1390.9 107.0,1392.5 107.2,1395.5 107.4,1395.2 107.7,1387.4 107.9,1394.7 108.1,1395.8 108.3,1395.4 108.6,1394.1 108.8,1395.2 109.0,1393.7 109.2,1394.7 109.4,1395.7 109.7,1392.4 109.9,1392.3 110.1,1398.2 110.3,1392.9 110.5,1395.1 110.8,1396.9 111.0,1391.8 111.2,1393.1 111.4,1392.4 111.6,1395.3 111.9,1390.4 112.1,1392.6 112.3,1395.0 112.5,1389.9 112.7,1394.8 113.0,1389.6 113.2,1394.1 113.4,1394.5 113.6,1394.7 113.9,1395.2 114.1,1395.5 114.3,1392.9 114.5,1394.0 114.7,1397.5 115.0,1393.3 115.2,1397.0 115.4,1392.4 115.6,1394.8 115.8,1394.3 116.1,1390.2 116.3,1398.5 116.5,1389.3 116.7,1389.7 116.9,1391.2 117.2,1392.6 117.4,1395.8 117.6,1392.3 117.8,1394.2 118.1,1394.2 118.3,1394.8 118.5,1391.2 118.7,1391.8 118.9,1395.7 119.2,1393.9 119.4,1396.1 119.6,1390.7 119.8,1395.4 120.0,1393.9 120.3,1392.0 120.5,1394.0 120.7,1395.7 120.9,1394.6 121.1,1396.7 121.4,1391.3 121.6,1392.2 121.8,1386.9 122.0,1398.0 122.2,1390.1 122.5,1392.1 122.7,1394.8 122.9,1391.3 123.1,1392.9 123.4,1391.8 123.6,1395.0 123.8,1389.8 124.0,1393.1 124.2,1397.9 124.5,1393.9 124.7,1394.8 124.9,1393.0 125.1,1393.4 125.3,1393.6 125.6,1396.2 125.8,1393.5 126.0,1395.4 126.2,1392.1 126.4,1396.7 126.7,1394.4 126.9,1394.9 127.1,1395.7 127.3,1392.3 127.5,1392.7 127.8,1393.1 128.0,1388.4 128.2,1395.6 128.4,1392.5 128.7,1393.5 128.9,1393.1 129.1,1398.8 129.3,1398.1 129.5,1392.0 129.8,1397.3 130.0,1391.6 130.2,1390.9 130.4,1395.2 130.6,1393.1 130.9,1393.4 131.1,1390.2 131.3,1389.8 131.5,1391.5 131.7,1391.3 132.0,1390.4 132.2,1395.0 132.4,1393.8 132.6,1391.8 132.8,1394.4 133.1,1391.0 133.3,1395.5 133.5,1394.1 133.7,1393.6 134.0,1393.0 134.2,1395.8 134.4,1394.5 134.6,1393.3 134.8,1393.6 135.1,1392.7 135.3,1395.1 135.5,1395.9 135.7,1397.0 135.9,1396.9 136.2,1395.2 136.4,1397.7 136.6,1395.2 136.8,1392.4 137.0,1395.7 137.3,1392.4 137.5,1392.7 137.7,1394.1 137.9,1392.6 138.2,1392.2 138.4,1397.2 138.6,1390.5 138.8,1397.0 139.0,1393.4 139.3,1395.7 139.5,1395.7 139.7,1393.5 139.9,1395.2 140.1,1394.6 140.4,1394.1 140.6,1396.2 140.8,1393.3 141.0,1396.9 141.2,1392.2 141.5,1397.6 141.7,1393.1 141.9,1395.4 142.1,1390.3 142.3,1396.3 142.6,1391.6 142.8,1394.6 143.0,1397.8 143.2,1390.4 143.5,1391.0 143.7,1389.6 143.9,1394.5 144.1,1401.0 144.3,1390.8 144.6,1393.2 144.8,1391.5 145.0,1393.8 145.2,1392.1 145.4,1394.8 145.7,1394.5 145.9,1393.9 146.1,1393.5 146.3,1393.1 146.5,1392.6 146.8,1396.8 147.0,1392.9 147.2,1394.3 147.4,1397.2 147.6,1394.9 147.9,1391.3 148.1,1391.8 148.3,1397.9 148.5,1395.1 148.8,1394.8 149.0,1390.2 149.2,1394.2 149.4,1395.6 149.6,1393.7 149.9,1397.5 150.1,1393.5 150.3,1392.0 150.5,1392.9 150.7,1396.7 151.0,1389.7 151.2,1392.1 151.4,1394.0 151.6,1393.9 151.8,1391.7 152.1,1394.1 152.3,1382.6 152.5,1392.9 152.7,1397.9 152.9,1393.0 153.2,1397.8 153.4,1393.2 153.6,1392.1 153.8,1392.8 154.1,1392.3 154.3,1394.8 154.5,1395.7 154.7,1391.9 154.9,1394.1 155.2,1396.2 155.4,1395.4 155.6,1395.9 155.8,1391.4 156.0,1392.0 156.3,1389.9 156.5,1395.5 156.7,1393.7 156.9,1393.9 157.1,1395.9 157.4,1393.9 157.6,1392.0 157.8,1394.8 158.0,1395.3 158.3,1389.7 158.5,1395.9 158.7,1390.6 158.9,1393.2 159.1,1393.0 159.4,1395.4 159.6,1396.9 159.8,1390.6 160.0,1390.1 160.2,1395.4 160.5,1390.8 160.7,1393.7 160.9,1392.1 161.1,1394.0 161.3,1394.7 161.6,1396.6 161.8,1397.3 162.0,1394.1 162.2,1394.4 162.4,1396.4 162.7,1396.6 162.9,1394.9 163.1,1392.9 163.3,1391.9 163.6,1391.7 163.8,1393.7 164.0,1392.4 164.2,1396.4 164.4,1391.5 164.7,1393.7 164.9,1396.0 165.1,1396.2 165.3,1396.2 165.5,1394.4 165.8,1392.4 166.0,1394.8 166.2,1392.0 166.4,1393.6 166.6,1395.7 166.9,1395.3 167.1,1395.6 167.3,1395.1 167.5,1391.4 167.7,1391.2 168.0,1393.4 168.2,1393.4 168.4,1396.3 168.6,1391.3 168.9,1396.2 169.1,1395.2 169.3,1393.8 169.5,1391.7 169.7,1393.3 170.0,1397.0 170.2,1393.2 170.4,1394.6 170.6,1393.3 170.8,1391.4 171.1,1397.8 171.3,1393.5 171.5,1391.7 171.7,1398.7 171.9,1390.8 172.2,1392.5 172.4,1393.3 172.6,1396.0 172.8,1393.2 173.0,1392.6 173.3,1395.3 173.5,1394.7 173.7,1395.1 173.9,1393.2 174.2,1393.0 174.4,1391.5 174.6,1393.0 174.8,1395.6 175.0,1393.9 175.3,1398.0 175.5,1392.0 175.7,1398.0 175.9,1397.2 176.1,1393.7 176.4,1399.0 176.6,1392.4 176.8,1385.7 177.0,1391.7 177.2,1391.7 177.5,1392.5 177.7,1393.7 177.9,1394.0 178.1,1400.0 178.4,1392.6 178.6,1390.3 178.8,1386.9 179.0,1396.0 179.2,1392.4 179.5,1392.3 179.7,1396.8 179.9,1397.3 180.1,1397.0 180.3,1395.9 180.6,1386.6 180.8,1405.9 181.0,1401.7 181.2,1375.0 181.4,1391.5 181.7,1389.9 181.9,1399.4 182.1,1388.6 182.3,1400.2 182.5,1386.9 182.8,1393.4 183.0,1390.1 183.2,1400.6 183.4,1390.3 183.7,1393.2 183.9,1397.0 184.1,1403.3 184.3,1390.0 184.5,1390.4 184.8,1395.9 185.0,1389.4 185.2,1389.2 185.4,1388.3 185.6,1398.9 185.9,1389.8 186.1,1377.7 186.3,1397.4 186.5,1392.3 186.7,1405.6 187.0,1384.8 187.2,1394.3 187.4,1390.5 187.6,1387.6 187.8,1384.7 188.1,1389.9 188.3,1401.6 188.5,1386.2 188.7,1392.2 189.0,1373.6 189.2,1392.7 189.4,1395.0 189.6,1399.8 189.8,1393.1 190.1,1391.7 190.3,1396.6 190.5,1397.0 190.7,1398.0 190.9,1394.4 191.2,1392.9 191.4,1388.4 191.6,1394.7 191.8,1417.5 192.0,1396.4 192.3,1388.9 192.5,1375.4 192.7,1397.5 192.9,1397.1 193.1,1394.5 193.4,1387.7 193.6,1393.2 193.8,1383.0 194.0,1390.0 194.3,1399.8 194.5,1398.8 194.7,1382.0 194.9,1398.7 195.1,1399.4 195.4,1400.7 195.6,1378.6 195.8,1389.6 196.0,1388.8 196.2,1402.8 196.5,1384.9 196.7,1387.7 196.9,1395.8 197.1,1403.9 197.3,1396.4 197.6,1396.4 197.8,1389.2 198.0,1396.3 198.2,1389.3 198.4,1387.0 198.7,1398.3 198.9,1472.3 199.1,1385.8 199.3,1313.7 199.6,1404.7 199.8,1397.5 200.0,1471.5 200.2,1391.4 200.4,1392.9 200.7,1401.1 200.9,1327.1 201.1,1384.9 201.3,1413.4 201.5,1413.2 201.8,1403.0 202.0,1394.2 202.2,1389.5 202.4,1391.5 202.6,1367.7 202.9,1392.6 203.1,1400.9 203.3,1400.6 203.5,1404.1 203.8,1394.5 204.0,1388.1 204.2,1399.0 204.4,1385.3 204.6,1399.8 204.9,1388.2 205.1,1407.2 205.3,1383.4 205.5,1391.6 205.7,1391.9 206.0,1397.2 206.2,1404.8 206.4,1399.4 206.6,1402.2 206.8,1405.9 207.1,1379.7 207.3,1381.9 207.5,1387.7 207.7,1387.7 207.9,1409.4 208.2,1413.4 208.4,1388.0 208.6,1380.7 208.8,1387.2 209.1,1412.5 209.3,1385.8 209.5,1398.0 209.7,1386.6 209.9,1387.1 210.2,1377.9 210.4,1386.0 210.6,1390.6 210.8,1391.1 211.0,1399.4 211.3,1396.2 211.5,1386.4 211.7,1426.1 211.9,1402.5 212.1,1385.3 212.4,1399.0 212.6,1406.2 212.8,1387.7 213.0,1386.6 213.2,1364.4 213.5,1391.1 213.7,1410.2 213.9,1383.7 214.1,1402.5 214.4,1401.1 214.6,1386.3 214.8,1385.7 215.0,1391.5 215.2,1389.2 215.5,1383.5 215.7,1386.8 215.9,1396.8 216.1,1390.0 216.3,1387.1 216.6,1387.2 216.8,1392.2 217.0,1400.4 217.2,1385.9 217.4,1383.5 217.7,1388.2 217.9,1372.1 218.1,1390.1 218.3,1383.9 218.5,1389.8 218.8,1395.3 219.0,1390.5 219.2,1393.3 219.4,1408.1 219.7,1388.3 219.9,1390.5 220.1,1396.8 220.3,1385.7 220.5,1389.0 220.8,1404.0 221.0,1393.8 221.2,1372.7 221.4,1409.5 221.6,1405.3 221.9,1390.2 222.1,1393.4 222.3,1392.1 222.5,1392.7 222.7,1393.2 223.0,1396.1 223.2,1401.8 223.4,1406.1 223.6,1399.9 223.9,1388.8 224.1,1387.5 224.3,1385.2 224.5,1394.0 224.7,1401.0 225.0,1384.3 225.2,1386.6 225.4,1389.8 225.6,1390.2 225.8,1395.9 226.1,1385.5 226.3,1402.8 226.5,1395.2 226.7,1389.0 226.9,1392.6 227.2,1382.6 227.4,1389.4 227.6,1397.6 227.8,1398.5 228.0,1404.9 228.3,1381.0 228.5,1391.0 228.7,1386.2 228.9,1399.1 229.2,1397.8 229.4,1387.2 229.6,1395.2 229.8,1392.8 230.0,1379.4 230.3,1388.7 230.5,1389.1 230.7,1390.5 230.9,1395.6 231.1,1386.9 231.4,1382.6 231.6,1379.7 231.8,1384.9 232.0,1411.0 232.2,1394.7 232.5,1401.0 232.7,1380.3 232.9,1392.7 233.1,1400.4 233.3,1394.4 233.6,1385.9 233.8,1387.5 234.0,1391.5 234.2,1391.5 234.5,1404.8 234.7,1395.7 234.9,1393.5 235.1,1400.6 235.3,1391.6 235.6,1401.7 235.8,1387.3 236.0,1398.1 236.2,1400.4 236.4,1402.4 236.7,1396.0 236.9,1391.6 237.1,1392.0 237.3,1398.5 237.5,1379.8 237.8,1397.8 238.0,1394.1 238.2,1391.4 238.4,1393.2 238.6,1395.9 238.9,1396.9 239.1,1392.6 239.3,1394.3 239.5,1403.5 239.8,1401.3 240.0,1396.6 240.2,1393.3 240.4,1395.6 240.6,1383.9 240.9,1405.5 241.1,1384.0 241.3,1397.5 241.5,1392.2 241.7,1396.2 242.0,1380.3 242.2,1401.5 242.4,1386.5 242.6,1397.4 242.8,1394.6 243.1,1408.8 243.3,1394.4 243.5,1400.3 243.7,1389.1 244.0,1391.5 244.2,1398.0 244.4,1407.2 244.6,1388.0 244.8,1396.8 245.1,1390.2 245.3,1390.4 245.5,1388.8 245.7,1407.2 245.9,1403.2 246.2,1395.7 246.4,1395.9 246.6,1389.2 246.8,1391.1 247.0,1388.9 247.3,1391.7 247.5,1390.2 247.7,1389.8 247.9,1391.9 248.1,1397.6 248.4,1383.3 248.6,1395.3 248.8,1405.3 249.0,1405.4 249.3,1387.5 249.5,1395.2 249.7,1396.2 249.9,1405.6 250.1,1390.4 250.4,1384.0 250.6,1376.9 250.8,1403.9 251.0,1427.9 251.2,1392.0 251.5,1401.2 251.7,1403.3 251.9,1403.3 252.1,1388.3 252.3,1387.9 252.6,1393.6 252.8,1392.2 253.0,1386.6 253.2,1443.2 253.4,1388.5 253.7,1397.9 253.9,1398.2 254.1,1393.2 254.3,1388.2 254.6,1389.3 254.8,1393.6 255.0,1397.5 255.2,1385.3 255.4,1356.2 255.7,1392.5 255.9,1392.1 256.1,1390.8 256.3,1386.5 256.5,1405.6 256.8,1406.4 257.0,1390.8 257.2,1387.6 257.4,1388.1 257.6,1389.2 257.9,1393.5 258.1,1394.4 258.3,1370.4 258.5,1396.5 258.7,1387.9 259.0,1394.4 259.2,1393.5 259.4,1399.3 259.6,1395.7 259.9,1399.1 260.1,1405.7 260.3,1402.4 260.5,1412.5 260.7,1387.6 261.0,1400.3 261.2,1397.1 261.4,1382.5 261.6,1390.8 261.8,1398.6 262.1,1389.3 262.3,1393.4 262.5,1391.2 262.7,1401.9 262.9,1389.2 263.2,1365.4 263.4,1397.4 263.6,1400.4 263.8,1396.9 264.0,1400.5 264.3,1394.7 264.5,1394.6 264.7,1401.9 264.9,1339.3 265.2,1390.4 265.4,1407.6 265.6,1385.3 265.8,1399.7 266.0,1401.8 266.3,1394.1 266.5,1384.6 266.7,1380.9 266.9,1395.8 267.1,1391.2 267.4,1392.0 267.6,1383.1 267.8,1386.8 268.0,1389.6 268.2,1390.4 268.5,1391.1 268.7,1411.4 268.9,1394.1 269.1,1398.9 269.4,1374.6 269.6,1392.3 269.8,1391.9 270.0,1395.0 270.2,1391.2 270.5,1397.7 270.7,1391.0 270.9,1394.5 271.1,1384.6 271.3,1406.1 271.6,1382.1 271.8,1391.0 272.0,1401.6 272.2,1388.6 272.4,1396.2 272.7,1390.6 272.9,1395.3 273.1,1392.4 273.3,1393.5 273.5,1396.2 273.8,1397.6 274.0,1390.9 274.2,1390.1 274.4,1389.4 274.7,1395.3 274.9,1392.3 275.1,1391.1 275.3,1391.2 275.5,1392.8 275.8,1389.8 276.0,1396.9 276.2,1390.8 276.4,1402.6 276.6,1394.9 276.9,1396.9 277.1,1396.6 277.3,1388.3 277.5,1403.9 277.7,1395.5 278.0,1394.3 278.2,1389.7 278.4,1376.9 278.6,1404.6 278.8,1399.4 279.1,1394.2 279.3,1392.2 279.5,1387.2 279.7,1387.7 280.0,1390.8 280.2,1392.4 280.4,1389.9 280.6,1391.0 280.8,1394.3 281.1,1395.8 281.3,1410.2 281.5,1389.1 281.7,1397.2 281.9,1384.5 282.2,1396.7 282.4,1394.5 282.6,1391.4 282.8,1393.6 283.0,1394.8 283.3,1396.8 283.5,1398.5 283.7,1403.1 283.9,1376.1 284.1,1383.1 284.4,1401.1 284.6,1387.3 284.8,1385.5 285.0,1405.1 285.3,1384.4 285.5,1385.9 285.7,1393.0 285.9,1399.7 286.1,1389.0 286.4,1390.5 286.6,1399.1 286.8,1410.2 287.0,1384.8 287.2,1410.8 287.5,1393.6 287.7,1411.6 287.9,1398.0 288.1,1399.1 288.3,1368.8 288.6,1392.4 288.8,1411.4 289.0,1397.2 289.2,1389.3 289.5,1390.1 289.7,1396.8 289.9,1391.0 290.1,1396.4 290.3,1392.4 290.6,1400.9 290.8,1392.1 291.0,1385.5 291.2,1397.4 291.4,1392.3 291.7,1384.1 291.9,1383.8 292.1,1402.0 292.3,1396.6 292.5,1407.0 292.8,1406.0 293.0,1386.6 293.2,1395.9 293.4,1395.7 293.6,1395.2 293.9,1390.6 294.1,1368.5 294.3,1398.0 294.5,1395.3 294.8,1432.3 295.0,1392.7 295.2,1387.7 295.4,1398.1 295.6,1393.0 295.9,1387.7 296.1,1393.2 296.3,1399.4 296.5,1391.1 296.7,1391.1 297.0,1389.1 297.2,1393.9 297.4,1390.6 297.6,1390.2 297.8,1409.0 298.1,1394.9 298.3,1387.8 298.5,1401.0 298.7,1389.1 298.9,1395.3 299.2,1402.9 299.4,1403.6 299.6,1374.6 299.8,1403.2 300.1,1385.5 300.3,1406.0 300.5,1387.5 300.7,1396.4 300.9,1388.1 301.2,1405.7 301.4,1393.0 301.6,1401.0 301.8,1391.9 302.0,1389.8 302.3,1392.4 302.5,1414.8 302.7,1390.8 302.9,1391.4 303.1,1398.0 303.4,1402.1 303.6,1396.3 303.8,1401.7 304.0,1398.6 304.2,1383.3 304.5,1383.1 304.7,1397.3 304.9,1391.5 305.1,1382.7 305.4,1394.4 305.6,1405.4 305.8,1424.0 306.0,1387.8 306.2,1387.3 306.5,1387.1 306.7,1390.6 306.9,1391.6 307.1,1391.2 307.3,1396.4 307.6,1390.6 307.8,1388.8 308.0,1401.1 308.2,1379.7 308.4,1388.2 308.7,1385.8 308.9,1397.3 309.1,1393.3 309.3,1395.2 309.6,1399.3 309.8,1397.1 310.0,1385.9 310.2,1391.9 310.4,1390.8 310.7,1392.8 310.9,1378.0 311.1,1397.7 311.3,1390.2 311.5,1398.4 311.8,1389.6 312.0,1402.3 312.2,1398.3 312.4,1395.6 312.6,1389.8 312.9,1400.5 313.1,1392.1 313.3,1390.7 313.5,1388.4 313.7,1392.2 314.0,1391.8 314.2,1393.7 314.4,1399.4 314.6,1389.9 314.9,1396.9 315.1,1392.5 315.3,1386.9 315.5,1390.7 315.7,1392.6 316.0,1395.2 316.2,1398.4 316.4,1362.9 316.6,1392.6 316.8,1498.7 317.1,1389.5 317.3,1397.5 317.5,1383.8 317.7,1396.7 317.9,1396.4 318.2,1385.2 318.4,1388.8 318.6,1384.3 318.8,1399.9 319.0,1391.7 319.3,1392.3 319.5,1393.8 319.7,1393.5 319.9,1406.4 320.2,1393.5 320.4,1400.7 320.6,1393.2 320.8,1400.7 321.0,1391.3 321.3,1392.8 321.5,1394.3 321.7,1393.5 321.9,1400.6 322.1,1388.3 322.4,1391.1 322.6,1370.0 322.8,1393.7 323.0,1393.7 323.2,1392.7 323.5,1398.3 323.7,1408.7 323.9,1410.1 324.1,1406.9 324.3,1413.7 324.6,1399.4 324.8,1390.1 325.0,1385.4 325.2,1392.4 325.5,1375.4 325.7,1393.9 325.9,1390.3 326.1,1396.4 326.3,1391.3 326.6,1387.4 326.8,1389.9 327.0,1390.1 327.2,1390.6 327.4,1394.4 327.7,1404.6 327.9,1386.3 328.1,1385.2 328.3,1405.9 328.5,1391.6 328.8,1382.0 329.0,1385.9 329.2,1387.4 329.4,1399.0 329.6,1399.9 329.9,1392.4 330.1,1385.5 330.3,1396.3 330.5,1384.3 330.8,1399.4 331.0,1381.9 331.2,1385.7 331.4,1401.7 331.6,1388.0 331.9,1388.8 332.1,1388.9 332.3,1392.7 332.5,1393.9 332.7,1404.5 333.0,1394.9 333.2,1397.7 333.4,1406.5 333.6,1403.7 333.8,1388.9 334.1,1396.4 334.3,1398.8 334.5,1394.0 334.7,1406.4 335.0,1389.1 335.2,1386.3 335.4,1381.5 335.6,1394.6 335.8,1386.9 336.1,1396.1 336.3,1396.4 336.5,1395.5 336.7,1392.6 336.9,1395.1 337.2,1392.8 337.4,1397.5 337.6,1400.0 337.8,1379.8 338.0,1404.7 338.3,1396.7 338.5,1390.1 338.7,1393.2 338.9,1392.8 339.1,1397.3 339.4,1400.5 339.6,1389.5 339.8,1395.6 340.0,1393.8 340.3,1390.0 340.5,1400.6 340.7,1393.8 340.9,1403.6 341.1,1382.8 341.4,1385.9 341.6,1404.3 341.8,1392.6 342.0,1407.2 342.2,1407.4 342.5,1398.8 342.7,1402.4 342.9,1402.0 343.1,1398.5 343.3,1391.7 343.6,1401.6 343.8,1400.7 344.0,1402.0 344.2,1407.4 344.4,1395.3 344.7,1384.4 344.9,1389.0 345.1,1406.5 345.3,1393.1 345.6,1402.5 345.8,1389.4 346.0,1406.0 346.2,1386.8 346.4,1406.3 346.7,1390.8 346.9,1386.0 347.1,1393.7 347.3,1386.8 347.5,1396.5 347.8,1388.3 348.0,1398.1 348.2,1394.2 348.4,1392.2 348.6,1388.7 348.9,1397.9 349.1,1398.6 349.3,1388.4 349.5,1393.1 349.7,1397.7 350.0,1394.8 350.2,1389.4 350.4,1421.0 350.6,1399.6 350.9,1391.4 351.1,1390.7 351.3,1397.3 351.5,1394.3 351.7,1389.2 352.0,1398.8 352.2,1396.9 352.4,1389.1 352.6,1390.5 352.8,1387.7 353.1,1380.3 353.3,1392.0 353.5,1389.6 353.7,1399.5 353.9,1398.3 354.2,1388.9 354.4,1388.9 354.6,1387.9 354.8,1389.5 355.1,1392.2 355.3,1404.5 355.5,1390.7 355.7,1391.9 355.9,1406.0 356.2,1390.3 356.4,1392.3 356.6,1391.0 356.8,1397.5 357.0,1395.4 357.3,1385.2 357.5,1395.0 357.7,1394.3 357.9,1384.9 358.1,1400.5 358.4,1391.2 358.6,1387.0 358.8,1384.8 359.0,1386.8 359.2,1410.2 359.5,1390.6 359.7,1388.2 359.9,1404.9 360.1,1389.3 360.4,1396.4 360.6,1392.0 360.8,1392.6 361.0,1393.8 361.2,1390.2 361.5,1380.7 361.7,1387.5 361.9,1390.8 362.1,1397.4 362.3,1386.4 362.6,1392.4 362.8,1400.9 363.0,1391.1 363.2,1391.7 363.4,1388.9 363.7,1385.4 363.9,1391.5 364.1,1413.3 364.3,1385.6 364.5,1396.9 364.8,1394.3 365.0,1388.6 365.2,1398.0 365.4,1371.5 365.7,1382.5 365.9,1392.0 366.1,1388.9 366.3,1395.4 366.5,1393.6 366.8,1398.8 367.0,1391.6 367.2,1394.4 367.4,1393.9 367.6,1398.8 367.9,1383.4 368.1,1386.5 368.3,1399.3 368.5,1374.2 368.7,1388.0 369.0,1393.3 369.2,1397.6 369.4,1389.3 369.6,1398.6 369.8,1381.2 370.1,1393.5 370.3,1402.6 370.5,1406.9 370.7,1385.6 371.0,1397.7 371.2,1396.2 371.4,1392.3 371.6,1406.8 371.8,1404.1 372.1,1399.8 372.3,1392.2 372.5,1393.6 372.7,1401.3 372.9,1396.8 373.2,1389.5 373.4,1390.8 373.6,1396.0 373.8,1392.4 374.0,1393.9 374.3,1389.9 374.5,1381.1 374.7,1397.5 374.9,1389.7 375.2,1392.5 375.4,1391.3 375.6,1393.6 375.8,1403.4 376.0,1400.1 376.3,1408.1 376.5,1401.4 376.7,1395.9 376.9,1387.8 377.1,1387.2 377.4,1393.6 377.6,1398.0 377.8,1402.2 378.0,1405.1 378.2,1392.8 378.5,1389.3 378.7,1393.9 378.9,1398.9 379.1,1398.1 379.3,1383.6 379.6,1390.9 379.8,1395.0 380.0,1387.2 380.2,1392.6 380.5,1400.4 380.7,1392.2 380.9,1392.6 381.1,1390.1 381.3,1398.7 381.6,1391.6 381.8,1391.7 382.0,1392.7 382.2,1393.6 382.4,1393.5 382.7,1394.4 382.9,1392.7 383.1,1389.7 383.3,1394.1 383.5,1398.6 383.8,1396.7 384.0,1396.2 384.2,1396.0 384.4,1393.6 384.6,1404.3 384.9,1391.6 385.1,1383.5 385.3,1387.5 385.5,1395.9 385.8,1399.8 386.0,1394.7 386.2,1395.1 386.4,1393.5 386.6,1398.6 386.9,1398.4 387.1,1391.5 387.3,1395.1 387.5,1388.6 387.7,1397.7 388.0,1399.4 388.2,1390.7 388.4,1398.0 388.6,1397.9 388.8,1389.3 389.1,1396.5 389.3,1388.7 389.5,1398.6 389.7,1393.1 389.9,1390.9 390.2,1387.3 390.4,1388.9 390.6,1398.8 390.8,1398.7 391.1,1387.1 391.3,1385.0 391.5,1427.9 391.7,1419.3 391.9,1422.7 392.2,1392.7 392.4,1411.9 392.6,1401.3 392.8,1393.2 393.0,1398.2 393.3,1392.5 393.5,1378.4 393.7,1406.1 393.9,1424.4 394.1,1401.0 394.4,1398.0 394.6,1407.0 394.8,1389.1 395.0,1398.3 395.3,1378.5 395.5,1386.1 395.7,1411.7 395.9,1390.7 396.1,1397.7 396.4,1398.4 396.6,1385.9 396.8,1379.8 397.0,1416.2 397.2,1412.6 397.5,1409.2 397.7,1389.1 397.9,1402.7 398.1,1449.3 398.3,1408.4 398.6,1400.6 398.8,1390.0 399.0,1388.4 399.2,1339.9 399.4,1403.0 399.7,1397.6 399.9,1399.1 400.1,1400.7 400.3,1428.2 400.6,1376.9 400.8,1384.5 401.0,1410.9 401.2,1408.9 401.4,1350.1 401.7,1389.8 401.9,1380.6 402.1,1382.6 402.3,1391.2 402.5,1401.4 402.8,1385.5 403.0,1387.3 403.2,1403.8 403.4,1412.0 403.6,1371.0 403.9,1390.9 404.1,1397.0 404.3,1403.9 404.5,1410.6 404.7,1382.1 405.0,1396.0 405.2,1404.6 405.4,1402.7 405.6,1425.7 405.9,1400.9 406.1,1376.9 406.3,1405.0 406.5,1403.2 406.7,1413.3 407.0,1387.8 407.2,1418.8 407.4,1420.3 407.6,1389.2 407.8,1385.9 408.1,1406.9 408.3,1385.4 408.5,1388.2 408.7,1418.2 408.9,1388.7 409.2,1374.2 409.4,1392.7 409.6,1403.1 409.8,1396.9 410.0,1403.5 410.3,1391.1 410.5,1382.7 410.7,1390.7 410.9,1390.3 411.2,1381.8 411.4,1392.7 411.6,1385.5 411.8,1409.2 412.0,1401.4 412.3,1369.4 412.5,1384.6 412.7,1412.5 412.9,1385.6 413.1,1390.6 413.4,1386.6 413.6,1385.4 413.8,1393.8 414.0,1405.5 414.2,1399.7 414.5,1389.4 414.7,1393.7 414.9,1394.9 415.1,1397.2 415.3,1392.8 415.6,1395.7 415.8,1390.3 416.0,1392.2 416.2,1403.7 416.5,1399.3 416.7,1394.7 416.9,1400.3 417.1,1396.0 417.3,1392.8 417.6,1398.0 417.8,1405.2 418.0,1392.9 418.2,1397.2 418.4,1399.2 418.7,1398.6 418.9,1382.2 419.1,1393.1 419.3,1400.6 419.5,1397.1 419.8,1399.8 420.0,1398.8 420.2,1398.1 420.4,1380.3 420.7,1395.1 420.9,1399.2 421.1,1389.1 421.3,1392.9 421.5,1411.4 421.8,1393.1 422.0,1395.7 422.2,1390.1 422.4,1401.4 422.6,1401.9 422.9,1392.8 423.1,1405.3 423.3,1402.7 423.5,1393.2 423.7,1388.4 424.0,1394.7 424.2,1392.0 424.4,1405.6 424.6,1399.1 424.8,1381.4 425.1,1392.9 425.3,1392.2 425.5,1399.2 425.7,1388.9 426.0,1391.7 426.2,1391.0 426.4,1391.4 426.6,1396.2 426.8,1398.0 427.1,1408.1 427.3,1393.7 427.5,1391.9 427.7,1394.8 427.9,1404.3 428.2,1385.8 428.4,1390.4 428.6,1404.0 428.8,1388.5 429.0,1405.0 429.3,1379.0 429.5,1406.4 429.7,1389.2 429.9,1393.2 430.1,1398.6 430.4,1395.9 430.6,1390.6 430.8,1398.9 431.0,1392.7 431.3,1393.7 431.5,1393.8 431.7,1391.6 431.9,1393.7 432.1,1392.2 432.4,1393.9 432.6,1406.9 432.8,1400.3 433.0,1390.9 433.2,1381.7 433.5,1398.4 433.7,1386.1 433.9,1400.6 434.1,1375.7 434.3,1388.0 434.6,1392.7 434.8,1392.6 435.0,1396.7 435.2,1391.6 435.4,1391.3 435.7,1388.3 435.9,1393.5 436.1,1395.6 436.3,1394.6 436.6,1393.9 436.8,1389.9 437.0,1386.2 437.2,1397.9 437.4,1386.9 437.7,1391.8 437.9,1399.5 438.1,1397.1 438.3,1401.1 438.5,1401.1 438.8,1395.5 439.0,1392.1 439.2,1394.8 439.4,1391.2 439.6,1391.8 439.9,1392.1 440.1,1392.4 440.3,1392.7 440.5,1407.2 440.8,1392.9 441.0,1405.4 441.2,1389.7 441.4,1401.1 441.6,1399.0 441.9,1402.8 442.1,1391.7 442.3,1401.7 442.5,1396.0 442.7,1400.4 443.0,1393.5 443.2,1400.8 443.4,1391.5 443.6,1395.0 443.8,1398.7 444.1,1395.1 444.3,1397.9 444.5,1368.3 444.7,1397.1 444.9,1403.4 445.2,1395.7 445.4,1392.3 445.6,1411.0 445.8,1393.5 446.1,1389.6 446.3,1404.6 446.5,1383.6 446.7,1401.6 446.9,1390.3 447.2,1357.7 447.4,1386.3 447.6,1397.1 447.8,1394.7 448.0,1387.9 448.3,1384.8 448.5,1391.7 448.7,1388.7 448.9,1401.7 449.1,1399.3 449.4,1395.0 449.6,1392.4 449.8,1391.2 450.0,1386.4 450.2,1394.1 450.5,1415.4 450.7,1391.8 450.9,1403.2 451.1,1412.5 451.4,1396.4 451.6,1397.5 451.8,1389.5 452.0,1392.6 452.2,1390.8 452.5,1397.3 452.7,1365.0 452.9,1391.0 453.1,1384.8 453.3,1401.6 453.6,1395.4 453.8,1402.8 454.0,1401.9 454.2,1390.6 454.4,1411.4 454.7,1399.5 454.9,1394.7 455.1,1387.0 455.3,1404.3 455.5,1389.5 455.8,1394.5 456.0,1412.3 456.2,1389.8 456.4,1384.0 456.7,1398.7 456.9,1396.9 457.1,1399.8 457.3,1393.3 457.5,1393.3 457.8,1385.1 458.0,1389.8 458.2,1393.7 458.4,1396.6 458.6,1390.4 458.9,1397.3 459.1,1396.8 459.3,1391.8 459.5,1391.4 459.7,1399.1 460.0,1397.4 460.2,1387.5 460.4,1402.1 460.6,1392.0 460.9,1395.3 461.1,1381.6 461.3,1395.3 461.5,1395.6 461.7,1393.8 462.0,1397.3 462.2,1383.5 462.4,1385.2 462.6,1388.8 462.8,1387.4 463.1,1398.8 463.3,1397.0 463.5,1388.6 463.7,1371.3 463.9,1396.7 464.2,1405.5 464.4,1397.5 464.6,1396.9 464.8,1393.6 465.0,1393.0 465.3,1396.5 465.5,1391.3 465.7,1393.5 465.9,1392.4 466.2,1393.6 466.4,1398.9 466.6,1392.5 466.8,1395.8 467.0,1397.7 467.3,1399.5 467.5,1376.5 467.7,1389.8 467.9,1392.5 468.1,1389.9 468.4,1394.3 468.6,1392.0 468.8,1395.8 469.0,1400.0 469.2,1388.1 469.5,1390.3 469.7,1384.8 469.9,1389.8 470.1,1384.1 470.3,1374.2 470.6,1384.0 470.8,1412.0 471.0,1390.1 471.2,1402.7 471.5,1403.4 471.7,1383.7 471.9,1409.2 472.1,1389.1 472.3,1390.3 472.6,1390.1 472.8,1398.3 473.0,1391.1 473.2,1396.7 473.4,1396.3 473.7,1395.3 473.9,1386.1 474.1,1394.2 474.3,1393.9 474.5,1389.3 474.8,1388.4 475.0,1401.0 475.2,1385.6 475.4,1392.0 475.6,1393.4 475.9,1402.6 476.1,1395.1 476.3,1393.2 476.5,1391.9 476.8,1392.9 477.0,1411.0 477.2,1394.3 477.4,1397.9 477.6,1397.8 477.9,1387.3 478.1,1395.7 478.3,1389.2 478.5,1379.0 478.7,1382.9 479.0,1401.0 479.2,1394.1 479.4,1407.6 479.6,1398.8 479.8,1396.3 480.1,1388.7 480.3,1393.0 480.5,1399.5 480.7,1384.8 480.9,1383.2 481.2,1387.0 481.4,1391.4 481.6,1382.6 481.8,1406.3 482.1,1391.7 482.3,1407.4 482.5,1386.7 482.7,1389.7 482.9,1388.4 483.2,1386.2 483.4,1395.2 483.6,1401.0 483.8,1399.3 484.0,1387.5 484.3,1388.0 484.5,1414.8 484.7,1384.1 484.9,1386.0 485.1,1385.7 485.4,1388.3 485.6,1390.6 485.8,1391.7 486.0,1392.9 486.3,1394.7 486.5,1403.4 486.7,1392.7 486.9,1387.9 487.1,1397.4 487.4,1392.4 487.6,1391.2 487.8,1394.3 488.0,1396.5 488.2,1393.8 488.5,1394.9 488.7,1399.8 488.9,1382.9 489.1,1377.4 489.3,1391.5 489.6,1385.3 489.8,1402.6 490.0,1395.4 490.2,1394.4 490.4,1388.9 490.7,1397.0 490.9,1391.1 491.1,1395.9 491.3,1388.0 491.6,1396.7 491.8,1398.4 492.0,1396.8 492.2,1398.9 492.4,1396.2 492.7,1401.1 492.9,1395.9 493.1,1397.7 493.3,1396.7 493.5,1399.6 493.8,1376.9 494.0,1380.7 494.2,1384.5 494.4,1393.8 494.6,1379.4 494.9,1388.5 495.1,1412.9 495.3,1406.9 495.5,1413.6 495.7,1412.9 496.0,1384.4 496.2,1400.2 496.4,1402.4 496.6,1383.9 496.9,1405.7 497.1,1400.3 497.3,1389.0 497.5,1392.2 497.7,1390.5 498.0,1386.5 498.2,1403.6 498.4,1401.5 498.6,1387.7 498.8,1391.8 499.1,1393.9 499.3,1394.2 499.5,1389.3 499.7,1384.0 499.9,1405.0 500.2,1390.3 500.4,1377.8 500.6,1420.2 500.8,1388.6 501.0,1380.2 501.3,1398.9 501.5,1396.2 501.7,1410.3 501.9,1398.4 502.2,1400.9 502.4,1388.7 502.6,1383.3 502.8,1392.5 503.0,1370.0 503.3,1398.4 503.5,1380.4 503.7,1387.8 503.9,1386.4 504.1,1378.3 504.4,1393.8 504.6,1393.8 504.8,1395.4 505.0,1402.6 505.2,1376.1 505.5,1395.2 505.7,1400.2 505.9,1399.0 506.1,1370.4 506.4,1381.5 506.6,1392.0 506.8,1398.0 507.0,1398.3 507.2,1389.2 507.5,1384.3 507.7,1393.3 507.9,1402.7 508.1,1389.0 508.3,1400.2 508.6,1391.5 508.8,1391.4 509.0,1390.6 509.2,1402.2 509.4,1374.2 509.7,1392.5 509.9,1389.1 510.1,1394.9 510.3,1397.3 510.5,1413.7 510.8,1400.6 511.0,1394.2 511.2,1397.9 511.4,1403.0 511.7,1380.1 511.9,1383.5 512.1,1381.8 512.3,1397.9 512.5,1391.5 512.8,1403.5 513.0,1394.5 513.2,1394.3 513.4,1390.2 513.6,1399.4 513.9,1390.5 514.1,1387.4 514.3,1387.2 514.5,1388.3 514.7,1383.6 515.0,1388.8 515.2,1400.1 515.4,1409.7 515.6,1410.6 515.8,1367.3 516.1,1404.2 516.3,1397.0 516.5,1395.2 516.7,1400.9 517.0,1411.4 517.2,1402.3 517.4,1400.6 517.6,1393.2 517.8,1395.9 518.1,1404.4 518.3,1393.0 518.5,1408.9 518.7,1390.0 518.9,1410.1 519.2,1415.0 519.4,1405.2 519.6,1393.6 519.8,1390.5 520.0,1401.7 520.3,1397.8 520.5,1394.9 520.7,1393.4 520.9,1398.7 521.1,1392.7 521.4,1372.1 521.6,1401.1 521.8,1392.8 522.0,1396.2 522.3,1379.7 522.5,1382.3 522.7,1385.1 522.9,1391.6 523.1,1386.9 523.4,1387.0 523.6,1400.6 523.8,1387.0 524.0,1402.5 524.2,1402.8 524.5,1401.7 524.7,1393.5 524.9,1427.9 525.1,1387.6 525.3,1402.5 525.6,1396.8 525.8,1399.7 526.0,1392.3 526.2,1397.0 526.5,1387.6 526.7,1388.8 526.9,1392.6 527.1,1404.4 527.3,1393.7 527.6,1396.7 527.8,1391.4 528.0,1395.9 528.2,1395.4 528.4,1402.5 528.7,1398.3 528.9,1384.3 529.1,1395.0 529.3,1389.6 529.5,1393.0 529.8,1400.7 530.0,1376.6 530.2,1405.8 530.4,1366.0 530.6,1394.8 530.9,1414.8 531.1,1402.8 531.3,1385.7 531.5,1399.6 531.8,1397.1 532.0,1392.9 532.2,1383.0 532.4,1399.5 532.6,1411.7 532.9,1409.6 533.1,1405.3 533.3,1396.3 533.5,1399.7 533.7,1399.5 534.0,1388.0 534.2,1382.5 534.4,1388.0 534.6,1390.7 534.8,1398.3 535.1,1391.9 535.3,1389.3 535.5,1394.6 535.7,1393.1 535.9,1398.2 536.2,1386.5 536.4,1401.1 536.6,1378.6 536.8,1392.6 537.1,1401.7 537.3,1388.8 537.5,1399.2 537.7,1402.3 537.9,1390.2 538.2,1388.9 538.4,1410.1 538.6,1396.9 538.8,1385.4 539.0,1399.5 539.3,1400.6 539.5,1403.3 539.7,1407.9 539.9,1373.6 540.1,1397.1 540.4,1432.3 540.6,1385.4 540.8,1389.3 541.0,1390.2 541.2,1408.9 541.5,1408.8 541.7,1390.5 541.9,1392.9 542.1,1390.9 542.4,1391.7 542.6,1389.9 542.8,1387.6 543.0,1386.9 543.2,1396.5 543.5,1387.1 543.7,1403.0 543.9,1394.3 544.1,1405.4 544.3,1388.7 544.6,1393.3 544.8,1397.9 545.0,1412.5 545.2,1393.5 545.4,1384.3 545.7,1383.5 545.9,1403.4 546.1,1393.1 546.3,1385.5 546.5,1386.1 546.8,1387.6 547.0,1399.5 547.2,1395.6 547.4,1386.4 547.7,1372.1 547.9,1402.3 548.1,1407.3 548.3,1389.6 548.5,1384.4 548.8,1386.5 549.0,1396.6 549.2,1378.9 549.4,1397.5 549.6,1395.3 549.9,1380.3 550.1,1381.6 550.3,1382.4 550.5,1383.0 550.7,1394.8 551.0,1390.3 551.2,1390.3 551.4,1398.5 551.6,1397.4 551.9,1382.0 552.1,1390.8 552.3,1405.7 552.5,1400.5 552.7,1425.0 553.0,1408.3 553.2,1391.2 553.4,1391.5 553.6,1393.9 553.8,1403.3 554.1,1395.9 554.3,1400.6 554.5,1375.7 554.7,1395.2 554.9,1392.9 555.2,1401.6 555.4,1379.8 555.6,1387.5 555.8,1383.7 556.0,1399.6 556.3,1397.4 556.5,1384.4 556.7,1386.4 556.9,1398.6 557.2,1398.4 557.4,1405.0 557.6,1391.3 557.8,1406.2 558.0,1386.4 558.3,1392.8 558.5,1392.1 558.7,1398.6 558.9,1385.4 559.1,1417.9 559.4,1397.6 559.6,1404.1 559.8,1384.9 560.0,1406.9 560.2,1390.7 560.5,1408.8 560.7,1385.8 560.9,1390.3 561.1,1402.8 561.3,1396.5 561.6,1390.5 561.8,1404.5 562.0,1404.4 562.2,1390.7 562.5,1396.6 562.7,1391.2 562.9,1393.9 563.1,1397.7 563.3,1386.3 563.6,1385.5 563.8,1403.0 564.0,1389.3 564.2,1397.6 564.4,1401.0 564.7,1392.8 564.9,1403.5 565.1,1377.7 565.3,1407.1 565.5,1391.3 565.8,1392.9 566.0,1390.0 566.2,1394.2 566.4,1404.1 566.6,1393.6 566.9,1388.1 567.1,1391.9 567.3,1386.1 567.5,1407.7 567.8,1399.0 568.0,1392.3 568.2,1395.9 568.4,1387.8 568.6,1401.7 568.9,1396.8 569.1,1406.3 569.3,1392.7 569.5,1394.7 569.7,1410.1 570.0,1395.9 570.2,1413.7 570.4,1391.6 570.6,1392.6 570.8,1381.5 571.1,1405.0 571.3,1394.8 571.5,1413.2 571.7,1395.4 572.0,1415.2 572.2,1393.5 572.4,1384.8 572.6,1392.4 572.8,1389.3 573.1,1405.6 573.3,1404.0 573.5,1396.8 573.7,1396.9 573.9,1384.2 574.2,1397.5 574.4,1396.7 574.6,1396.5 574.8,1396.8 575.0,1392.1 575.3,1398.1 575.5,1400.0 575.7,1394.9 575.9,1388.4 576.1,1404.6 576.4,1395.0 576.6,1387.4 576.8,1376.8 577.0,1398.6 577.3,1389.8 577.5,1384.4 577.7,1384.4 577.9,1378.9 578.1,1402.9 578.4,1360.0 578.6,1391.4 578.8,1389.4 579.0,1407.8 579.2,1411.0 579.5,1403.9 579.7,1397.4 579.9,1401.1 580.1,1398.0 580.3,1390.6 580.6,1395.3 580.8,1390.4 581.0,1392.3 581.2,1389.1 581.4,1400.7 581.7,1370.0 581.9,1389.1 582.1,1389.9 582.3,1400.8 582.6,1404.7 582.8,1392.3 583.0,1392.7 583.2,1392.9 583.4,1406.6 583.7,1395.6 583.9,1386.1 584.1,1395.8 584.3,1400.1 584.5,1390.1 584.8,1405.4 585.0,1376.4 585.2,1391.4 585.4,1405.1 585.6,1382.2 585.9,1391.7 586.1,1401.4 586.3,1392.7 586.5,1395.9 586.7,1393.6 587.0,1394.2 587.2,1399.5 587.4,1389.7 587.6,1397.3 587.9,1394.7 588.1,1408.3 588.3,1390.8 588.5,1401.7 588.7,1394.6 589.0,1388.3 589.2,1379.0 589.4,1392.7 589.6,1393.5 589.8,1393.3 590.1,1397.5 590.3,1388.6 590.5,1397.2 590.7,1397.8 590.9,1399.5 591.2,1394.0 591.4,1383.1 591.6,1389.1 591.8,1386.7 592.1,1402.6 592.3,1406.4 592.5,1390.2 592.7,1396.3 592.9,1388.5 593.2,1382.9 593.4,1388.6 593.6,1399.9 593.8,1392.6 594.0,1400.3 594.3,1384.2 594.5,1388.5 594.7,1396.7 594.9,1395.2 595.1,1397.1 595.4,1383.6 595.6,1409.9 595.8,1393.0 596.0,1401.9 596.2,1387.7 596.5,1383.9 596.7,1401.8 596.9,1408.7 597.1,1403.4 597.4,1388.0 597.6,1412.4 597.8,1392.6 598.0,1369.2 598.2,1397.8 598.5,1418.3 598.7,1405.1 598.9,1398.7 599.1,1409.0 599.3,1396.4 599.6,1408.3 599.8,1399.2 600.0,1387.1 600.2,1393.6 600.4,1392.2 600.7,1393.7 600.9,1395.9 601.1,1398.1 601.3,1394.2 601.5,1396.7 601.8,1391.6 602.0,1394.7 602.2,1404.7 602.4,1393.2 602.7,1399.7 602.9,1373.6 603.1,1394.4 603.3,1393.6 603.5,1401.8 603.8,1387.4 604.0,1381.3 604.2,1387.2 604.4,1392.6 604.6,1402.7 604.9,1402.3 605.1,1411.0 605.3,1401.3 605.5,1401.8 605.7,1397.9 606.0,1392.7 606.2,1394.6 606.4,1381.7 606.6,1391.3 606.8,1381.9 607.1,1398.5 607.3,1401.3 607.5,1395.2 607.7,1389.5 608.0,1392.9 608.2,1375.7 608.4,1398.7 608.6,1393.1 608.8,1387.1 609.1,1392.0 609.3,1391.7 609.5,1394.1 609.7,1396.5 609.9,1389.2 610.2,1390.3 610.4,1386.1 610.6,1393.8 610.8,1387.0 611.0,1394.4 611.3,1395.6 611.5,1373.8 611.7,1383.0 611.9,1409.8 612.2,1385.7 612.4,1393.7 612.6,1385.8 612.8,1385.6 613.0,1394.1 613.3,1384.8 613.5,1383.9 613.7,1391.3 613.9,1405.8 614.1,1391.5 614.4,1403.6 614.6,1387.6 614.8,1399.5 615.0,1390.6 615.2,1355.1 615.5,1396.1 615.7,1406.1 615.9,1379.1 616.1,1399.8 616.3,1403.4 616.6,1390.6 616.8,1393.8 617.0,1409.2 617.2,1397.7 617.5,1392.2 617.7,1393.7 617.9,1388.3 618.1,1360.0 618.3,1387.5 618.6,1379.0 618.8,1380.7 619.0,1396.0 619.2,1387.0 619.4,1389.4 619.7,1405.8 619.9,1399.9 620.1,1392.6 620.3,1384.7 620.5,1396.7 620.8,1394.4 621.0,1402.7 621.2,1393.5 621.4,1397.5 621.6,1358.5 621.9,1393.6 622.1,1404.3 622.3,1417.5 622.5,1405.8 622.8,1374.4 623.0,1388.3 623.2,1418.9 623.4,1393.2 623.6,1396.9 623.9,1396.9 624.1,1403.5 624.3,1369.5 624.5,1406.9 624.7,1403.0 625.0,1398.3 625.2,1371.5 625.4,1386.8 625.6,1399.6 625.8,1421.1 626.1,1375.6 626.3,1386.8 626.5,1399.7 626.7,1391.4 626.9,1386.8 627.2,1405.1 627.4,1398.3 627.6,1397.5 627.8,1391.4 628.1,1403.4 628.3,1389.7 628.5,1402.5 628.7,1387.5 628.9,1413.3 629.2,1369.1 629.4,1403.5 629.6,1411.5 629.8,1411.6 630.0,1392.0 630.3,1361.4 630.5,1395.5 630.7,1406.6 630.9,1413.7 631.1,1369.3 631.4,1403.0 631.6,1395.9 631.8,1394.3 632.0,1363.6 632.2,1400.9 632.5,1374.8 632.7,1375.2 632.9,1394.4 633.1,1392.8 633.4,1380.1 633.6,1406.2 633.8,1395.7 634.0,1389.4 634.2,1407.1 634.5,1391.5 634.7,1397.7 634.9,1371.9 635.1,1395.9 635.3,1413.7 635.6,1378.4 635.8,1399.7 636.0,1399.4 636.2,1383.6 636.4,1395.0 636.7,1397.2 636.9,1379.1 637.1,1392.0 637.3,1397.4 637.6,1401.8 637.8,1400.4 638.0,1396.4 638.2,1388.5 638.4,1377.2 638.7,1391.0 638.9,1397.7 639.1,1404.6 639.3,1391.6 639.5,1394.5 639.8,1367.7 640.0,1390.6 640.2,1382.8 640.4,1382.8 640.6,1428.2 640.9,1385.7 641.1,1366.4 641.3,1399.1 641.5,1383.0 641.7,1390.6 642.0,1397.0 642.2,1395.0 642.4,1383.3 642.6,1399.7 642.9,1399.5 643.1,1395.8 643.3,1394.6 643.5,1397.4 643.7,1389.5 644.0,1393.9 644.2,1396.8 644.4,1393.9 644.6,1387.6 644.8,1389.1 645.1,1392.0 645.3,1391.5 645.5,1387.5 645.7,1402.3 645.9,1387.5 646.2,1398.4 646.4,1392.7 646.6,1395.0 646.8,1389.8 647.0,1393.6 647.3,1393.1 647.5,1391.2 647.7,1394.3 647.9,1393.5 648.2,1394.7 648.4,1391.0 648.6,1391.5 648.8,1397.5 649.0,1392.8 649.3,1411.4 649.5,1390.2 649.7,1394.4 649.9,1396.2 650.1,1392.6 650.4,1386.2 650.6,1347.6 650.8,1391.9 651.0,1394.2 651.2,1381.5 651.5,1392.6 651.7,1384.8 651.9,1400.4 652.1,1396.2 652.3,1404.9 652.6,1394.8 652.8,1390.6 653.0,1391.3 653.2,1396.6 653.5,1394.5 653.7,1388.0 653.9,1391.6 654.1,1397.5 654.3,1395.5 654.6,1395.0 654.8,1394.2 655.0,1371.9" fill="none" stroke="#5079c8" stroke-width="3.2" stroke-linejoin="round" stroke-linecap="round"/>
</g>
</svg>
</body></html>
